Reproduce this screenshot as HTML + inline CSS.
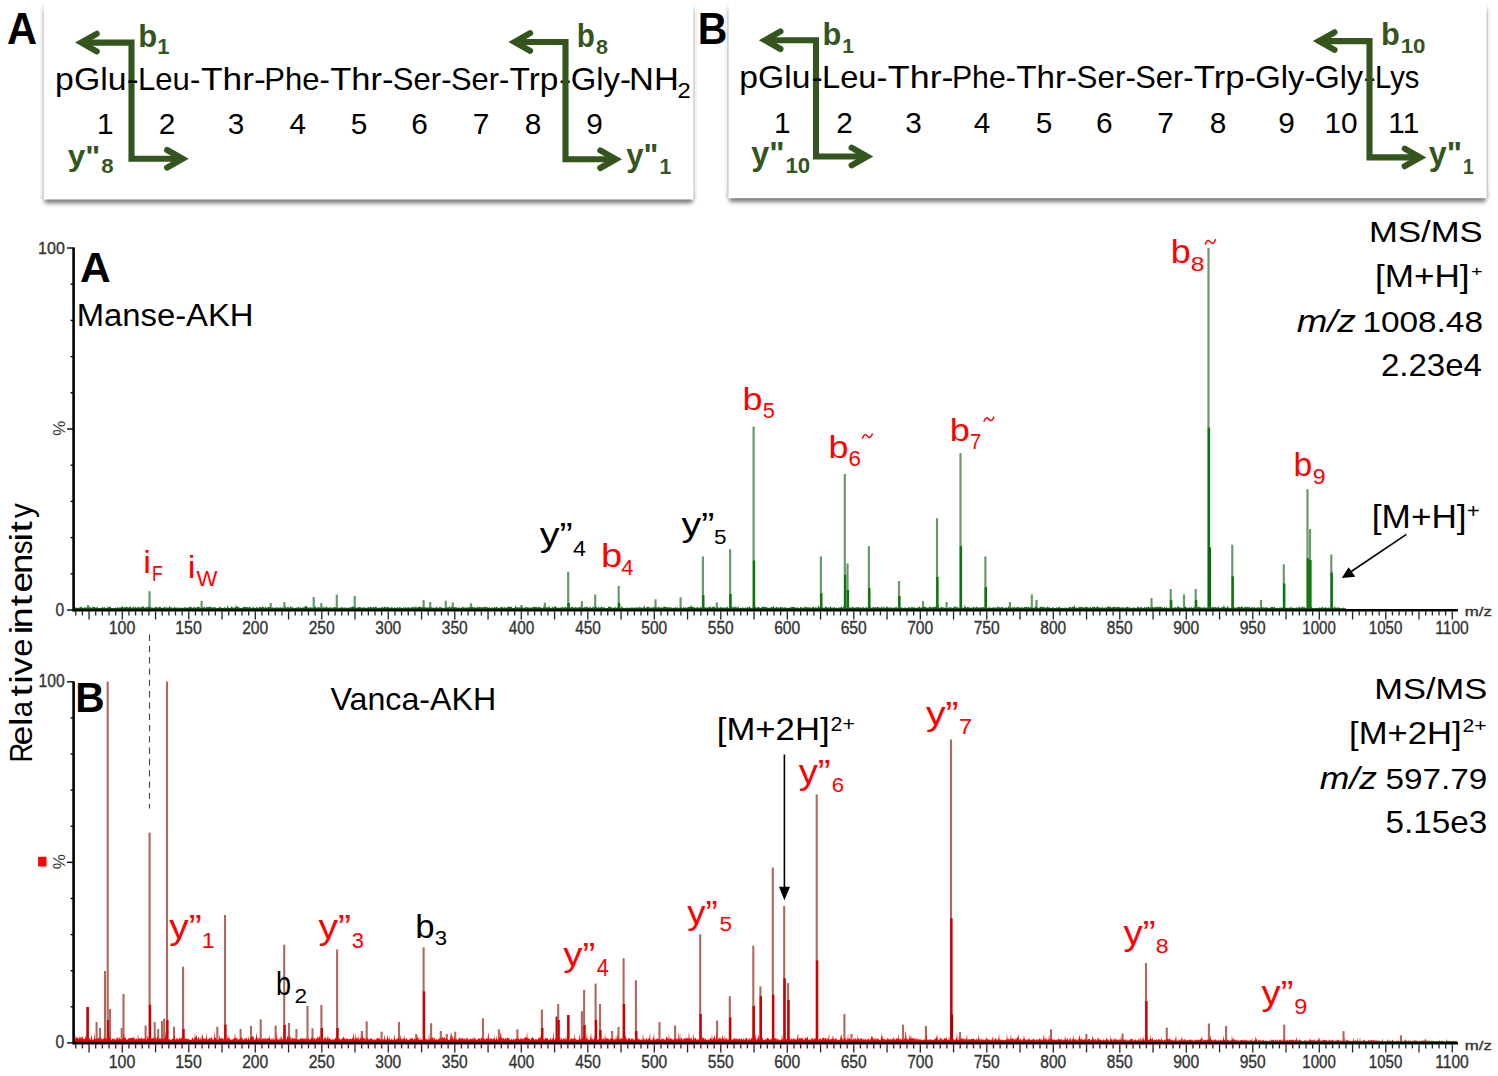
<!DOCTYPE html><html><head><meta charset="utf-8"><title>MS/MS spectra</title><style>html,body{margin:0;padding:0;background:#fff;width:1498px;height:1076px;overflow:hidden}svg{display:block;font-family:"Liberation Sans",sans-serif}</style></head><body><svg width="1498" height="1076" viewBox="0 0 1498 1076" font-family="'Liberation Sans', sans-serif"><defs>
<filter id="blur1" x="-5%" y="-50%" width="110%" height="200%"><feGaussianBlur stdDeviation="2.2"/></filter>
<linearGradient id="edgeg" gradientUnits="userSpaceOnUse" x1="0" y1="3" x2="0" y2="14">
<stop offset="0" stop-color="#d0d0d0" stop-opacity="0"/><stop offset="1" stop-color="#d0d0d0" stop-opacity="1"/></linearGradient>
<linearGradient id="edgeh" gradientUnits="userSpaceOnUse" x1="0" y1="3" x2="0" y2="14">
<stop offset="0" stop-color="#000" stop-opacity="0"/><stop offset="1" stop-color="#000" stop-opacity="0.05"/></linearGradient>
</defs><rect x="44.4" y="191.5" width="648.4" height="11.8" rx="2" fill="#000" opacity="0.52" filter="url(#blur1)"/><rect x="42.4" y="6" width="652.4" height="193.5" fill="#fff"/><line x1="41.55" y1="3" x2="41.55" y2="199.5" stroke="url(#edgeh)" stroke-width="3"/><line x1="43.15" y1="3" x2="43.15" y2="199.5" stroke="url(#edgeg)" stroke-width="1.6"/><line x1="695.65" y1="3" x2="695.65" y2="199.5" stroke="url(#edgeh)" stroke-width="3"/><line x1="694.05" y1="3" x2="694.05" y2="199.5" stroke="url(#edgeg)" stroke-width="1.6"/><rect x="729.1" y="190.2" width="756.9" height="11.8" rx="2" fill="#000" opacity="0.52" filter="url(#blur1)"/><rect x="727.1" y="6" width="760.9" height="192.2" fill="#fff"/><line x1="726.25" y1="3" x2="726.25" y2="198.2" stroke="url(#edgeh)" stroke-width="3"/><line x1="727.85" y1="3" x2="727.85" y2="198.2" stroke="url(#edgeg)" stroke-width="1.6"/><line x1="1488.85" y1="3" x2="1488.85" y2="198.2" stroke="url(#edgeh)" stroke-width="3"/><line x1="1487.25" y1="3" x2="1487.25" y2="198.2" stroke="url(#edgeg)" stroke-width="1.6"/><g><line x1="88.00" y1="609.00" x2="88.00" y2="605.00" stroke="#66996b" stroke-width="2.2"/><line x1="149.50" y1="609.00" x2="149.50" y2="591.20" stroke="#66996b" stroke-width="2.2"/><line x1="201.60" y1="609.00" x2="201.60" y2="600.80" stroke="#66996b" stroke-width="2.2"/><line x1="270.70" y1="609.00" x2="270.70" y2="603.00" stroke="#66996b" stroke-width="2.2"/><line x1="284.40" y1="609.00" x2="284.40" y2="602.00" stroke="#66996b" stroke-width="2.2"/><line x1="313.70" y1="609.00" x2="313.70" y2="597.00" stroke="#66996b" stroke-width="2.2"/><line x1="321.30" y1="609.00" x2="321.30" y2="603.00" stroke="#66996b" stroke-width="2.2"/><line x1="336.80" y1="609.00" x2="336.80" y2="594.70" stroke="#66996b" stroke-width="2.2"/><line x1="354.70" y1="609.00" x2="354.70" y2="595.90" stroke="#66996b" stroke-width="2.2"/><line x1="423.60" y1="609.00" x2="423.60" y2="599.90" stroke="#66996b" stroke-width="2.2"/><line x1="430.20" y1="609.00" x2="430.20" y2="602.00" stroke="#66996b" stroke-width="2.2"/><line x1="445.80" y1="609.00" x2="445.80" y2="600.70" stroke="#66996b" stroke-width="2.2"/><line x1="452.80" y1="609.00" x2="452.80" y2="602.50" stroke="#66996b" stroke-width="2.2"/><line x1="471.00" y1="609.00" x2="471.00" y2="603.30" stroke="#66996b" stroke-width="2.2"/><line x1="521.40" y1="609.00" x2="521.40" y2="605.00" stroke="#66996b" stroke-width="2.2"/><line x1="544.80" y1="609.00" x2="544.80" y2="602.50" stroke="#66996b" stroke-width="2.2"/><line x1="568.20" y1="609.00" x2="568.20" y2="571.70" stroke="#66996b" stroke-width="2.2"/><line x1="568.60" y1="609.00" x2="568.60" y2="603.00" stroke="#0b760b" stroke-width="2.4"/><line x1="581.90" y1="609.00" x2="581.90" y2="601.30" stroke="#66996b" stroke-width="2.2"/><line x1="595.20" y1="609.00" x2="595.20" y2="594.60" stroke="#66996b" stroke-width="2.2"/><line x1="618.70" y1="609.00" x2="618.70" y2="586.00" stroke="#66996b" stroke-width="2.2"/><line x1="619.10" y1="609.00" x2="619.10" y2="603.00" stroke="#0b760b" stroke-width="2.4"/><line x1="655.50" y1="609.00" x2="655.50" y2="599.30" stroke="#66996b" stroke-width="2.2"/><line x1="680.60" y1="609.00" x2="680.60" y2="597.30" stroke="#66996b" stroke-width="2.2"/><line x1="702.90" y1="609.00" x2="702.90" y2="556.40" stroke="#66996b" stroke-width="2.2"/><line x1="703.30" y1="609.00" x2="703.30" y2="595.20" stroke="#0b760b" stroke-width="2.4"/><line x1="716.80" y1="609.00" x2="716.80" y2="602.40" stroke="#66996b" stroke-width="2.2"/><line x1="730.10" y1="609.00" x2="730.10" y2="549.20" stroke="#66996b" stroke-width="2.2"/><line x1="730.50" y1="609.00" x2="730.50" y2="594.00" stroke="#0b760b" stroke-width="2.4"/><line x1="753.60" y1="609.00" x2="753.60" y2="426.60" stroke="#66996b" stroke-width="2.2"/><line x1="754.00" y1="609.00" x2="754.00" y2="560.50" stroke="#0b760b" stroke-width="2.4"/><line x1="820.90" y1="609.00" x2="820.90" y2="556.40" stroke="#66996b" stroke-width="2.2"/><line x1="821.30" y1="609.00" x2="821.30" y2="593.20" stroke="#0b760b" stroke-width="2.4"/><line x1="844.80" y1="609.00" x2="844.80" y2="474.00" stroke="#66996b" stroke-width="2.2"/><line x1="845.20" y1="609.00" x2="845.20" y2="574.80" stroke="#0b760b" stroke-width="2.4"/><line x1="847.50" y1="609.00" x2="847.50" y2="563.50" stroke="#66996b" stroke-width="2.2"/><line x1="847.90" y1="609.00" x2="847.90" y2="590.00" stroke="#0b760b" stroke-width="2.4"/><line x1="868.90" y1="609.00" x2="868.90" y2="546.20" stroke="#66996b" stroke-width="2.2"/><line x1="869.30" y1="609.00" x2="869.30" y2="588.00" stroke="#0b760b" stroke-width="2.4"/><line x1="899.00" y1="609.00" x2="899.00" y2="581.00" stroke="#66996b" stroke-width="2.2"/><line x1="899.40" y1="609.00" x2="899.40" y2="596.00" stroke="#0b760b" stroke-width="2.4"/><line x1="923.00" y1="609.00" x2="923.00" y2="601.00" stroke="#66996b" stroke-width="2.2"/><line x1="937.00" y1="609.00" x2="937.00" y2="518.20" stroke="#66996b" stroke-width="2.2"/><line x1="937.40" y1="609.00" x2="937.40" y2="576.80" stroke="#0b760b" stroke-width="2.4"/><line x1="946.60" y1="609.00" x2="946.60" y2="602.00" stroke="#66996b" stroke-width="2.2"/><line x1="960.50" y1="609.00" x2="960.50" y2="453.10" stroke="#66996b" stroke-width="2.2"/><line x1="960.90" y1="609.00" x2="960.90" y2="546.20" stroke="#0b760b" stroke-width="2.4"/><line x1="985.40" y1="609.00" x2="985.40" y2="556.40" stroke="#66996b" stroke-width="2.2"/><line x1="985.80" y1="609.00" x2="985.80" y2="587.00" stroke="#0b760b" stroke-width="2.4"/><line x1="1010.00" y1="609.00" x2="1010.00" y2="602.00" stroke="#66996b" stroke-width="2.2"/><line x1="1031.80" y1="609.00" x2="1031.80" y2="594.40" stroke="#66996b" stroke-width="2.2"/><line x1="1036.50" y1="609.00" x2="1036.50" y2="600.00" stroke="#66996b" stroke-width="2.2"/><line x1="1151.50" y1="609.00" x2="1151.50" y2="598.00" stroke="#66996b" stroke-width="2.2"/><line x1="1170.70" y1="609.00" x2="1170.70" y2="589.00" stroke="#66996b" stroke-width="2.2"/><line x1="1171.10" y1="609.00" x2="1171.10" y2="600.00" stroke="#0b760b" stroke-width="2.4"/><line x1="1184.00" y1="609.00" x2="1184.00" y2="594.40" stroke="#66996b" stroke-width="2.2"/><line x1="1195.70" y1="609.00" x2="1195.70" y2="589.00" stroke="#66996b" stroke-width="2.2"/><line x1="1196.10" y1="609.00" x2="1196.10" y2="600.00" stroke="#0b760b" stroke-width="2.4"/><line x1="1208.50" y1="609.00" x2="1208.50" y2="248.00" stroke="#66996b" stroke-width="2.2"/><line x1="1208.90" y1="609.00" x2="1208.90" y2="427.60" stroke="#0b760b" stroke-width="2.4"/><line x1="1232.30" y1="609.00" x2="1232.30" y2="544.70" stroke="#66996b" stroke-width="2.2"/><line x1="1232.70" y1="609.00" x2="1232.70" y2="576.30" stroke="#0b760b" stroke-width="2.4"/><line x1="1261.00" y1="609.00" x2="1261.00" y2="600.00" stroke="#66996b" stroke-width="2.2"/><line x1="1283.80" y1="609.00" x2="1283.80" y2="564.30" stroke="#66996b" stroke-width="2.2"/><line x1="1284.20" y1="609.00" x2="1284.20" y2="583.50" stroke="#0b760b" stroke-width="2.4"/><line x1="1307.50" y1="609.00" x2="1307.50" y2="489.20" stroke="#66996b" stroke-width="2.2"/><line x1="1307.90" y1="609.00" x2="1307.90" y2="558.10" stroke="#0b760b" stroke-width="2.4"/><line x1="1310.00" y1="609.00" x2="1310.00" y2="529.10" stroke="#66996b" stroke-width="2.2"/><line x1="1310.40" y1="609.00" x2="1310.40" y2="560.00" stroke="#0b760b" stroke-width="2.4"/><line x1="1331.30" y1="609.00" x2="1331.30" y2="554.50" stroke="#66996b" stroke-width="2.2"/><line x1="1331.70" y1="609.00" x2="1331.70" y2="572.60" stroke="#0b760b" stroke-width="2.4"/><line x1="1209.50" y1="609.00" x2="1209.50" y2="547.30" stroke="#0a6a0a" stroke-width="3.0"/><line x1="87.30" y1="1042.00" x2="87.30" y2="1007.00" stroke="#b0685e" stroke-width="2.1"/><line x1="87.70" y1="1042.00" x2="87.70" y2="1007.00" stroke="#cc0000" stroke-width="2.4"/><line x1="96.60" y1="1042.00" x2="96.60" y2="1022.00" stroke="#b0685e" stroke-width="2.1"/><line x1="100.00" y1="1042.00" x2="100.00" y2="1028.00" stroke="#b0685e" stroke-width="2.1"/><line x1="105.00" y1="1042.00" x2="105.00" y2="971.00" stroke="#b0685e" stroke-width="2.1"/><line x1="107.70" y1="1042.00" x2="107.70" y2="681.50" stroke="#b0685e" stroke-width="2.1"/><line x1="108.10" y1="1042.00" x2="108.10" y2="1020.00" stroke="#cc0000" stroke-width="2.4"/><line x1="110.00" y1="1042.00" x2="110.00" y2="1009.00" stroke="#b0685e" stroke-width="2.1"/><line x1="121.70" y1="1042.00" x2="121.70" y2="1028.00" stroke="#b0685e" stroke-width="2.1"/><line x1="123.50" y1="1042.00" x2="123.50" y2="994.00" stroke="#b0685e" stroke-width="2.1"/><line x1="145.60" y1="1042.00" x2="145.60" y2="1025.60" stroke="#b0685e" stroke-width="2.1"/><line x1="149.60" y1="1042.00" x2="149.60" y2="832.60" stroke="#b0685e" stroke-width="2.1"/><line x1="150.00" y1="1042.00" x2="150.00" y2="1004.70" stroke="#cc0000" stroke-width="2.4"/><line x1="154.70" y1="1042.00" x2="154.70" y2="1022.00" stroke="#b0685e" stroke-width="2.1"/><line x1="158.20" y1="1042.00" x2="158.20" y2="1029.00" stroke="#b0685e" stroke-width="2.1"/><line x1="162.00" y1="1042.00" x2="162.00" y2="1021.00" stroke="#b0685e" stroke-width="2.1"/><line x1="164.20" y1="1042.00" x2="164.20" y2="1018.60" stroke="#b0685e" stroke-width="2.1"/><line x1="167.00" y1="1042.00" x2="167.00" y2="681.50" stroke="#b0685e" stroke-width="2.1"/><line x1="167.40" y1="1042.00" x2="167.40" y2="1020.00" stroke="#cc0000" stroke-width="2.4"/><line x1="174.00" y1="1042.00" x2="174.00" y2="1026.80" stroke="#b0685e" stroke-width="2.1"/><line x1="183.10" y1="1042.00" x2="183.10" y2="966.60" stroke="#b0685e" stroke-width="2.1"/><line x1="183.50" y1="1042.00" x2="183.50" y2="1029.00" stroke="#cc0000" stroke-width="2.4"/><line x1="217.30" y1="1042.00" x2="217.30" y2="1026.80" stroke="#b0685e" stroke-width="2.1"/><line x1="225.00" y1="1042.00" x2="225.00" y2="915.00" stroke="#b0685e" stroke-width="2.1"/><line x1="225.40" y1="1042.00" x2="225.40" y2="1024.60" stroke="#cc0000" stroke-width="2.4"/><line x1="240.60" y1="1042.00" x2="240.60" y2="1029.00" stroke="#b0685e" stroke-width="2.1"/><line x1="251.00" y1="1042.00" x2="251.00" y2="1026.00" stroke="#b0685e" stroke-width="2.1"/><line x1="260.70" y1="1042.00" x2="260.70" y2="1019.40" stroke="#b0685e" stroke-width="2.1"/><line x1="275.60" y1="1042.00" x2="275.60" y2="1025.60" stroke="#b0685e" stroke-width="2.1"/><line x1="284.20" y1="1042.00" x2="284.20" y2="944.70" stroke="#b0685e" stroke-width="2.1"/><line x1="284.60" y1="1042.00" x2="284.60" y2="1025.00" stroke="#cc0000" stroke-width="2.4"/><line x1="289.00" y1="1042.00" x2="289.00" y2="1023.00" stroke="#b0685e" stroke-width="2.1"/><line x1="296.40" y1="1042.00" x2="296.40" y2="1029.00" stroke="#b0685e" stroke-width="2.1"/><line x1="307.50" y1="1042.00" x2="307.50" y2="1006.00" stroke="#b0685e" stroke-width="2.1"/><line x1="312.50" y1="1042.00" x2="312.50" y2="1028.30" stroke="#b0685e" stroke-width="2.1"/><line x1="321.40" y1="1042.00" x2="321.40" y2="1005.00" stroke="#b0685e" stroke-width="2.1"/><line x1="321.80" y1="1042.00" x2="321.80" y2="1028.00" stroke="#cc0000" stroke-width="2.4"/><line x1="337.10" y1="1042.00" x2="337.10" y2="949.50" stroke="#b0685e" stroke-width="2.1"/><line x1="337.50" y1="1042.00" x2="337.50" y2="1028.00" stroke="#cc0000" stroke-width="2.4"/><line x1="361.80" y1="1042.00" x2="361.80" y2="1031.00" stroke="#b0685e" stroke-width="2.1"/><line x1="366.70" y1="1042.00" x2="366.70" y2="1021.30" stroke="#b0685e" stroke-width="2.1"/><line x1="381.60" y1="1042.00" x2="381.60" y2="1031.70" stroke="#b0685e" stroke-width="2.1"/><line x1="399.00" y1="1042.00" x2="399.00" y2="1022.00" stroke="#b0685e" stroke-width="2.1"/><line x1="416.20" y1="1042.00" x2="416.20" y2="1034.00" stroke="#b0685e" stroke-width="2.1"/><line x1="423.60" y1="1042.00" x2="423.60" y2="947.40" stroke="#b0685e" stroke-width="2.1"/><line x1="424.00" y1="1042.00" x2="424.00" y2="991.30" stroke="#cc0000" stroke-width="2.4"/><line x1="431.10" y1="1042.00" x2="431.10" y2="1023.30" stroke="#b0685e" stroke-width="2.1"/><line x1="440.80" y1="1042.00" x2="440.80" y2="1031.00" stroke="#b0685e" stroke-width="2.1"/><line x1="446.80" y1="1042.00" x2="446.80" y2="1034.00" stroke="#b0685e" stroke-width="2.1"/><line x1="455.20" y1="1042.00" x2="455.20" y2="1031.70" stroke="#b0685e" stroke-width="2.1"/><line x1="483.00" y1="1042.00" x2="483.00" y2="1018.30" stroke="#b0685e" stroke-width="2.1"/><line x1="498.90" y1="1042.00" x2="498.90" y2="1029.30" stroke="#b0685e" stroke-width="2.1"/><line x1="517.40" y1="1042.00" x2="517.40" y2="1029.30" stroke="#b0685e" stroke-width="2.1"/><line x1="541.90" y1="1042.00" x2="541.90" y2="1009.60" stroke="#b0685e" stroke-width="2.1"/><line x1="542.30" y1="1042.00" x2="542.30" y2="1028.00" stroke="#cc0000" stroke-width="2.4"/><line x1="556.60" y1="1042.00" x2="556.60" y2="1016.70" stroke="#b0685e" stroke-width="2.1"/><line x1="557.00" y1="1042.00" x2="557.00" y2="1016.70" stroke="#cc0000" stroke-width="2.4"/><line x1="558.20" y1="1042.00" x2="558.20" y2="1004.00" stroke="#b0685e" stroke-width="2.1"/><line x1="558.60" y1="1042.00" x2="558.60" y2="1020.00" stroke="#cc0000" stroke-width="2.4"/><line x1="568.00" y1="1042.00" x2="568.00" y2="1015.00" stroke="#b0685e" stroke-width="2.1"/><line x1="568.40" y1="1042.00" x2="568.40" y2="1015.00" stroke="#cc0000" stroke-width="2.4"/><line x1="581.90" y1="1042.00" x2="581.90" y2="1011.20" stroke="#b0685e" stroke-width="2.1"/><line x1="584.10" y1="1042.00" x2="584.10" y2="989.80" stroke="#b0685e" stroke-width="2.1"/><line x1="584.50" y1="1042.00" x2="584.50" y2="1025.00" stroke="#cc0000" stroke-width="2.4"/><line x1="595.60" y1="1042.00" x2="595.60" y2="983.50" stroke="#b0685e" stroke-width="2.1"/><line x1="596.00" y1="1042.00" x2="596.00" y2="1019.90" stroke="#cc0000" stroke-width="2.4"/><line x1="600.00" y1="1042.00" x2="600.00" y2="1004.00" stroke="#b0685e" stroke-width="2.1"/><line x1="600.40" y1="1042.00" x2="600.40" y2="1030.00" stroke="#cc0000" stroke-width="2.4"/><line x1="612.20" y1="1042.00" x2="612.20" y2="1031.00" stroke="#b0685e" stroke-width="2.1"/><line x1="618.50" y1="1042.00" x2="618.50" y2="1027.00" stroke="#b0685e" stroke-width="2.1"/><line x1="623.60" y1="1042.00" x2="623.60" y2="958.20" stroke="#b0685e" stroke-width="2.1"/><line x1="624.00" y1="1042.00" x2="624.00" y2="1004.00" stroke="#cc0000" stroke-width="2.4"/><line x1="635.90" y1="1042.00" x2="635.90" y2="980.30" stroke="#b0685e" stroke-width="2.1"/><line x1="636.30" y1="1042.00" x2="636.30" y2="1031.00" stroke="#cc0000" stroke-width="2.4"/><line x1="659.50" y1="1042.00" x2="659.50" y2="1022.00" stroke="#b0685e" stroke-width="2.1"/><line x1="675.10" y1="1042.00" x2="675.10" y2="1025.40" stroke="#b0685e" stroke-width="2.1"/><line x1="700.20" y1="1042.00" x2="700.20" y2="934.30" stroke="#b0685e" stroke-width="2.1"/><line x1="700.60" y1="1042.00" x2="700.60" y2="1014.00" stroke="#cc0000" stroke-width="2.4"/><line x1="717.10" y1="1042.00" x2="717.10" y2="1020.60" stroke="#b0685e" stroke-width="2.1"/><line x1="729.80" y1="1042.00" x2="729.80" y2="996.20" stroke="#b0685e" stroke-width="2.1"/><line x1="730.20" y1="1042.00" x2="730.20" y2="1017.30" stroke="#cc0000" stroke-width="2.4"/><line x1="753.30" y1="1042.00" x2="753.30" y2="945.70" stroke="#b0685e" stroke-width="2.1"/><line x1="753.70" y1="1042.00" x2="753.70" y2="1006.00" stroke="#cc0000" stroke-width="2.4"/><line x1="760.40" y1="1042.00" x2="760.40" y2="986.40" stroke="#b0685e" stroke-width="2.1"/><line x1="760.80" y1="1042.00" x2="760.80" y2="996.20" stroke="#cc0000" stroke-width="2.4"/><line x1="772.80" y1="1042.00" x2="772.80" y2="867.60" stroke="#b0685e" stroke-width="2.1"/><line x1="773.20" y1="1042.00" x2="773.20" y2="994.50" stroke="#cc0000" stroke-width="2.4"/><line x1="784.20" y1="1042.00" x2="784.20" y2="906.00" stroke="#b0685e" stroke-width="2.1"/><line x1="784.60" y1="1042.00" x2="784.60" y2="978.30" stroke="#cc0000" stroke-width="2.4"/><line x1="788.10" y1="1042.00" x2="788.10" y2="983.10" stroke="#b0685e" stroke-width="2.1"/><line x1="788.50" y1="1042.00" x2="788.50" y2="1000.00" stroke="#cc0000" stroke-width="2.4"/><line x1="816.70" y1="1042.00" x2="816.70" y2="794.40" stroke="#b0685e" stroke-width="2.1"/><line x1="817.10" y1="1042.00" x2="817.10" y2="960.40" stroke="#cc0000" stroke-width="2.4"/><line x1="844.40" y1="1042.00" x2="844.40" y2="1014.00" stroke="#b0685e" stroke-width="2.1"/><line x1="851.50" y1="1042.00" x2="851.50" y2="1034.00" stroke="#b0685e" stroke-width="2.1"/><line x1="903.00" y1="1042.00" x2="903.00" y2="1024.60" stroke="#b0685e" stroke-width="2.1"/><line x1="925.90" y1="1042.00" x2="925.90" y2="1026.00" stroke="#b0685e" stroke-width="2.1"/><line x1="951.00" y1="1042.00" x2="951.00" y2="739.40" stroke="#b0685e" stroke-width="2.1"/><line x1="951.40" y1="1042.00" x2="951.40" y2="918.10" stroke="#cc0000" stroke-width="2.4"/><line x1="960.10" y1="1042.00" x2="960.10" y2="1032.00" stroke="#b0685e" stroke-width="2.1"/><line x1="1051.00" y1="1042.00" x2="1051.00" y2="1029.30" stroke="#b0685e" stroke-width="2.1"/><line x1="1086.40" y1="1042.00" x2="1086.40" y2="1034.00" stroke="#b0685e" stroke-width="2.1"/><line x1="1122.60" y1="1042.00" x2="1122.60" y2="1033.50" stroke="#b0685e" stroke-width="2.1"/><line x1="1146.00" y1="1042.00" x2="1146.00" y2="963.10" stroke="#b0685e" stroke-width="2.1"/><line x1="1146.40" y1="1042.00" x2="1146.40" y2="1001.00" stroke="#cc0000" stroke-width="2.4"/><line x1="1166.80" y1="1042.00" x2="1166.80" y2="1027.70" stroke="#b0685e" stroke-width="2.1"/><line x1="1208.90" y1="1042.00" x2="1208.90" y2="1023.50" stroke="#b0685e" stroke-width="2.1"/><line x1="1226.10" y1="1042.00" x2="1226.10" y2="1026.00" stroke="#b0685e" stroke-width="2.1"/><line x1="1284.20" y1="1042.00" x2="1284.20" y2="1024.60" stroke="#b0685e" stroke-width="2.1"/><line x1="1343.50" y1="1042.00" x2="1343.50" y2="1031.20" stroke="#b0685e" stroke-width="2.1"/><line x1="1401.00" y1="1042.00" x2="1401.00" y2="1035.30" stroke="#b0685e" stroke-width="2.1"/><line x1="951.60" y1="1042.00" x2="951.60" y2="1014.20" stroke="#b00000" stroke-width="3.0"/><path d="M75.0,609.6 L75.0,607.8 L75.6,607.2 L76.2,607.4 L76.8,608.1 L77.4,608.1 L78.0,608.1 L78.6,607.6 L79.2,608.0 L79.8,607.2 L80.4,607.3 L81.0,606.4 L81.6,606.7 L82.2,608.0 L82.8,607.8 L83.4,608.0 L84.0,607.2 L84.6,607.4 L85.2,608.1 L85.8,607.1 L86.4,607.8 L87.0,607.6 L87.6,606.8 L88.2,607.9 L88.8,607.4 L89.4,607.0 L90.0,606.4 L90.6,607.6 L91.2,608.0 L91.8,608.1 L92.4,606.9 L93.0,606.6 L93.6,607.1 L94.2,607.3 L94.8,606.7 L95.4,607.5 L96.0,608.1 L96.6,607.2 L97.2,606.8 L97.8,607.7 L98.4,608.1 L99.0,608.0 L99.6,608.1 L100.2,608.0 L100.8,607.7 L101.4,608.1 L102.0,607.4 L102.6,606.8 L103.2,607.8 L103.8,607.7 L104.4,606.4 L105.0,608.0 L105.6,607.9 L106.2,607.3 L106.8,608.1 L107.4,607.7 L108.0,606.4 L108.6,607.4 L109.2,607.1 L109.8,606.6 L110.4,606.6 L111.0,607.7 L111.6,608.0 L112.2,608.1 L112.8,607.9 L113.4,607.7 L114.0,608.1 L114.6,608.0 L115.2,608.1 L115.8,607.2 L116.4,607.9 L117.0,607.7 L117.6,606.7 L118.2,607.5 L118.8,608.1 L119.4,607.7 L120.0,606.7 L120.6,608.1 L121.2,607.4 L121.8,606.0 L122.4,606.4 L123.0,607.1 L123.6,607.7 L124.2,606.9 L124.8,606.9 L125.4,607.9 L126.0,606.3 L126.6,606.8 L127.2,607.0 L127.8,607.4 L128.4,607.3 L129.0,607.9 L129.6,606.4 L130.2,606.5 L130.8,606.4 L131.4,607.9 L132.0,607.9 L132.6,607.2 L133.2,606.7 L133.8,607.2 L134.4,608.1 L135.0,606.5 L135.6,606.9 L136.2,608.0 L136.8,607.8 L137.4,606.4 L138.0,607.6 L138.6,607.0 L139.2,608.0 L139.8,606.6 L140.4,608.0 L141.0,606.4 L141.6,607.7 L142.2,605.4 L142.8,607.2 L143.4,606.5 L144.0,606.6 L144.6,607.9 L145.2,607.8 L145.8,607.3 L146.4,607.6 L147.0,606.5 L147.6,607.5 L148.2,606.6 L148.8,606.5 L149.4,607.4 L150.0,608.1 L150.6,605.8 L151.2,608.0 L151.8,607.0 L152.4,607.8 L153.0,607.4 L153.6,608.0 L154.2,607.9 L154.8,606.9 L155.4,607.3 L156.0,606.5 L156.6,607.2 L157.2,607.4 L157.8,607.6 L158.4,607.5 L159.0,607.0 L159.6,606.5 L160.2,607.3 L160.8,606.7 L161.4,608.0 L162.0,608.1 L162.6,608.1 L163.2,606.9 L163.8,608.0 L164.4,607.1 L165.0,606.6 L165.6,607.9 L166.2,607.6 L166.8,606.3 L167.4,608.0 L168.0,607.4 L168.6,607.9 L169.2,605.5 L169.8,606.7 L170.4,607.2 L171.0,608.1 L171.6,606.8 L172.2,608.0 L172.8,608.1 L173.4,607.8 L174.0,607.6 L174.6,606.8 L175.2,608.0 L175.8,607.3 L176.4,608.1 L177.0,607.1 L177.6,608.1 L178.2,607.2 L178.8,608.1 L179.4,608.1 L180.0,607.5 L180.6,607.4 L181.2,607.9 L181.8,607.4 L182.4,608.0 L183.0,608.1 L183.6,607.8 L184.2,606.9 L184.8,607.5 L185.4,607.1 L186.0,608.1 L186.6,607.4 L187.2,607.5 L187.8,608.0 L188.4,607.6 L189.0,606.7 L189.6,607.5 L190.2,606.3 L190.8,606.7 L191.4,607.2 L192.0,607.7 L192.6,608.0 L193.2,607.0 L193.8,608.0 L194.4,606.7 L195.0,607.1 L195.6,607.9 L196.2,607.5 L196.8,607.6 L197.4,606.4 L198.0,607.4 L198.6,606.4 L199.2,606.7 L199.8,607.5 L200.4,607.9 L201.0,608.1 L201.6,608.1 L202.2,607.3 L202.8,607.9 L203.4,607.4 L204.0,607.1 L204.6,606.6 L205.2,607.8 L205.8,608.0 L206.4,607.2 L207.0,606.7 L207.6,607.2 L208.2,606.8 L208.8,607.4 L209.4,606.7 L210.0,606.7 L210.6,606.6 L211.2,607.1 L211.8,608.1 L212.4,607.7 L213.0,606.7 L213.6,607.2 L214.2,607.1 L214.8,608.1 L215.4,606.9 L216.0,607.4 L216.6,608.1 L217.2,607.9 L217.8,607.9 L218.4,607.9 L219.0,606.4 L219.6,607.7 L220.2,607.1 L220.8,607.2 L221.4,608.1 L222.0,607.9 L222.6,607.8 L223.2,608.1 L223.8,607.8 L224.4,607.1 L225.0,607.8 L225.6,607.5 L226.2,608.0 L226.8,607.9 L227.4,605.2 L228.0,606.8 L228.6,607.6 L229.2,607.9 L229.8,607.9 L230.4,608.0 L231.0,606.4 L231.6,606.8 L232.2,606.6 L232.8,607.9 L233.4,607.5 L234.0,607.5 L234.6,607.8 L235.2,607.7 L235.8,604.7 L236.4,606.7 L237.0,606.5 L237.6,606.6 L238.2,607.7 L238.8,606.3 L239.4,607.7 L240.0,607.8 L240.6,608.0 L241.2,607.8 L241.8,607.9 L242.4,607.4 L243.0,607.7 L243.6,606.6 L244.2,607.2 L244.8,606.5 L245.4,607.0 L246.0,607.0 L246.6,606.9 L247.2,607.8 L247.8,606.5 L248.4,607.5 L249.0,607.8 L249.6,606.4 L250.2,607.1 L250.8,607.4 L251.4,608.0 L252.0,607.9 L252.6,607.5 L253.2,606.5 L253.8,607.6 L254.4,607.9 L255.0,607.7 L255.6,607.9 L256.2,607.3 L256.8,606.9 L257.4,607.6 L258.0,607.7 L258.6,608.1 L259.2,606.4 L259.8,607.5 L260.4,606.7 L261.0,607.8 L261.6,607.6 L262.2,606.4 L262.8,606.5 L263.4,607.0 L264.0,607.5 L264.6,608.1 L265.2,606.5 L265.8,606.7 L266.4,607.9 L267.0,608.0 L267.6,607.1 L268.2,607.0 L268.8,606.9 L269.4,607.4 L270.0,606.9 L270.6,606.5 L271.2,607.8 L271.8,607.9 L272.4,607.0 L273.0,608.1 L273.6,607.3 L274.2,607.9 L274.8,608.1 L275.4,607.5 L276.0,607.2 L276.6,607.5 L277.2,607.9 L277.8,607.0 L278.4,608.1 L279.0,607.1 L279.6,607.9 L280.2,606.5 L280.8,608.1 L281.4,607.6 L282.0,607.9 L282.6,607.0 L283.2,607.9 L283.8,607.8 L284.4,607.9 L285.0,606.9 L285.6,606.4 L286.2,608.0 L286.8,607.6 L287.4,606.4 L288.0,607.7 L288.6,606.4 L289.2,608.1 L289.8,607.7 L290.4,606.6 L291.0,606.3 L291.6,607.8 L292.2,606.5 L292.8,608.1 L293.4,607.7 L294.0,607.8 L294.6,608.1 L295.2,607.7 L295.8,608.0 L296.4,607.9 L297.0,606.8 L297.6,607.6 L298.2,607.5 L298.8,606.5 L299.4,607.7 L300.0,608.1 L300.6,606.8 L301.2,608.1 L301.8,608.1 L302.4,607.9 L303.0,606.6 L303.6,607.8 L304.2,607.2 L304.8,607.0 L305.4,605.8 L306.0,606.5 L306.6,605.8 L307.2,607.5 L307.8,606.4 L308.4,607.9 L309.0,607.5 L309.6,608.0 L310.2,607.0 L310.8,606.9 L311.4,607.8 L312.0,607.7 L312.6,608.1 L313.2,606.9 L313.8,608.1 L314.4,607.4 L315.0,606.4 L315.6,606.3 L316.2,608.1 L316.8,607.5 L317.4,607.6 L318.0,607.6 L318.6,607.1 L319.2,606.7 L319.8,608.0 L320.4,607.8 L321.0,607.7 L321.6,607.9 L322.2,607.9 L322.8,606.6 L323.4,607.8 L324.0,606.3 L324.6,607.9 L325.2,607.1 L325.8,608.0 L326.4,606.8 L327.0,606.5 L327.6,607.8 L328.2,608.0 L328.8,607.3 L329.4,607.7 L330.0,607.6 L330.6,606.9 L331.2,608.0 L331.8,607.2 L332.4,607.7 L333.0,607.9 L333.6,607.3 L334.2,607.1 L334.8,607.1 L335.4,607.8 L336.0,606.8 L336.6,608.1 L337.2,607.7 L337.8,607.2 L338.4,608.0 L339.0,607.6 L339.6,607.8 L340.2,607.8 L340.8,607.7 L341.4,606.7 L342.0,607.7 L342.6,607.0 L343.2,608.1 L343.8,607.6 L344.4,607.6 L345.0,607.5 L345.6,608.1 L346.2,607.2 L346.8,608.1 L347.4,607.7 L348.0,608.0 L348.6,607.4 L349.2,608.0 L349.8,606.8 L350.4,607.9 L351.0,606.5 L351.6,607.5 L352.2,606.5 L352.8,606.6 L353.4,606.8 L354.0,606.8 L354.6,607.6 L355.2,606.7 L355.8,607.9 L356.4,607.4 L357.0,608.0 L357.6,607.0 L358.2,608.1 L358.8,606.9 L359.4,606.7 L360.0,607.3 L360.6,607.2 L361.2,607.6 L361.8,607.6 L362.4,607.6 L363.0,608.1 L363.6,607.5 L364.2,606.9 L364.8,607.5 L365.4,607.5 L366.0,608.0 L366.6,608.1 L367.2,607.4 L367.8,607.2 L368.4,607.0 L369.0,607.4 L369.6,607.5 L370.2,606.4 L370.8,606.7 L371.4,607.0 L372.0,607.9 L372.6,607.5 L373.2,606.5 L373.8,606.8 L374.4,608.1 L375.0,606.9 L375.6,606.6 L376.2,606.8 L376.8,607.5 L377.4,607.9 L378.0,607.5 L378.6,608.1 L379.2,608.0 L379.8,607.1 L380.4,608.0 L381.0,608.0 L381.6,607.2 L382.2,606.6 L382.8,607.3 L383.4,608.0 L384.0,607.2 L384.6,606.8 L385.2,606.3 L385.8,607.7 L386.4,607.6 L387.0,606.9 L387.6,606.8 L388.2,607.2 L388.8,607.3 L389.4,607.7 L390.0,608.0 L390.6,607.6 L391.2,606.6 L391.8,607.9 L392.4,607.1 L393.0,608.0 L393.6,607.9 L394.2,607.3 L394.8,607.2 L395.4,608.0 L396.0,607.9 L396.6,608.0 L397.2,606.6 L397.8,607.6 L398.4,608.1 L399.0,607.3 L399.6,607.2 L400.2,606.5 L400.8,607.9 L401.4,608.1 L402.0,607.6 L402.6,608.1 L403.2,608.1 L403.8,606.5 L404.4,607.9 L405.0,607.5 L405.6,606.8 L406.2,607.8 L406.8,608.1 L407.4,606.9 L408.0,608.1 L408.6,606.9 L409.2,607.0 L409.8,607.9 L410.4,607.9 L411.0,607.8 L411.6,607.1 L412.2,607.0 L412.8,607.4 L413.4,606.8 L414.0,607.9 L414.6,606.4 L415.2,605.9 L415.8,607.9 L416.4,606.4 L417.0,607.8 L417.6,607.8 L418.2,606.5 L418.8,607.1 L419.4,606.4 L420.0,606.7 L420.6,606.7 L421.2,607.0 L421.8,607.8 L422.4,607.2 L423.0,606.5 L423.6,608.1 L424.2,606.5 L424.8,607.9 L425.4,607.1 L426.0,607.1 L426.6,608.1 L427.2,607.7 L427.8,606.8 L428.4,608.1 L429.0,606.5 L429.6,608.0 L430.2,608.0 L430.8,606.7 L431.4,607.2 L432.0,607.2 L432.6,608.0 L433.2,606.9 L433.8,607.8 L434.4,608.1 L435.0,607.8 L435.6,607.7 L436.2,606.4 L436.8,606.7 L437.4,608.1 L438.0,607.6 L438.6,607.7 L439.2,607.4 L439.8,606.7 L440.4,606.8 L441.0,608.1 L441.6,606.9 L442.2,608.1 L442.8,607.5 L443.4,608.0 L444.0,607.7 L444.6,607.9 L445.2,607.8 L445.8,607.0 L446.4,608.0 L447.0,608.1 L447.6,607.1 L448.2,607.2 L448.8,607.6 L449.4,606.6 L450.0,606.0 L450.6,607.9 L451.2,607.5 L451.8,606.6 L452.4,607.5 L453.0,606.9 L453.6,607.2 L454.2,607.8 L454.8,606.7 L455.4,606.9 L456.0,607.6 L456.6,607.3 L457.2,607.5 L457.8,607.9 L458.4,607.8 L459.0,606.7 L459.6,608.0 L460.2,607.8 L460.8,608.0 L461.4,608.0 L462.0,607.0 L462.6,606.4 L463.2,607.7 L463.8,606.8 L464.4,607.6 L465.0,607.2 L465.6,607.9 L466.2,608.1 L466.8,606.8 L467.4,607.5 L468.0,607.5 L468.6,607.3 L469.2,607.0 L469.8,607.6 L470.4,606.9 L471.0,607.9 L471.6,606.6 L472.2,607.0 L472.8,607.1 L473.4,607.5 L474.0,607.2 L474.6,607.6 L475.2,607.0 L475.8,607.9 L476.4,607.5 L477.0,607.6 L477.6,606.5 L478.2,607.1 L478.8,607.7 L479.4,606.4 L480.0,607.4 L480.6,606.9 L481.2,607.4 L481.8,607.3 L482.4,607.0 L483.0,607.2 L483.6,607.4 L484.2,606.4 L484.8,607.1 L485.4,606.9 L486.0,606.3 L486.6,608.1 L487.2,606.5 L487.8,607.6 L488.4,607.7 L489.0,607.9 L489.6,606.5 L490.2,607.9 L490.8,607.7 L491.4,608.0 L492.0,606.8 L492.6,607.5 L493.2,607.9 L493.8,607.7 L494.4,606.8 L495.0,607.5 L495.6,607.4 L496.2,606.7 L496.8,606.7 L497.4,607.7 L498.0,607.6 L498.6,608.1 L499.2,607.8 L499.8,607.8 L500.4,607.6 L501.0,607.1 L501.6,606.5 L502.2,608.1 L502.8,606.5 L503.4,608.0 L504.0,607.2 L504.6,606.4 L505.2,607.9 L505.8,608.0 L506.4,606.9 L507.0,608.0 L507.6,606.8 L508.2,606.6 L508.8,606.9 L509.4,606.6 L510.0,606.7 L510.6,607.1 L511.2,606.9 L511.8,606.6 L512.4,607.9 L513.0,608.0 L513.6,608.1 L514.2,608.0 L514.8,607.5 L515.4,604.4 L516.0,607.5 L516.6,607.1 L517.2,607.7 L517.8,606.4 L518.4,607.2 L519.0,608.1 L519.6,607.1 L520.2,607.8 L520.8,607.4 L521.4,606.6 L522.0,607.0 L522.6,607.7 L523.2,607.7 L523.8,607.4 L524.4,607.9 L525.0,607.6 L525.6,606.7 L526.2,606.7 L526.8,607.5 L527.4,607.5 L528.0,607.1 L528.6,607.8 L529.2,607.8 L529.8,607.2 L530.4,608.1 L531.0,606.6 L531.6,608.1 L532.2,608.1 L532.8,606.5 L533.4,607.1 L534.0,606.5 L534.6,607.2 L535.2,607.1 L535.8,607.1 L536.4,607.1 L537.0,606.9 L537.6,608.0 L538.2,606.9 L538.8,607.1 L539.4,606.8 L540.0,607.3 L540.6,607.8 L541.2,607.8 L541.8,607.2 L542.4,608.1 L543.0,608.1 L543.6,606.8 L544.2,606.5 L544.8,608.1 L545.4,607.3 L546.0,606.4 L546.6,607.6 L547.2,607.2 L547.8,608.0 L548.4,607.1 L549.0,606.4 L549.6,606.6 L550.2,608.1 L550.8,607.9 L551.4,608.0 L552.0,606.9 L552.6,606.7 L553.2,608.1 L553.8,607.0 L554.4,606.5 L555.0,606.4 L555.6,606.3 L556.2,606.8 L556.8,607.8 L557.4,608.0 L558.0,607.5 L558.6,607.7 L559.2,607.6 L559.8,608.0 L560.4,607.7 L561.0,607.2 L561.6,607.7 L562.2,606.4 L562.8,607.3 L563.4,608.1 L564.0,607.0 L564.6,607.8 L565.2,606.4 L565.8,607.3 L566.4,607.6 L567.0,607.7 L567.6,607.3 L568.2,606.8 L568.8,608.1 L569.4,607.6 L570.0,606.8 L570.6,608.1 L571.2,606.8 L571.8,607.3 L572.4,606.7 L573.0,607.1 L573.6,607.7 L574.2,607.4 L574.8,607.9 L575.4,606.5 L576.0,607.2 L576.6,607.5 L577.2,607.9 L577.8,606.8 L578.4,608.1 L579.0,606.9 L579.6,607.3 L580.2,606.6 L580.8,607.5 L581.4,608.0 L582.0,608.0 L582.6,607.7 L583.2,607.6 L583.8,608.0 L584.4,606.3 L585.0,608.0 L585.6,606.8 L586.2,607.3 L586.8,607.3 L587.4,606.3 L588.0,607.5 L588.6,607.9 L589.2,607.6 L589.8,606.9 L590.4,606.4 L591.0,608.1 L591.6,608.0 L592.2,608.1 L592.8,606.6 L593.4,606.4 L594.0,608.1 L594.6,607.6 L595.2,606.4 L595.8,607.3 L596.4,606.4 L597.0,607.7 L597.6,608.0 L598.2,606.3 L598.8,608.1 L599.4,607.7 L600.0,606.6 L600.6,608.1 L601.2,607.0 L601.8,606.3 L602.4,608.0 L603.0,606.5 L603.6,607.8 L604.2,606.9 L604.8,607.8 L605.4,608.0 L606.0,608.0 L606.6,608.0 L607.2,608.1 L607.8,607.9 L608.4,606.5 L609.0,606.5 L609.6,606.6 L610.2,607.6 L610.8,606.5 L611.4,607.2 L612.0,607.7 L612.6,607.5 L613.2,608.0 L613.8,608.1 L614.4,607.4 L615.0,606.6 L615.6,607.6 L616.2,607.8 L616.8,607.8 L617.4,607.5 L618.0,606.6 L618.6,606.4 L619.2,606.6 L619.8,607.9 L620.4,607.8 L621.0,607.9 L621.6,606.3 L622.2,606.5 L622.8,607.8 L623.4,608.1 L624.0,607.8 L624.6,608.1 L625.2,607.7 L625.8,608.1 L626.4,607.4 L627.0,607.6 L627.6,607.9 L628.2,608.0 L628.8,606.9 L629.4,607.9 L630.0,608.1 L630.6,607.5 L631.2,607.9 L631.8,607.0 L632.4,607.3 L633.0,608.1 L633.6,607.6 L634.2,608.1 L634.8,607.8 L635.4,606.7 L636.0,608.1 L636.6,607.5 L637.2,607.9 L637.8,606.7 L638.4,608.0 L639.0,605.9 L639.6,607.6 L640.2,608.0 L640.8,606.8 L641.4,607.8 L642.0,607.7 L642.6,608.1 L643.2,606.4 L643.8,607.4 L644.4,604.8 L645.0,607.9 L645.6,608.0 L646.2,606.8 L646.8,608.0 L647.4,606.3 L648.0,607.3 L648.6,607.0 L649.2,606.6 L649.8,608.1 L650.4,607.5 L651.0,607.8 L651.6,607.6 L652.2,607.3 L652.8,608.0 L653.4,606.9 L654.0,606.7 L654.6,607.7 L655.2,606.7 L655.8,607.7 L656.4,606.9 L657.0,607.9 L657.6,607.6 L658.2,606.8 L658.8,606.8 L659.4,608.1 L660.0,606.4 L660.6,607.9 L661.2,607.2 L661.8,607.4 L662.4,607.6 L663.0,608.1 L663.6,606.4 L664.2,606.5 L664.8,606.8 L665.4,606.6 L666.0,607.2 L666.6,607.1 L667.2,607.4 L667.8,607.2 L668.4,607.4 L669.0,606.4 L669.6,607.8 L670.2,608.0 L670.8,606.4 L671.4,607.8 L672.0,607.4 L672.6,608.0 L673.2,607.8 L673.8,607.8 L674.4,608.1 L675.0,606.7 L675.6,607.3 L676.2,607.9 L676.8,607.5 L677.4,607.2 L678.0,607.8 L678.6,607.9 L679.2,607.7 L679.8,608.1 L680.4,606.7 L681.0,607.4 L681.6,607.8 L682.2,607.8 L682.8,608.0 L683.4,606.6 L684.0,608.1 L684.6,607.6 L685.2,608.0 L685.8,606.4 L686.4,608.0 L687.0,607.7 L687.6,607.2 L688.2,606.8 L688.8,607.0 L689.4,606.9 L690.0,606.8 L690.6,606.5 L691.2,604.6 L691.8,607.3 L692.4,606.4 L693.0,607.6 L693.6,606.6 L694.2,607.7 L694.8,607.5 L695.4,607.8 L696.0,607.4 L696.6,607.8 L697.2,606.7 L697.8,607.6 L698.4,607.8 L699.0,607.3 L699.6,608.1 L700.2,607.8 L700.8,606.7 L701.4,607.9 L702.0,606.4 L702.6,607.3 L703.2,606.5 L703.8,607.4 L704.4,607.4 L705.0,607.1 L705.6,607.7 L706.2,607.7 L706.8,607.1 L707.4,608.0 L708.0,607.6 L708.6,607.3 L709.2,606.4 L709.8,607.6 L710.4,606.3 L711.0,607.4 L711.6,608.0 L712.2,606.4 L712.8,607.4 L713.4,606.6 L714.0,606.8 L714.6,606.6 L715.2,608.0 L715.8,607.4 L716.4,608.0 L717.0,607.2 L717.6,607.7 L718.2,607.2 L718.8,607.6 L719.4,607.8 L720.0,608.1 L720.6,606.7 L721.2,607.1 L721.8,607.5 L722.4,607.9 L723.0,607.4 L723.6,607.3 L724.2,608.0 L724.8,606.9 L725.4,608.0 L726.0,607.4 L726.6,607.2 L727.2,606.0 L727.8,607.8 L728.4,607.7 L729.0,607.9 L729.6,606.6 L730.2,607.7 L730.8,607.7 L731.4,606.6 L732.0,606.4 L732.6,607.2 L733.2,608.1 L733.8,606.7 L734.4,606.6 L735.0,607.8 L735.6,606.4 L736.2,606.4 L736.8,607.7 L737.4,607.9 L738.0,606.6 L738.6,606.8 L739.2,608.0 L739.8,608.0 L740.4,607.8 L741.0,608.0 L741.6,607.7 L742.2,608.1 L742.8,606.7 L743.4,607.9 L744.0,607.8 L744.6,608.1 L745.2,607.7 L745.8,607.0 L746.4,607.8 L747.0,608.0 L747.6,606.7 L748.2,608.0 L748.8,607.0 L749.4,606.4 L750.0,606.4 L750.6,607.9 L751.2,608.0 L751.8,607.9 L752.4,607.3 L753.0,607.9 L753.6,607.9 L754.2,608.0 L754.8,607.4 L755.4,606.9 L756.0,607.1 L756.6,607.8 L757.2,608.1 L757.8,606.7 L758.4,607.1 L759.0,607.3 L759.6,607.5 L760.2,608.1 L760.8,607.9 L761.4,607.0 L762.0,607.6 L762.6,606.9 L763.2,606.7 L763.8,606.0 L764.4,607.1 L765.0,607.6 L765.6,607.0 L766.2,606.7 L766.8,607.2 L767.4,608.0 L768.0,607.0 L768.6,608.1 L769.2,608.0 L769.8,607.8 L770.4,608.1 L771.0,607.2 L771.6,606.7 L772.2,607.0 L772.8,607.6 L773.4,605.5 L774.0,606.9 L774.6,608.1 L775.2,607.2 L775.8,607.9 L776.4,606.8 L777.0,606.5 L777.6,608.1 L778.2,607.7 L778.8,606.7 L779.4,608.1 L780.0,607.6 L780.6,607.1 L781.2,606.7 L781.8,607.6 L782.4,607.0 L783.0,607.4 L783.6,608.0 L784.2,608.1 L784.8,606.8 L785.4,607.4 L786.0,607.2 L786.6,607.9 L787.2,607.7 L787.8,607.9 L788.4,608.0 L789.0,607.1 L789.6,607.9 L790.2,607.6 L790.8,607.7 L791.4,606.6 L792.0,607.3 L792.6,606.8 L793.2,606.9 L793.8,607.1 L794.4,607.5 L795.0,606.7 L795.6,607.8 L796.2,607.9 L796.8,607.8 L797.4,607.0 L798.0,608.0 L798.6,607.5 L799.2,608.0 L799.8,608.1 L800.4,606.9 L801.0,607.0 L801.6,607.3 L802.2,607.5 L802.8,608.0 L803.4,608.1 L804.0,607.2 L804.6,606.5 L805.2,607.9 L805.8,605.9 L806.4,606.7 L807.0,608.0 L807.6,606.7 L808.2,608.0 L808.8,606.7 L809.4,607.8 L810.0,606.8 L810.6,607.7 L811.2,607.7 L811.8,607.9 L812.4,607.3 L813.0,606.8 L813.6,606.5 L814.2,607.5 L814.8,608.0 L815.4,607.3 L816.0,607.1 L816.6,607.6 L817.2,608.1 L817.8,607.6 L818.4,604.7 L819.0,606.7 L819.6,607.6 L820.2,607.1 L820.8,607.6 L821.4,607.6 L822.0,606.7 L822.6,608.0 L823.2,607.6 L823.8,607.7 L824.4,608.1 L825.0,607.5 L825.6,606.5 L826.2,606.4 L826.8,607.2 L827.4,608.1 L828.0,607.2 L828.6,607.3 L829.2,607.5 L829.8,607.8 L830.4,606.1 L831.0,607.1 L831.6,608.1 L832.2,607.7 L832.8,607.6 L833.4,607.3 L834.0,608.0 L834.6,606.6 L835.2,608.0 L835.8,607.9 L836.4,607.4 L837.0,607.5 L837.6,607.9 L838.2,608.0 L838.8,607.3 L839.4,607.6 L840.0,607.6 L840.6,607.4 L841.2,606.9 L841.8,606.3 L842.4,608.0 L843.0,607.7 L843.6,606.4 L844.2,606.9 L844.8,606.9 L845.4,607.9 L846.0,608.1 L846.6,607.9 L847.2,607.0 L847.8,606.6 L848.4,606.6 L849.0,606.5 L849.6,608.0 L850.2,607.7 L850.8,607.1 L851.4,608.0 L852.0,607.0 L852.6,607.0 L853.2,607.3 L853.8,607.4 L854.4,608.0 L855.0,607.1 L855.6,607.9 L856.2,606.7 L856.8,607.7 L857.4,606.8 L858.0,607.4 L858.6,607.1 L859.2,608.0 L859.8,607.4 L860.4,606.8 L861.0,608.1 L861.6,608.0 L862.2,606.6 L862.8,608.1 L863.4,606.8 L864.0,607.7 L864.6,608.0 L865.2,607.7 L865.8,607.2 L866.4,607.8 L867.0,606.6 L867.6,608.1 L868.2,607.7 L868.8,607.3 L869.4,606.2 L870.0,606.5 L870.6,606.3 L871.2,608.0 L871.8,607.8 L872.4,607.5 L873.0,607.3 L873.6,606.4 L874.2,608.1 L874.8,606.9 L875.4,606.9 L876.0,607.2 L876.6,607.8 L877.2,606.6 L877.8,607.1 L878.4,606.9 L879.0,607.4 L879.6,607.7 L880.2,607.6 L880.8,607.7 L881.4,606.3 L882.0,607.7 L882.6,607.9 L883.2,605.7 L883.8,607.6 L884.4,607.3 L885.0,608.0 L885.6,607.8 L886.2,607.0 L886.8,606.5 L887.4,606.5 L888.0,608.1 L888.6,607.3 L889.2,607.7 L889.8,607.6 L890.4,608.1 L891.0,606.6 L891.6,607.4 L892.2,607.9 L892.8,607.9 L893.4,607.9 L894.0,606.7 L894.6,607.9 L895.2,606.4 L895.8,608.1 L896.4,606.6 L897.0,608.0 L897.6,607.4 L898.2,607.2 L898.8,607.9 L899.4,606.9 L900.0,607.6 L900.6,607.7 L901.2,607.6 L901.8,607.2 L902.4,607.5 L903.0,607.9 L903.6,608.1 L904.2,607.3 L904.8,608.1 L905.4,607.0 L906.0,608.0 L906.6,608.0 L907.2,608.1 L907.8,607.6 L908.4,607.3 L909.0,607.1 L909.6,607.8 L910.2,607.9 L910.8,606.9 L911.4,607.8 L912.0,606.4 L912.6,607.8 L913.2,606.5 L913.8,608.1 L914.4,607.1 L915.0,607.7 L915.6,607.9 L916.2,607.7 L916.8,608.1 L917.4,607.4 L918.0,606.5 L918.6,608.0 L919.2,607.0 L919.8,605.9 L920.4,607.9 L921.0,607.5 L921.6,607.7 L922.2,607.5 L922.8,606.6 L923.4,607.0 L924.0,607.2 L924.6,606.7 L925.2,607.3 L925.8,606.5 L926.4,607.2 L927.0,607.9 L927.6,607.6 L928.2,607.9 L928.8,607.2 L929.4,606.3 L930.0,607.3 L930.6,606.7 L931.2,607.9 L931.8,606.8 L932.4,607.8 L933.0,606.6 L933.6,607.1 L934.2,607.6 L934.8,606.6 L935.4,606.6 L936.0,606.9 L936.6,608.0 L937.2,606.3 L937.8,608.1 L938.4,603.9 L939.0,608.0 L939.6,608.0 L940.2,607.1 L940.8,607.7 L941.4,607.0 L942.0,606.4 L942.6,607.9 L943.2,607.1 L943.8,607.5 L944.4,607.6 L945.0,608.1 L945.6,607.8 L946.2,608.0 L946.8,608.0 L947.4,608.0 L948.0,608.0 L948.6,607.5 L949.2,607.7 L949.8,606.5 L950.4,607.9 L951.0,606.6 L951.6,607.8 L952.2,607.9 L952.8,608.1 L953.4,607.6 L954.0,605.8 L954.6,607.1 L955.2,607.4 L955.8,606.3 L956.4,607.0 L957.0,607.8 L957.6,606.4 L958.2,607.7 L958.8,608.0 L959.4,608.1 L960.0,606.5 L960.6,607.2 L961.2,607.9 L961.8,608.0 L962.4,606.9 L963.0,608.1 L963.6,607.8 L964.2,607.4 L964.8,604.4 L965.4,606.7 L966.0,607.3 L966.6,607.9 L967.2,606.9 L967.8,607.0 L968.4,607.4 L969.0,607.1 L969.6,607.2 L970.2,607.9 L970.8,607.9 L971.4,607.5 L972.0,607.4 L972.6,607.9 L973.2,606.5 L973.8,607.4 L974.4,606.8 L975.0,608.0 L975.6,607.5 L976.2,606.7 L976.8,606.6 L977.4,607.7 L978.0,606.8 L978.6,608.0 L979.2,608.0 L979.8,606.8 L980.4,607.6 L981.0,607.7 L981.6,607.1 L982.2,607.5 L982.8,606.9 L983.4,607.1 L984.0,607.4 L984.6,607.7 L985.2,607.1 L985.8,607.3 L986.4,608.0 L987.0,607.8 L987.6,607.9 L988.2,608.1 L988.8,606.7 L989.4,607.6 L990.0,607.2 L990.6,608.1 L991.2,607.7 L991.8,607.8 L992.4,607.2 L993.0,607.7 L993.6,607.3 L994.2,607.9 L994.8,607.0 L995.4,607.1 L996.0,608.1 L996.6,607.7 L997.2,607.5 L997.8,605.3 L998.4,607.5 L999.0,606.7 L999.6,607.5 L1000.2,607.6 L1000.8,607.4 L1001.4,607.1 L1002.0,607.6 L1002.6,607.1 L1003.2,606.9 L1003.8,608.0 L1004.4,608.1 L1005.0,608.0 L1005.6,606.9 L1006.2,608.1 L1006.8,607.0 L1007.4,608.1 L1008.0,607.6 L1008.6,606.3 L1009.2,606.6 L1009.8,607.8 L1010.4,608.1 L1011.0,607.8 L1011.6,607.8 L1012.2,606.7 L1012.8,607.4 L1013.4,608.1 L1014.0,606.6 L1014.6,606.7 L1015.2,607.9 L1015.8,607.4 L1016.4,607.5 L1017.0,607.3 L1017.6,606.8 L1018.2,606.5 L1018.8,608.1 L1019.4,607.4 L1020.0,607.3 L1020.6,607.8 L1021.2,607.8 L1021.8,606.8 L1022.4,607.5 L1023.0,607.6 L1023.6,608.1 L1024.2,607.2 L1024.8,606.7 L1025.4,607.3 L1026.0,606.5 L1026.6,606.8 L1027.2,607.1 L1027.8,607.8 L1028.4,606.7 L1029.0,606.5 L1029.6,608.0 L1030.2,606.8 L1030.8,607.6 L1031.4,607.9 L1032.0,607.1 L1032.6,608.1 L1033.2,608.1 L1033.8,607.8 L1034.4,607.3 L1035.0,607.3 L1035.6,606.5 L1036.2,606.7 L1036.8,606.8 L1037.4,607.7 L1038.0,607.7 L1038.6,607.9 L1039.2,608.0 L1039.8,607.0 L1040.4,607.1 L1041.0,606.7 L1041.6,606.5 L1042.2,606.5 L1042.8,607.8 L1043.4,606.9 L1044.0,606.5 L1044.6,607.5 L1045.2,607.3 L1045.8,608.1 L1046.4,607.8 L1047.0,606.7 L1047.6,606.5 L1048.2,607.3 L1048.8,607.7 L1049.4,607.1 L1050.0,607.8 L1050.6,607.9 L1051.2,608.0 L1051.8,607.8 L1052.4,607.3 L1053.0,607.4 L1053.6,607.3 L1054.2,608.1 L1054.8,608.0 L1055.4,608.0 L1056.0,607.7 L1056.6,607.1 L1057.2,608.0 L1057.8,607.8 L1058.4,606.6 L1059.0,608.0 L1059.6,606.6 L1060.2,607.5 L1060.8,608.0 L1061.4,608.0 L1062.0,607.5 L1062.6,607.9 L1063.2,607.9 L1063.8,607.9 L1064.4,607.5 L1065.0,608.1 L1065.6,607.5 L1066.2,607.3 L1066.8,607.9 L1067.4,608.0 L1068.0,608.1 L1068.6,607.4 L1069.2,606.6 L1069.8,607.3 L1070.4,607.3 L1071.0,607.0 L1071.6,607.9 L1072.2,606.3 L1072.8,607.2 L1073.4,606.8 L1074.0,606.8 L1074.6,604.0 L1075.2,607.6 L1075.8,608.1 L1076.4,607.0 L1077.0,608.0 L1077.6,608.0 L1078.2,607.9 L1078.8,606.4 L1079.4,606.8 L1080.0,607.5 L1080.6,606.5 L1081.2,607.2 L1081.8,607.2 L1082.4,606.8 L1083.0,607.0 L1083.6,608.0 L1084.2,607.1 L1084.8,608.0 L1085.4,606.5 L1086.0,606.9 L1086.6,606.8 L1087.2,607.6 L1087.8,606.8 L1088.4,607.8 L1089.0,607.4 L1089.6,608.0 L1090.2,606.8 L1090.8,606.7 L1091.4,607.9 L1092.0,607.9 L1092.6,606.5 L1093.2,607.0 L1093.8,606.9 L1094.4,607.1 L1095.0,606.7 L1095.6,608.1 L1096.2,606.7 L1096.8,607.3 L1097.4,605.5 L1098.0,608.1 L1098.6,606.8 L1099.2,607.3 L1099.8,607.8 L1100.4,607.7 L1101.0,607.2 L1101.6,608.1 L1102.2,607.0 L1102.8,607.1 L1103.4,608.0 L1104.0,608.1 L1104.6,608.0 L1105.2,606.4 L1105.8,607.9 L1106.4,607.2 L1107.0,607.7 L1107.6,606.4 L1108.2,606.3 L1108.8,606.7 L1109.4,606.9 L1110.0,606.4 L1110.6,606.8 L1111.2,607.7 L1111.8,607.4 L1112.4,607.4 L1113.0,606.5 L1113.6,607.1 L1114.2,607.2 L1114.8,606.4 L1115.4,607.1 L1116.0,607.7 L1116.6,607.1 L1117.2,607.5 L1117.8,606.4 L1118.4,606.7 L1119.0,607.4 L1119.6,606.9 L1120.2,607.0 L1120.8,608.1 L1121.4,608.0 L1122.0,606.6 L1122.6,607.3 L1123.2,608.1 L1123.8,606.9 L1124.4,607.8 L1125.0,607.8 L1125.6,607.6 L1126.2,607.2 L1126.8,607.1 L1127.4,606.4 L1128.0,607.1 L1128.6,608.0 L1129.2,606.7 L1129.8,607.7 L1130.4,607.4 L1131.0,608.0 L1131.6,608.0 L1132.2,608.1 L1132.8,607.7 L1133.4,606.4 L1134.0,607.8 L1134.6,607.9 L1135.2,607.6 L1135.8,607.9 L1136.4,607.7 L1137.0,607.9 L1137.6,606.5 L1138.2,606.7 L1138.8,606.9 L1139.4,608.0 L1140.0,607.5 L1140.6,607.1 L1141.2,607.8 L1141.8,606.5 L1142.4,607.8 L1143.0,607.9 L1143.6,608.1 L1144.2,607.3 L1144.8,606.5 L1145.4,607.9 L1146.0,607.4 L1146.6,607.1 L1147.2,606.8 L1147.8,607.8 L1148.4,606.4 L1149.0,607.1 L1149.6,607.7 L1150.2,606.9 L1150.8,607.7 L1151.4,607.7 L1152.0,606.6 L1152.6,607.4 L1153.2,606.6 L1153.8,607.7 L1154.4,607.6 L1155.0,606.7 L1155.6,607.3 L1156.2,607.3 L1156.8,606.7 L1157.4,606.7 L1158.0,607.1 L1158.6,607.5 L1159.2,606.6 L1159.8,606.8 L1160.4,606.6 L1161.0,607.0 L1161.6,607.2 L1162.2,608.1 L1162.8,606.8 L1163.4,607.9 L1164.0,608.0 L1164.6,606.4 L1165.2,607.7 L1165.8,608.1 L1166.4,606.1 L1167.0,608.0 L1167.6,608.1 L1168.2,607.4 L1168.8,608.1 L1169.4,608.0 L1170.0,607.2 L1170.6,607.8 L1171.2,607.9 L1171.8,607.9 L1172.4,606.8 L1173.0,608.1 L1173.6,608.1 L1174.2,607.6 L1174.8,607.2 L1175.4,607.3 L1176.0,607.4 L1176.6,607.9 L1177.2,606.3 L1177.8,606.4 L1178.4,606.3 L1179.0,607.5 L1179.6,607.5 L1180.2,607.0 L1180.8,607.7 L1181.4,607.6 L1182.0,607.9 L1182.6,607.4 L1183.2,607.9 L1183.8,607.9 L1184.4,607.3 L1185.0,606.4 L1185.6,606.4 L1186.2,607.0 L1186.8,608.1 L1187.4,608.1 L1188.0,607.0 L1188.6,607.9 L1189.2,608.0 L1189.8,606.3 L1190.4,608.1 L1191.0,607.7 L1191.6,606.8 L1192.2,608.0 L1192.8,608.0 L1193.4,607.5 L1194.0,606.5 L1194.6,607.5 L1195.2,608.0 L1195.8,607.3 L1196.4,607.9 L1197.0,608.1 L1197.6,607.0 L1198.2,606.4 L1198.8,607.0 L1199.4,606.8 L1200.0,607.4 L1200.6,607.3 L1201.2,608.1 L1201.8,606.8 L1202.4,608.1 L1203.0,607.4 L1203.6,607.8 L1204.2,606.6 L1204.8,607.2 L1205.4,607.9 L1206.0,607.7 L1206.6,607.3 L1207.2,607.9 L1207.8,607.3 L1208.4,607.0 L1209.0,608.1 L1209.6,608.1 L1210.2,607.6 L1210.8,607.0 L1211.4,607.2 L1212.0,607.5 L1212.6,606.5 L1213.2,608.1 L1213.8,606.3 L1214.4,607.7 L1215.0,606.8 L1215.6,607.0 L1216.2,608.0 L1216.8,606.8 L1217.4,608.1 L1218.0,606.5 L1218.6,607.1 L1219.2,607.2 L1219.8,607.9 L1220.4,608.1 L1221.0,608.0 L1221.6,607.0 L1222.2,606.8 L1222.8,607.4 L1223.4,606.8 L1224.0,604.2 L1224.6,607.4 L1225.2,607.5 L1225.8,607.3 L1226.4,608.1 L1227.0,607.4 L1227.6,605.6 L1228.2,608.1 L1228.8,606.8 L1229.4,608.0 L1230.0,607.9 L1230.6,608.0 L1231.2,607.4 L1231.8,608.0 L1232.4,606.7 L1233.0,608.0 L1233.6,607.8 L1234.2,608.0 L1234.8,606.4 L1235.4,608.1 L1236.0,608.0 L1236.6,607.3 L1237.2,607.5 L1237.8,607.2 L1238.4,606.5 L1239.0,606.8 L1239.6,606.7 L1240.2,608.1 L1240.8,606.7 L1241.4,606.6 L1242.0,606.5 L1242.6,607.0 L1243.2,607.8 L1243.8,607.8 L1244.4,607.6 L1245.0,607.1 L1245.6,606.9 L1246.2,606.3 L1246.8,607.8 L1247.4,607.0 L1248.0,606.6 L1248.6,607.8 L1249.2,606.9 L1249.8,606.8 L1250.4,608.0 L1251.0,607.8 L1251.6,607.7 L1252.2,606.4 L1252.8,607.4 L1253.4,607.4 L1254.0,607.6 L1254.6,607.1 L1255.2,608.1 L1255.8,607.8 L1256.4,608.1 L1257.0,607.0 L1257.6,608.0 L1258.2,607.1 L1258.8,606.9 L1259.4,607.9 L1260.0,608.1 L1260.6,607.9 L1261.2,606.4 L1261.8,607.3 L1262.4,607.3 L1263.0,607.8 L1263.6,607.1 L1264.2,608.0 L1264.8,607.5 L1265.4,607.1 L1266.0,606.9 L1266.6,608.0 L1267.2,607.6 L1267.8,607.6 L1268.4,608.0 L1269.0,607.7 L1269.6,608.1 L1270.2,607.9 L1270.8,606.8 L1271.4,607.3 L1272.0,606.6 L1272.6,607.1 L1273.2,607.1 L1273.8,608.0 L1274.4,606.3 L1275.0,607.2 L1275.6,607.9 L1276.2,608.1 L1276.8,608.0 L1277.4,607.7 L1278.0,608.0 L1278.6,607.9 L1279.2,607.4 L1279.8,607.9 L1280.4,607.8 L1281.0,606.9 L1281.6,607.9 L1282.2,607.7 L1282.8,607.2 L1283.4,606.6 L1284.0,607.1 L1284.6,606.7 L1285.2,608.0 L1285.8,607.0 L1286.4,608.0 L1287.0,608.0 L1287.6,607.6 L1288.2,608.1 L1288.8,607.5 L1289.4,607.4 L1290.0,607.9 L1290.6,607.3 L1291.2,606.4 L1291.8,608.0 L1292.4,607.4 L1293.0,608.0 L1293.6,607.9 L1294.2,607.9 L1294.8,607.5 L1295.4,608.1 L1296.0,607.8 L1296.6,607.1 L1297.2,608.0 L1297.8,607.5 L1298.4,608.1 L1299.0,606.2 L1299.6,607.0 L1300.2,607.9 L1300.8,607.3 L1301.4,608.0 L1302.0,606.5 L1302.6,606.7 L1303.2,606.6 L1303.8,608.0 L1304.4,606.6 L1305.0,608.0 L1305.6,607.7 L1306.2,608.0 L1306.8,607.4 L1307.4,607.8 L1308.0,608.2 L1308.6,608.0 L1309.2,607.6 L1309.8,607.6 L1310.4,607.4 L1311.0,606.9 L1311.6,606.5 L1312.2,608.1 L1312.8,608.0 L1313.4,607.9 L1314.0,608.3 L1314.6,608.2 L1315.2,608.3 L1315.8,608.1 L1316.4,607.6 L1317.0,608.3 L1317.6,608.3 L1318.2,608.3 L1318.8,607.7 L1319.4,606.9 L1320.0,608.2 L1320.6,607.6 L1321.2,608.0 L1321.8,607.5 L1322.4,606.8 L1323.0,606.8 L1323.6,608.4 L1324.2,607.6 L1324.8,608.2 L1325.4,607.0 L1326.0,607.8 L1326.6,607.2 L1327.2,607.9 L1327.8,608.3 L1328.4,607.7 L1329.0,607.0 L1329.6,608.4 L1330.2,607.0 L1330.8,608.4 L1331.4,608.4 L1332.0,608.2 L1332.6,607.6 L1333.2,607.5 L1333.8,608.0 L1334.4,606.1 L1335.0,607.6 L1335.6,607.7 L1336.2,607.0 L1336.8,608.5 L1337.4,607.0 L1338.0,608.2 L1338.6,607.2 L1339.2,607.6 L1339.8,607.7 L1340.4,608.6 L1341.0,608.6 L1341.6,608.7 L1342.2,608.3 L1342.8,608.7 L1343.4,607.1 L1344.0,608.4 L1344.6,608.3 L1345.0,609.6 Z" fill="#137313" stroke="none"/><path d="M75.0,1042.8 L75.0,1033.5 L75.5,1039.8 L76.0,1037.0 L76.5,1037.6 L77.0,1038.4 L77.5,1037.0 L78.0,1037.9 L78.5,1039.6 L79.0,1038.5 L79.5,1037.4 L80.0,1035.4 L80.5,1038.0 L81.0,1038.6 L81.5,1036.3 L82.0,1039.6 L82.5,1036.0 L83.0,1037.1 L83.5,1039.8 L84.0,1038.8 L84.5,1039.1 L85.0,1038.9 L85.5,1034.8 L86.0,1038.1 L86.5,1037.8 L87.0,1039.4 L87.5,1039.7 L88.0,1037.4 L88.5,1038.2 L89.0,1038.1 L89.5,1037.7 L90.0,1039.9 L90.5,1039.7 L91.0,1037.7 L91.5,1034.4 L92.0,1038.6 L92.5,1039.7 L93.0,1039.9 L93.5,1039.6 L94.0,1039.1 L94.5,1032.3 L95.0,1039.7 L95.5,1038.4 L96.0,1038.5 L96.5,1039.7 L97.0,1038.3 L97.5,1039.8 L98.0,1037.8 L98.5,1038.1 L99.0,1037.7 L99.5,1039.4 L100.0,1040.0 L100.5,1035.8 L101.0,1039.8 L101.5,1037.4 L102.0,1039.7 L102.5,1038.9 L103.0,1039.3 L103.5,1038.8 L104.0,1036.8 L104.5,1038.9 L105.0,1038.3 L105.5,1039.4 L106.0,1038.1 L106.5,1039.3 L107.0,1037.2 L107.5,1038.5 L108.0,1039.0 L108.5,1031.7 L109.0,1037.2 L109.5,1039.0 L110.0,1033.5 L110.5,1037.9 L111.0,1039.9 L111.5,1039.9 L112.0,1040.0 L112.5,1037.9 L113.0,1038.6 L113.5,1038.8 L114.0,1039.8 L114.5,1037.9 L115.0,1039.4 L115.5,1039.6 L116.0,1039.9 L116.5,1038.0 L117.0,1037.3 L117.5,1037.0 L118.0,1039.5 L118.5,1038.1 L119.0,1039.9 L119.5,1037.0 L120.0,1037.7 L120.5,1039.6 L121.0,1039.0 L121.5,1039.8 L122.0,1039.4 L122.5,1038.0 L123.0,1039.8 L123.5,1037.6 L124.0,1032.6 L124.5,1038.5 L125.0,1037.1 L125.5,1037.5 L126.0,1039.6 L126.5,1039.3 L127.0,1039.3 L127.5,1039.7 L128.0,1039.2 L128.5,1037.4 L129.0,1039.6 L129.5,1037.7 L130.0,1038.0 L130.5,1037.7 L131.0,1038.3 L131.5,1037.6 L132.0,1038.8 L132.5,1037.7 L133.0,1037.6 L133.5,1037.4 L134.0,1037.1 L134.5,1038.2 L135.0,1040.0 L135.5,1038.7 L136.0,1039.4 L136.5,1037.8 L137.0,1039.7 L137.5,1039.6 L138.0,1033.1 L138.5,1039.1 L139.0,1038.0 L139.5,1039.0 L140.0,1037.7 L140.5,1039.5 L141.0,1037.3 L141.5,1037.3 L142.0,1039.5 L142.5,1038.6 L143.0,1038.6 L143.5,1038.8 L144.0,1039.2 L144.5,1038.3 L145.0,1039.3 L145.5,1037.0 L146.0,1039.9 L146.5,1040.0 L147.0,1039.1 L147.5,1035.0 L148.0,1037.7 L148.5,1039.3 L149.0,1038.0 L149.5,1039.7 L150.0,1036.9 L150.5,1039.3 L151.0,1037.2 L151.5,1039.5 L152.0,1038.0 L152.5,1038.7 L153.0,1038.3 L153.5,1037.1 L154.0,1038.7 L154.5,1039.8 L155.0,1038.7 L155.5,1037.5 L156.0,1037.2 L156.5,1040.0 L157.0,1037.3 L157.5,1037.1 L158.0,1037.2 L158.5,1039.8 L159.0,1037.7 L159.5,1038.5 L160.0,1039.6 L160.5,1038.9 L161.0,1037.2 L161.5,1038.1 L162.0,1039.7 L162.5,1038.8 L163.0,1038.5 L163.5,1039.7 L164.0,1038.1 L164.5,1038.1 L165.0,1039.6 L165.5,1029.8 L166.0,1038.5 L166.5,1037.8 L167.0,1039.9 L167.5,1038.4 L168.0,1039.4 L168.5,1039.6 L169.0,1039.8 L169.5,1038.5 L170.0,1039.8 L170.5,1039.9 L171.0,1039.5 L171.5,1039.8 L172.0,1039.1 L172.5,1039.0 L173.0,1039.0 L173.5,1038.6 L174.0,1034.3 L174.5,1037.0 L175.0,1039.4 L175.5,1039.4 L176.0,1039.3 L176.5,1037.5 L177.0,1040.0 L177.5,1038.1 L178.0,1038.4 L178.5,1039.2 L179.0,1039.5 L179.5,1038.3 L180.0,1037.1 L180.5,1039.3 L181.0,1037.8 L181.5,1038.3 L182.0,1037.1 L182.5,1039.2 L183.0,1039.9 L183.5,1035.2 L184.0,1039.0 L184.5,1039.3 L185.0,1039.4 L185.5,1037.2 L186.0,1039.0 L186.5,1039.3 L187.0,1037.8 L187.5,1039.3 L188.0,1039.3 L188.5,1038.8 L189.0,1039.4 L189.5,1039.8 L190.0,1040.0 L190.5,1040.0 L191.0,1039.9 L191.5,1040.0 L192.0,1038.1 L192.5,1037.3 L193.0,1038.7 L193.5,1039.9 L194.0,1039.1 L194.5,1038.0 L195.0,1032.4 L195.5,1038.0 L196.0,1036.6 L196.5,1034.3 L197.0,1038.5 L197.5,1039.8 L198.0,1038.5 L198.5,1037.0 L199.0,1037.0 L199.5,1039.3 L200.0,1039.7 L200.5,1036.9 L201.0,1039.8 L201.5,1039.8 L202.0,1033.9 L202.5,1034.8 L203.0,1037.8 L203.5,1039.1 L204.0,1038.6 L204.5,1039.2 L205.0,1037.5 L205.5,1038.7 L206.0,1039.8 L206.5,1031.9 L207.0,1037.8 L207.5,1040.0 L208.0,1039.2 L208.5,1038.7 L209.0,1039.2 L209.5,1037.1 L210.0,1038.5 L210.5,1039.3 L211.0,1037.3 L211.5,1037.8 L212.0,1036.9 L212.5,1039.5 L213.0,1039.6 L213.5,1039.8 L214.0,1039.0 L214.5,1030.0 L215.0,1038.0 L215.5,1038.0 L216.0,1037.3 L216.5,1039.2 L217.0,1040.0 L217.5,1039.9 L218.0,1039.9 L218.5,1039.1 L219.0,1039.6 L219.5,1034.5 L220.0,1038.1 L220.5,1038.4 L221.0,1039.3 L221.5,1037.2 L222.0,1039.2 L222.5,1037.8 L223.0,1039.1 L223.5,1039.2 L224.0,1039.0 L224.5,1038.0 L225.0,1030.6 L225.5,1038.8 L226.0,1039.9 L226.5,1039.3 L227.0,1034.0 L227.5,1040.0 L228.0,1033.8 L228.5,1039.0 L229.0,1038.1 L229.5,1037.2 L230.0,1039.9 L230.5,1039.9 L231.0,1038.9 L231.5,1039.8 L232.0,1039.0 L232.5,1039.6 L233.0,1039.7 L233.5,1038.5 L234.0,1037.9 L234.5,1038.8 L235.0,1032.0 L235.5,1037.8 L236.0,1038.0 L236.5,1039.1 L237.0,1037.1 L237.5,1039.8 L238.0,1038.8 L238.5,1039.8 L239.0,1039.0 L239.5,1039.6 L240.0,1038.8 L240.5,1038.6 L241.0,1037.4 L241.5,1037.1 L242.0,1039.9 L242.5,1037.1 L243.0,1038.8 L243.5,1040.0 L244.0,1039.9 L244.5,1038.5 L245.0,1037.2 L245.5,1039.4 L246.0,1038.5 L246.5,1037.5 L247.0,1039.4 L247.5,1039.5 L248.0,1039.7 L248.5,1035.7 L249.0,1039.8 L249.5,1039.9 L250.0,1038.3 L250.5,1037.3 L251.0,1038.3 L251.5,1036.7 L252.0,1037.1 L252.5,1035.5 L253.0,1037.4 L253.5,1036.1 L254.0,1039.8 L254.5,1039.9 L255.0,1039.6 L255.5,1038.9 L256.0,1037.1 L256.5,1031.8 L257.0,1037.0 L257.5,1038.0 L258.0,1039.9 L258.5,1038.4 L259.0,1037.0 L259.5,1038.5 L260.0,1039.8 L260.5,1038.8 L261.0,1037.4 L261.5,1039.9 L262.0,1039.9 L262.5,1037.8 L263.0,1038.9 L263.5,1038.7 L264.0,1038.3 L264.5,1039.2 L265.0,1038.0 L265.5,1037.7 L266.0,1040.0 L266.5,1039.3 L267.0,1038.0 L267.5,1038.3 L268.0,1039.1 L268.5,1037.3 L269.0,1039.2 L269.5,1034.4 L270.0,1039.2 L270.5,1038.9 L271.0,1039.7 L271.5,1039.5 L272.0,1037.4 L272.5,1039.2 L273.0,1040.0 L273.5,1037.6 L274.0,1039.9 L274.5,1040.0 L275.0,1039.4 L275.5,1038.1 L276.0,1038.9 L276.5,1038.3 L277.0,1031.4 L277.5,1040.0 L278.0,1039.3 L278.5,1040.0 L279.0,1037.0 L279.5,1039.6 L280.0,1039.7 L280.5,1038.3 L281.0,1035.7 L281.5,1037.0 L282.0,1040.0 L282.5,1039.0 L283.0,1038.4 L283.5,1037.8 L284.0,1037.3 L284.5,1039.0 L285.0,1039.0 L285.5,1038.3 L286.0,1038.7 L286.5,1040.0 L287.0,1037.8 L287.5,1035.0 L288.0,1038.1 L288.5,1038.3 L289.0,1038.2 L289.5,1037.1 L290.0,1034.4 L290.5,1037.6 L291.0,1039.9 L291.5,1038.2 L292.0,1039.3 L292.5,1037.3 L293.0,1037.5 L293.5,1039.5 L294.0,1037.9 L294.5,1038.7 L295.0,1038.5 L295.5,1038.7 L296.0,1038.9 L296.5,1039.4 L297.0,1038.9 L297.5,1039.7 L298.0,1039.0 L298.5,1039.2 L299.0,1039.8 L299.5,1039.6 L300.0,1038.2 L300.5,1038.9 L301.0,1037.3 L301.5,1039.3 L302.0,1039.3 L302.5,1037.8 L303.0,1038.1 L303.5,1039.1 L304.0,1039.5 L304.5,1038.0 L305.0,1039.8 L305.5,1037.9 L306.0,1038.3 L306.5,1038.3 L307.0,1040.0 L307.5,1040.0 L308.0,1038.9 L308.5,1037.1 L309.0,1039.7 L309.5,1039.9 L310.0,1038.1 L310.5,1039.4 L311.0,1039.0 L311.5,1037.4 L312.0,1037.6 L312.5,1039.2 L313.0,1037.1 L313.5,1039.9 L314.0,1037.3 L314.5,1039.5 L315.0,1037.5 L315.5,1039.8 L316.0,1039.4 L316.5,1037.4 L317.0,1039.3 L317.5,1036.7 L318.0,1036.5 L318.5,1038.0 L319.0,1038.3 L319.5,1034.6 L320.0,1038.6 L320.5,1039.8 L321.0,1037.4 L321.5,1038.7 L322.0,1037.0 L322.5,1038.5 L323.0,1038.9 L323.5,1039.8 L324.0,1039.2 L324.5,1037.4 L325.0,1037.0 L325.5,1037.6 L326.0,1038.7 L326.5,1040.0 L327.0,1037.8 L327.5,1038.0 L328.0,1034.1 L328.5,1039.7 L329.0,1038.0 L329.5,1038.8 L330.0,1037.9 L330.5,1039.7 L331.0,1039.2 L331.5,1040.0 L332.0,1039.0 L332.5,1040.0 L333.0,1039.2 L333.5,1039.6 L334.0,1038.9 L334.5,1039.8 L335.0,1039.0 L335.5,1037.6 L336.0,1037.5 L336.5,1039.5 L337.0,1038.8 L337.5,1040.0 L338.0,1039.4 L338.5,1038.4 L339.0,1039.5 L339.5,1037.7 L340.0,1039.2 L340.5,1039.4 L341.0,1039.9 L341.5,1038.4 L342.0,1039.3 L342.5,1037.9 L343.0,1037.7 L343.5,1036.5 L344.0,1037.2 L344.5,1038.4 L345.0,1039.1 L345.5,1039.8 L346.0,1038.3 L346.5,1038.5 L347.0,1038.6 L347.5,1039.0 L348.0,1038.8 L348.5,1039.0 L349.0,1039.9 L349.5,1038.4 L350.0,1038.6 L350.5,1038.7 L351.0,1039.2 L351.5,1038.8 L352.0,1039.4 L352.5,1037.1 L353.0,1038.5 L353.5,1031.4 L354.0,1037.1 L354.5,1039.6 L355.0,1039.8 L355.5,1032.1 L356.0,1039.2 L356.5,1038.3 L357.0,1037.6 L357.5,1037.5 L358.0,1040.1 L358.5,1035.2 L359.0,1039.9 L359.5,1039.6 L360.0,1037.4 L360.5,1037.6 L361.0,1039.2 L361.5,1039.6 L362.0,1037.8 L362.5,1032.7 L363.0,1038.8 L363.5,1037.6 L364.0,1038.3 L364.5,1037.9 L365.0,1039.8 L365.5,1039.6 L366.0,1037.8 L366.5,1038.3 L367.0,1039.7 L367.5,1037.2 L368.0,1039.0 L368.5,1040.1 L369.0,1038.1 L369.5,1039.4 L370.0,1039.4 L370.5,1038.4 L371.0,1038.9 L371.5,1037.4 L372.0,1039.0 L372.5,1039.8 L373.0,1039.4 L373.5,1040.0 L374.0,1038.5 L374.5,1039.4 L375.0,1039.8 L375.5,1040.1 L376.0,1039.7 L376.5,1038.8 L377.0,1038.6 L377.5,1038.0 L378.0,1037.6 L378.5,1038.4 L379.0,1039.2 L379.5,1037.2 L380.0,1040.0 L380.5,1039.0 L381.0,1039.8 L381.5,1039.3 L382.0,1039.8 L382.5,1039.8 L383.0,1038.9 L383.5,1039.0 L384.0,1040.1 L384.5,1034.0 L385.0,1038.8 L385.5,1039.8 L386.0,1039.6 L386.5,1039.7 L387.0,1038.5 L387.5,1034.2 L388.0,1038.3 L388.5,1038.8 L389.0,1040.0 L389.5,1035.7 L390.0,1040.0 L390.5,1040.0 L391.0,1039.7 L391.5,1039.1 L392.0,1037.9 L392.5,1040.0 L393.0,1040.1 L393.5,1040.0 L394.0,1038.0 L394.5,1034.0 L395.0,1039.3 L395.5,1039.3 L396.0,1040.0 L396.5,1039.0 L397.0,1039.2 L397.5,1037.8 L398.0,1039.8 L398.5,1037.5 L399.0,1038.4 L399.5,1039.1 L400.0,1039.7 L400.5,1034.8 L401.0,1037.6 L401.5,1040.1 L402.0,1038.6 L402.5,1039.1 L403.0,1039.6 L403.5,1038.2 L404.0,1038.5 L404.5,1035.1 L405.0,1039.5 L405.5,1039.5 L406.0,1038.4 L406.5,1037.9 L407.0,1038.9 L407.5,1040.0 L408.0,1040.0 L408.5,1040.1 L409.0,1039.4 L409.5,1039.3 L410.0,1039.3 L410.5,1038.9 L411.0,1037.2 L411.5,1039.2 L412.0,1037.2 L412.5,1038.5 L413.0,1039.3 L413.5,1039.6 L414.0,1040.1 L414.5,1037.6 L415.0,1039.2 L415.5,1039.6 L416.0,1038.9 L416.5,1037.3 L417.0,1039.7 L417.5,1035.9 L418.0,1037.4 L418.5,1038.7 L419.0,1040.0 L419.5,1040.0 L420.0,1035.4 L420.5,1039.9 L421.0,1040.1 L421.5,1039.1 L422.0,1039.8 L422.5,1039.9 L423.0,1039.3 L423.5,1039.7 L424.0,1040.1 L424.5,1040.0 L425.0,1039.3 L425.5,1037.7 L426.0,1040.0 L426.5,1038.7 L427.0,1039.6 L427.5,1039.8 L428.0,1039.6 L428.5,1039.6 L429.0,1032.5 L429.5,1039.0 L430.0,1040.0 L430.5,1039.0 L431.0,1039.4 L431.5,1037.5 L432.0,1037.1 L432.5,1037.1 L433.0,1039.7 L433.5,1038.6 L434.0,1037.1 L434.5,1037.9 L435.0,1040.0 L435.5,1039.9 L436.0,1038.6 L436.5,1039.1 L437.0,1040.0 L437.5,1040.0 L438.0,1038.5 L438.5,1040.1 L439.0,1037.2 L439.5,1039.3 L440.0,1038.3 L440.5,1038.5 L441.0,1038.8 L441.5,1039.8 L442.0,1037.2 L442.5,1037.1 L443.0,1037.8 L443.5,1038.2 L444.0,1037.3 L444.5,1037.6 L445.0,1038.0 L445.5,1039.6 L446.0,1037.9 L446.5,1037.7 L447.0,1039.9 L447.5,1038.8 L448.0,1039.5 L448.5,1039.9 L449.0,1039.8 L449.5,1039.5 L450.0,1039.6 L450.5,1036.1 L451.0,1032.9 L451.5,1032.2 L452.0,1039.8 L452.5,1034.7 L453.0,1038.8 L453.5,1039.7 L454.0,1037.2 L454.5,1037.1 L455.0,1040.0 L455.5,1040.1 L456.0,1037.9 L456.5,1038.9 L457.0,1039.9 L457.5,1039.7 L458.0,1039.8 L458.5,1038.8 L459.0,1038.6 L459.5,1037.4 L460.0,1038.8 L460.5,1037.4 L461.0,1040.0 L461.5,1038.3 L462.0,1038.5 L462.5,1037.4 L463.0,1039.2 L463.5,1038.1 L464.0,1040.0 L464.5,1037.9 L465.0,1038.4 L465.5,1040.0 L466.0,1039.1 L466.5,1037.3 L467.0,1039.2 L467.5,1038.6 L468.0,1037.2 L468.5,1040.0 L469.0,1040.1 L469.5,1039.3 L470.0,1039.3 L470.5,1038.0 L471.0,1039.7 L471.5,1039.1 L472.0,1038.5 L472.5,1039.5 L473.0,1037.1 L473.5,1038.8 L474.0,1040.1 L474.5,1037.8 L475.0,1037.2 L475.5,1038.7 L476.0,1040.1 L476.5,1039.7 L477.0,1040.0 L477.5,1039.4 L478.0,1039.3 L478.5,1038.2 L479.0,1038.7 L479.5,1038.7 L480.0,1037.2 L480.5,1040.1 L481.0,1038.5 L481.5,1037.4 L482.0,1037.6 L482.5,1038.8 L483.0,1039.6 L483.5,1038.6 L484.0,1038.9 L484.5,1038.8 L485.0,1038.8 L485.5,1040.1 L486.0,1038.9 L486.5,1037.2 L487.0,1039.1 L487.5,1038.9 L488.0,1034.9 L488.5,1031.7 L489.0,1040.1 L489.5,1038.0 L490.0,1039.4 L490.5,1038.3 L491.0,1038.7 L491.5,1038.8 L492.0,1038.0 L492.5,1039.7 L493.0,1039.4 L493.5,1037.9 L494.0,1038.9 L494.5,1035.4 L495.0,1039.1 L495.5,1039.9 L496.0,1039.4 L496.5,1035.0 L497.0,1039.9 L497.5,1039.6 L498.0,1038.8 L498.5,1038.0 L499.0,1039.9 L499.5,1037.9 L500.0,1037.4 L500.5,1033.3 L501.0,1032.1 L501.5,1038.1 L502.0,1037.8 L502.5,1039.5 L503.0,1037.5 L503.5,1038.4 L504.0,1037.8 L504.5,1039.7 L505.0,1038.9 L505.5,1037.7 L506.0,1039.7 L506.5,1038.5 L507.0,1038.1 L507.5,1037.5 L508.0,1038.1 L508.5,1037.9 L509.0,1040.0 L509.5,1037.6 L510.0,1040.0 L510.5,1040.0 L511.0,1040.0 L511.5,1038.5 L512.0,1039.3 L512.5,1040.1 L513.0,1039.8 L513.5,1038.3 L514.0,1038.9 L514.5,1040.0 L515.0,1039.6 L515.5,1038.2 L516.0,1039.6 L516.5,1037.7 L517.0,1039.1 L517.5,1037.5 L518.0,1039.2 L518.5,1037.7 L519.0,1039.7 L519.5,1039.0 L520.0,1039.9 L520.5,1037.2 L521.0,1039.4 L521.5,1037.6 L522.0,1040.0 L522.5,1038.2 L523.0,1038.5 L523.5,1039.0 L524.0,1039.2 L524.5,1037.5 L525.0,1037.5 L525.5,1037.3 L526.0,1037.5 L526.5,1037.7 L527.0,1030.9 L527.5,1037.9 L528.0,1037.9 L528.5,1038.2 L529.0,1039.3 L529.5,1038.0 L530.0,1040.0 L530.5,1039.8 L531.0,1039.3 L531.5,1037.6 L532.0,1038.6 L532.5,1036.1 L533.0,1038.8 L533.5,1037.2 L534.0,1039.5 L534.5,1039.9 L535.0,1038.8 L535.5,1039.3 L536.0,1039.6 L536.5,1039.2 L537.0,1038.9 L537.5,1040.1 L538.0,1039.5 L538.5,1037.6 L539.0,1038.1 L539.5,1038.9 L540.0,1035.1 L540.5,1038.4 L541.0,1037.5 L541.5,1035.5 L542.0,1038.5 L542.5,1040.1 L543.0,1040.1 L543.5,1038.6 L544.0,1039.2 L544.5,1039.9 L545.0,1037.9 L545.5,1038.3 L546.0,1038.0 L546.5,1038.5 L547.0,1038.9 L547.5,1037.3 L548.0,1039.0 L548.5,1040.0 L549.0,1039.8 L549.5,1040.1 L550.0,1037.7 L550.5,1038.3 L551.0,1039.8 L551.5,1039.6 L552.0,1039.5 L552.5,1038.8 L553.0,1037.2 L553.5,1030.7 L554.0,1040.1 L554.5,1039.4 L555.0,1039.6 L555.5,1038.1 L556.0,1038.2 L556.5,1040.1 L557.0,1039.8 L557.5,1040.1 L558.0,1038.5 L558.5,1038.6 L559.0,1038.3 L559.5,1039.8 L560.0,1038.7 L560.5,1039.9 L561.0,1036.9 L561.5,1038.3 L562.0,1039.9 L562.5,1040.0 L563.0,1038.1 L563.5,1039.0 L564.0,1037.7 L564.5,1039.7 L565.0,1038.4 L565.5,1039.7 L566.0,1034.9 L566.5,1039.6 L567.0,1039.3 L567.5,1040.1 L568.0,1033.0 L568.5,1039.7 L569.0,1040.0 L569.5,1040.0 L570.0,1039.7 L570.5,1039.2 L571.0,1039.0 L571.5,1038.3 L572.0,1037.5 L572.5,1038.9 L573.0,1039.6 L573.5,1037.7 L574.0,1040.0 L574.5,1032.5 L575.0,1039.8 L575.5,1037.9 L576.0,1039.1 L576.5,1039.9 L577.0,1039.3 L577.5,1039.9 L578.0,1040.1 L578.5,1040.0 L579.0,1039.0 L579.5,1033.4 L580.0,1037.8 L580.5,1039.8 L581.0,1039.2 L581.5,1039.5 L582.0,1037.4 L582.5,1037.3 L583.0,1039.9 L583.5,1037.4 L584.0,1037.8 L584.5,1038.2 L585.0,1040.0 L585.5,1040.0 L586.0,1038.3 L586.5,1038.5 L587.0,1031.3 L587.5,1039.4 L588.0,1039.2 L588.5,1039.6 L589.0,1040.1 L589.5,1040.1 L590.0,1038.5 L590.5,1037.3 L591.0,1032.2 L591.5,1038.3 L592.0,1040.1 L592.5,1039.3 L593.0,1038.0 L593.5,1040.1 L594.0,1038.7 L594.5,1037.2 L595.0,1039.8 L595.5,1037.6 L596.0,1038.8 L596.5,1039.3 L597.0,1040.1 L597.5,1040.1 L598.0,1040.0 L598.5,1037.9 L599.0,1040.1 L599.5,1039.1 L600.0,1040.0 L600.5,1038.0 L601.0,1037.7 L601.5,1039.7 L602.0,1039.2 L602.5,1038.9 L603.0,1039.1 L603.5,1037.2 L604.0,1040.1 L604.5,1039.6 L605.0,1032.6 L605.5,1039.1 L606.0,1038.4 L606.5,1038.2 L607.0,1038.3 L607.5,1038.9 L608.0,1038.1 L608.5,1039.5 L609.0,1038.0 L609.5,1040.0 L610.0,1040.0 L610.5,1038.2 L611.0,1038.1 L611.5,1038.9 L612.0,1038.6 L612.5,1038.8 L613.0,1038.2 L613.5,1040.0 L614.0,1039.3 L614.5,1038.9 L615.0,1039.4 L615.5,1039.5 L616.0,1034.8 L616.5,1039.4 L617.0,1038.8 L617.5,1033.4 L618.0,1037.5 L618.5,1039.2 L619.0,1040.1 L619.5,1037.9 L620.0,1039.8 L620.5,1038.0 L621.0,1039.4 L621.5,1038.0 L622.0,1037.8 L622.5,1038.8 L623.0,1038.4 L623.5,1034.6 L624.0,1040.1 L624.5,1038.5 L625.0,1037.7 L625.5,1034.4 L626.0,1039.3 L626.5,1037.5 L627.0,1040.0 L627.5,1039.5 L628.0,1039.6 L628.5,1038.0 L629.0,1038.3 L629.5,1037.4 L630.0,1039.6 L630.5,1040.0 L631.0,1038.7 L631.5,1038.6 L632.0,1038.9 L632.5,1039.6 L633.0,1037.6 L633.5,1039.8 L634.0,1039.7 L634.5,1040.0 L635.0,1039.3 L635.5,1039.9 L636.0,1040.0 L636.5,1039.6 L637.0,1038.2 L637.5,1039.2 L638.0,1038.1 L638.5,1039.3 L639.0,1039.8 L639.5,1039.0 L640.0,1039.4 L640.5,1040.0 L641.0,1039.5 L641.5,1039.2 L642.0,1039.9 L642.5,1039.6 L643.0,1033.8 L643.5,1037.4 L644.0,1039.9 L644.5,1038.9 L645.0,1039.8 L645.5,1039.7 L646.0,1038.1 L646.5,1038.4 L647.0,1038.6 L647.5,1040.1 L648.0,1039.8 L648.5,1038.0 L649.0,1039.3 L649.5,1037.3 L650.0,1032.4 L650.5,1039.8 L651.0,1040.0 L651.5,1039.5 L652.0,1039.7 L652.5,1039.9 L653.0,1037.3 L653.5,1038.5 L654.0,1032.5 L654.5,1040.1 L655.0,1039.5 L655.5,1039.3 L656.0,1039.8 L656.5,1038.7 L657.0,1039.1 L657.5,1037.8 L658.0,1039.9 L658.5,1039.1 L659.0,1038.9 L659.5,1037.7 L660.0,1040.1 L660.5,1040.1 L661.0,1040.0 L661.5,1038.1 L662.0,1039.7 L662.5,1038.5 L663.0,1038.5 L663.5,1039.4 L664.0,1038.6 L664.5,1040.0 L665.0,1039.4 L665.5,1039.4 L666.0,1038.9 L666.5,1035.7 L667.0,1037.5 L667.5,1037.6 L668.0,1039.0 L668.5,1038.9 L669.0,1033.4 L669.5,1039.6 L670.0,1039.0 L670.5,1038.4 L671.0,1038.1 L671.5,1039.6 L672.0,1038.2 L672.5,1039.5 L673.0,1040.0 L673.5,1039.2 L674.0,1039.6 L674.5,1039.1 L675.0,1037.7 L675.5,1038.5 L676.0,1037.8 L676.5,1038.9 L677.0,1039.7 L677.5,1038.1 L678.0,1040.1 L678.5,1031.5 L679.0,1039.0 L679.5,1039.0 L680.0,1032.3 L680.5,1040.1 L681.0,1038.5 L681.5,1038.0 L682.0,1037.5 L682.5,1039.8 L683.0,1040.0 L683.5,1038.2 L684.0,1039.0 L684.5,1038.3 L685.0,1039.2 L685.5,1037.4 L686.0,1038.5 L686.5,1038.3 L687.0,1038.1 L687.5,1037.7 L688.0,1039.3 L688.5,1038.1 L689.0,1030.9 L689.5,1038.4 L690.0,1037.9 L690.5,1039.6 L691.0,1038.0 L691.5,1037.3 L692.0,1040.1 L692.5,1040.1 L693.0,1039.6 L693.5,1032.7 L694.0,1037.9 L694.5,1039.3 L695.0,1038.8 L695.5,1037.4 L696.0,1038.4 L696.5,1040.1 L697.0,1039.6 L697.5,1039.4 L698.0,1037.9 L698.5,1039.8 L699.0,1040.1 L699.5,1040.1 L700.0,1039.7 L700.5,1038.9 L701.0,1039.7 L701.5,1038.5 L702.0,1039.2 L702.5,1036.3 L703.0,1038.8 L703.5,1037.8 L704.0,1037.9 L704.5,1039.2 L705.0,1039.7 L705.5,1037.3 L706.0,1040.2 L706.5,1039.6 L707.0,1040.0 L707.5,1039.6 L708.0,1039.6 L708.5,1039.9 L709.0,1038.8 L709.5,1040.1 L710.0,1038.3 L710.5,1037.5 L711.0,1039.5 L711.5,1039.0 L712.0,1032.9 L712.5,1039.8 L713.0,1039.5 L713.5,1037.5 L714.0,1037.8 L714.5,1035.0 L715.0,1037.5 L715.5,1039.5 L716.0,1039.8 L716.5,1032.0 L717.0,1040.1 L717.5,1039.6 L718.0,1040.1 L718.5,1038.1 L719.0,1038.1 L719.5,1037.6 L720.0,1039.7 L720.5,1037.3 L721.0,1038.6 L721.5,1039.4 L722.0,1037.9 L722.5,1034.0 L723.0,1038.9 L723.5,1037.6 L724.0,1039.9 L724.5,1038.8 L725.0,1035.0 L725.5,1040.0 L726.0,1038.1 L726.5,1037.8 L727.0,1040.2 L727.5,1038.8 L728.0,1040.2 L728.5,1039.8 L729.0,1037.4 L729.5,1040.1 L730.0,1040.1 L730.5,1039.3 L731.0,1039.6 L731.5,1039.2 L732.0,1039.4 L732.5,1039.6 L733.0,1039.9 L733.5,1038.7 L734.0,1037.6 L734.5,1038.3 L735.0,1039.5 L735.5,1038.8 L736.0,1039.2 L736.5,1038.5 L737.0,1039.4 L737.5,1039.3 L738.0,1037.7 L738.5,1039.0 L739.0,1039.9 L739.5,1038.3 L740.0,1038.5 L740.5,1039.5 L741.0,1039.3 L741.5,1037.8 L742.0,1039.6 L742.5,1040.1 L743.0,1039.2 L743.5,1038.7 L744.0,1038.1 L744.5,1040.1 L745.0,1040.1 L745.5,1038.7 L746.0,1037.9 L746.5,1037.5 L747.0,1038.8 L747.5,1039.8 L748.0,1040.2 L748.5,1039.6 L749.0,1037.0 L749.5,1038.8 L750.0,1040.1 L750.5,1039.5 L751.0,1039.4 L751.5,1037.3 L752.0,1037.6 L752.5,1038.5 L753.0,1040.1 L753.5,1038.6 L754.0,1039.7 L754.5,1037.6 L755.0,1040.2 L755.5,1032.6 L756.0,1037.7 L756.5,1040.2 L757.0,1040.1 L757.5,1038.1 L758.0,1038.1 L758.5,1034.1 L759.0,1038.0 L759.5,1039.8 L760.0,1040.0 L760.5,1040.2 L761.0,1039.4 L761.5,1038.1 L762.0,1037.4 L762.5,1037.6 L763.0,1040.1 L763.5,1039.9 L764.0,1039.6 L764.5,1040.1 L765.0,1040.0 L765.5,1039.2 L766.0,1039.1 L766.5,1039.6 L767.0,1038.3 L767.5,1037.8 L768.0,1037.9 L768.5,1038.9 L769.0,1038.3 L769.5,1039.7 L770.0,1040.1 L770.5,1038.4 L771.0,1039.9 L771.5,1038.0 L772.0,1039.9 L772.5,1039.5 L773.0,1040.0 L773.5,1038.7 L774.0,1040.0 L774.5,1037.0 L775.0,1039.0 L775.5,1037.7 L776.0,1038.7 L776.5,1038.2 L777.0,1040.2 L777.5,1038.2 L778.0,1040.1 L778.5,1038.6 L779.0,1040.2 L779.5,1040.2 L780.0,1039.5 L780.5,1040.2 L781.0,1039.8 L781.5,1039.4 L782.0,1033.7 L782.5,1038.4 L783.0,1040.2 L783.5,1037.7 L784.0,1039.9 L784.5,1037.8 L785.0,1039.2 L785.5,1040.1 L786.0,1038.8 L786.5,1038.8 L787.0,1039.4 L787.5,1038.0 L788.0,1032.2 L788.5,1040.0 L789.0,1039.9 L789.5,1038.1 L790.0,1039.5 L790.5,1039.8 L791.0,1038.6 L791.5,1039.5 L792.0,1038.1 L792.5,1040.0 L793.0,1038.7 L793.5,1039.1 L794.0,1038.3 L794.5,1039.1 L795.0,1039.8 L795.5,1040.1 L796.0,1037.8 L796.5,1040.1 L797.0,1038.9 L797.5,1036.1 L798.0,1033.3 L798.5,1039.8 L799.0,1039.1 L799.5,1037.6 L800.0,1039.4 L800.5,1038.0 L801.0,1038.3 L801.5,1038.4 L802.0,1037.5 L802.5,1038.3 L803.0,1039.0 L803.5,1039.9 L804.0,1039.9 L804.5,1039.2 L805.0,1038.5 L805.5,1037.4 L806.0,1038.1 L806.5,1038.6 L807.0,1037.6 L807.5,1036.2 L808.0,1039.1 L808.5,1040.1 L809.0,1040.1 L809.5,1039.3 L810.0,1039.2 L810.5,1039.5 L811.0,1040.2 L811.5,1037.5 L812.0,1039.6 L812.5,1038.4 L813.0,1037.2 L813.5,1039.9 L814.0,1039.5 L814.5,1037.5 L815.0,1038.9 L815.5,1038.7 L816.0,1038.0 L816.5,1040.2 L817.0,1039.1 L817.5,1040.1 L818.0,1039.5 L818.5,1039.8 L819.0,1039.5 L819.5,1037.8 L820.0,1039.8 L820.5,1037.4 L821.0,1039.9 L821.5,1040.1 L822.0,1038.2 L822.5,1038.2 L823.0,1037.8 L823.5,1038.1 L824.0,1037.8 L824.5,1039.8 L825.0,1038.0 L825.5,1037.9 L826.0,1037.9 L826.5,1039.2 L827.0,1040.1 L827.5,1037.7 L828.0,1039.2 L828.5,1037.9 L829.0,1032.7 L829.5,1040.0 L830.0,1040.0 L830.5,1038.9 L831.0,1039.3 L831.5,1038.5 L832.0,1039.7 L832.5,1037.6 L833.0,1034.7 L833.5,1039.3 L834.0,1038.4 L834.5,1040.0 L835.0,1037.5 L835.5,1039.3 L836.0,1039.3 L836.5,1038.2 L837.0,1039.8 L837.5,1040.2 L838.0,1040.1 L838.5,1039.4 L839.0,1039.9 L839.5,1039.3 L840.0,1040.1 L840.5,1037.5 L841.0,1034.8 L841.5,1035.0 L842.0,1039.3 L842.5,1038.0 L843.0,1040.1 L843.5,1040.2 L844.0,1038.8 L844.5,1037.5 L845.0,1040.1 L845.5,1038.3 L846.0,1037.4 L846.5,1040.1 L847.0,1040.1 L847.5,1038.8 L848.0,1033.3 L848.5,1039.8 L849.0,1037.9 L849.5,1038.2 L850.0,1039.0 L850.5,1040.2 L851.0,1038.8 L851.5,1039.1 L852.0,1039.9 L852.5,1040.1 L853.0,1039.8 L853.5,1039.0 L854.0,1037.5 L854.5,1039.9 L855.0,1038.0 L855.5,1039.4 L856.0,1037.4 L856.5,1040.0 L857.0,1039.7 L857.5,1034.9 L858.0,1039.7 L858.5,1038.1 L859.0,1038.8 L859.5,1039.8 L860.0,1039.1 L860.5,1038.3 L861.0,1039.6 L861.5,1038.0 L862.0,1037.6 L862.5,1040.1 L863.0,1040.2 L863.5,1038.6 L864.0,1039.4 L864.5,1040.0 L865.0,1038.2 L865.5,1038.9 L866.0,1039.9 L866.5,1040.2 L867.0,1039.0 L867.5,1039.0 L868.0,1039.3 L868.5,1039.8 L869.0,1037.6 L869.5,1040.2 L870.0,1039.9 L870.5,1039.2 L871.0,1037.7 L871.5,1035.2 L872.0,1038.9 L872.5,1036.0 L873.0,1038.0 L873.5,1040.2 L874.0,1037.8 L874.5,1040.0 L875.0,1037.7 L875.5,1038.7 L876.0,1040.1 L876.5,1038.1 L877.0,1040.0 L877.5,1038.1 L878.0,1039.0 L878.5,1038.8 L879.0,1040.1 L879.5,1040.0 L880.0,1040.0 L880.5,1040.2 L881.0,1038.7 L881.5,1032.2 L882.0,1039.1 L882.5,1034.3 L883.0,1040.0 L883.5,1039.1 L884.0,1039.2 L884.5,1038.7 L885.0,1039.3 L885.5,1039.4 L886.0,1039.9 L886.5,1039.3 L887.0,1040.1 L887.5,1037.5 L888.0,1038.3 L888.5,1040.1 L889.0,1037.9 L889.5,1040.2 L890.0,1038.8 L890.5,1038.7 L891.0,1040.0 L891.5,1040.1 L892.0,1038.0 L892.5,1039.2 L893.0,1039.2 L893.5,1036.6 L894.0,1040.2 L894.5,1037.8 L895.0,1040.0 L895.5,1039.8 L896.0,1038.7 L896.5,1038.4 L897.0,1038.1 L897.5,1038.4 L898.0,1039.8 L898.5,1033.5 L899.0,1038.6 L899.5,1039.1 L900.0,1040.1 L900.5,1038.6 L901.0,1039.2 L901.5,1039.9 L902.0,1039.6 L902.5,1037.8 L903.0,1039.8 L903.5,1040.1 L904.0,1040.2 L904.5,1037.6 L905.0,1039.6 L905.5,1031.8 L906.0,1031.4 L906.5,1038.8 L907.0,1039.4 L907.5,1039.2 L908.0,1037.9 L908.5,1040.2 L909.0,1038.8 L909.5,1033.9 L910.0,1039.6 L910.5,1037.6 L911.0,1034.9 L911.5,1038.5 L912.0,1038.4 L912.5,1038.2 L913.0,1037.7 L913.5,1039.1 L914.0,1038.2 L914.5,1038.7 L915.0,1039.7 L915.5,1038.0 L916.0,1039.8 L916.5,1037.9 L917.0,1040.2 L917.5,1039.6 L918.0,1038.1 L918.5,1038.9 L919.0,1039.4 L919.5,1039.8 L920.0,1039.3 L920.5,1040.1 L921.0,1038.3 L921.5,1040.2 L922.0,1040.1 L922.5,1040.2 L923.0,1040.1 L923.5,1039.5 L924.0,1039.5 L924.5,1039.6 L925.0,1039.9 L925.5,1040.0 L926.0,1039.2 L926.5,1034.0 L927.0,1039.7 L927.5,1039.8 L928.0,1039.8 L928.5,1039.9 L929.0,1039.5 L929.5,1039.8 L930.0,1039.1 L930.5,1038.8 L931.0,1040.2 L931.5,1040.1 L932.0,1040.1 L932.5,1039.7 L933.0,1040.0 L933.5,1040.1 L934.0,1038.8 L934.5,1039.9 L935.0,1038.8 L935.5,1039.0 L936.0,1037.0 L936.5,1037.8 L937.0,1033.7 L937.5,1038.1 L938.0,1039.7 L938.5,1039.9 L939.0,1040.2 L939.5,1039.3 L940.0,1037.8 L940.5,1037.8 L941.0,1040.3 L941.5,1037.7 L942.0,1039.0 L942.5,1039.5 L943.0,1040.1 L943.5,1039.9 L944.0,1038.1 L944.5,1038.1 L945.0,1039.1 L945.5,1038.3 L946.0,1038.9 L946.5,1036.6 L947.0,1039.3 L947.5,1040.1 L948.0,1039.9 L948.5,1040.0 L949.0,1035.6 L949.5,1039.4 L950.0,1039.5 L950.5,1039.7 L951.0,1039.6 L951.5,1040.3 L952.0,1039.2 L952.5,1039.9 L953.0,1037.9 L953.5,1039.7 L954.0,1039.2 L954.5,1040.3 L955.0,1040.2 L955.5,1039.2 L956.0,1038.9 L956.5,1037.7 L957.0,1033.0 L957.5,1039.4 L958.0,1040.3 L958.5,1039.5 L959.0,1035.8 L959.5,1040.1 L960.0,1040.1 L960.5,1039.1 L961.0,1037.9 L961.5,1038.9 L962.0,1038.1 L962.5,1038.6 L963.0,1040.0 L963.5,1037.9 L964.0,1039.8 L964.5,1038.9 L965.0,1038.5 L965.5,1039.7 L966.0,1039.0 L966.5,1038.1 L967.0,1034.1 L967.5,1040.3 L968.0,1040.1 L968.5,1038.7 L969.0,1039.7 L969.5,1039.3 L970.0,1039.4 L970.5,1039.5 L971.0,1038.9 L971.5,1038.9 L972.0,1038.6 L972.5,1039.2 L973.0,1039.3 L973.5,1038.3 L974.0,1038.7 L974.5,1039.5 L975.0,1040.2 L975.5,1039.4 L976.0,1039.6 L976.5,1038.3 L977.0,1039.7 L977.5,1039.5 L978.0,1039.8 L978.5,1033.3 L979.0,1040.0 L979.5,1038.0 L980.0,1040.3 L980.5,1040.2 L981.0,1037.7 L981.5,1039.4 L982.0,1040.0 L982.5,1039.6 L983.0,1039.2 L983.5,1039.4 L984.0,1040.3 L984.5,1040.0 L985.0,1039.2 L985.5,1039.2 L986.0,1040.2 L986.5,1035.9 L987.0,1040.0 L987.5,1038.3 L988.0,1038.8 L988.5,1040.0 L989.0,1039.8 L989.5,1039.4 L990.0,1040.2 L990.5,1040.2 L991.0,1038.4 L991.5,1039.8 L992.0,1040.4 L992.5,1035.4 L993.0,1040.2 L993.5,1040.4 L994.0,1036.9 L994.5,1039.9 L995.0,1039.5 L995.5,1038.5 L996.0,1038.2 L996.5,1039.4 L997.0,1040.2 L997.5,1040.2 L998.0,1039.2 L998.5,1038.7 L999.0,1033.2 L999.5,1039.5 L1000.0,1040.1 L1000.5,1039.8 L1001.0,1039.3 L1001.5,1040.0 L1002.0,1040.4 L1002.5,1039.4 L1003.0,1040.0 L1003.5,1039.6 L1004.0,1040.4 L1004.5,1040.1 L1005.0,1040.1 L1005.5,1040.2 L1006.0,1039.9 L1006.5,1038.9 L1007.0,1033.6 L1007.5,1039.2 L1008.0,1039.5 L1008.5,1039.1 L1009.0,1038.3 L1009.5,1040.4 L1010.0,1038.4 L1010.5,1039.0 L1011.0,1033.2 L1011.5,1040.1 L1012.0,1039.1 L1012.5,1038.3 L1013.0,1038.0 L1013.5,1039.4 L1014.0,1039.1 L1014.5,1039.6 L1015.0,1040.2 L1015.5,1038.6 L1016.0,1039.0 L1016.5,1039.6 L1017.0,1036.4 L1017.5,1038.1 L1018.0,1038.1 L1018.5,1033.8 L1019.0,1038.7 L1019.5,1040.2 L1020.0,1039.9 L1020.5,1038.2 L1021.0,1039.1 L1021.5,1040.5 L1022.0,1040.4 L1022.5,1040.2 L1023.0,1039.1 L1023.5,1039.0 L1024.0,1034.5 L1024.5,1038.8 L1025.0,1039.1 L1025.5,1040.4 L1026.0,1038.9 L1026.5,1040.4 L1027.0,1039.4 L1027.5,1039.8 L1028.0,1038.5 L1028.5,1038.9 L1029.0,1040.1 L1029.5,1038.1 L1030.0,1039.9 L1030.5,1040.2 L1031.0,1040.1 L1031.5,1040.1 L1032.0,1038.5 L1032.5,1040.3 L1033.0,1039.0 L1033.5,1038.6 L1034.0,1039.4 L1034.5,1038.9 L1035.0,1040.5 L1035.5,1040.2 L1036.0,1039.9 L1036.5,1039.6 L1037.0,1038.5 L1037.5,1040.2 L1038.0,1040.4 L1038.5,1038.4 L1039.0,1040.0 L1039.5,1038.6 L1040.0,1038.2 L1040.5,1040.5 L1041.0,1038.2 L1041.5,1039.7 L1042.0,1040.4 L1042.5,1039.3 L1043.0,1040.4 L1043.5,1033.8 L1044.0,1038.7 L1044.5,1040.1 L1045.0,1034.8 L1045.5,1040.3 L1046.0,1038.4 L1046.5,1039.3 L1047.0,1039.2 L1047.5,1040.3 L1048.0,1040.3 L1048.5,1039.4 L1049.0,1034.2 L1049.5,1038.9 L1050.0,1039.5 L1050.5,1039.0 L1051.0,1040.2 L1051.5,1037.3 L1052.0,1038.6 L1052.5,1040.3 L1053.0,1039.5 L1053.5,1039.8 L1054.0,1039.2 L1054.5,1039.7 L1055.0,1039.2 L1055.5,1040.2 L1056.0,1040.1 L1056.5,1040.2 L1057.0,1039.1 L1057.5,1039.2 L1058.0,1040.4 L1058.5,1038.4 L1059.0,1038.6 L1059.5,1040.1 L1060.0,1038.9 L1060.5,1040.1 L1061.0,1039.1 L1061.5,1038.5 L1062.0,1040.4 L1062.5,1040.6 L1063.0,1040.1 L1063.5,1039.8 L1064.0,1039.4 L1064.5,1040.3 L1065.0,1035.3 L1065.5,1039.1 L1066.0,1040.2 L1066.5,1039.2 L1067.0,1038.4 L1067.5,1038.0 L1068.0,1039.9 L1068.5,1040.5 L1069.0,1040.5 L1069.5,1039.1 L1070.0,1039.1 L1070.5,1037.2 L1071.0,1040.5 L1071.5,1040.4 L1072.0,1039.0 L1072.5,1038.4 L1073.0,1040.5 L1073.5,1034.4 L1074.0,1039.7 L1074.5,1039.6 L1075.0,1039.2 L1075.5,1039.1 L1076.0,1040.3 L1076.5,1038.8 L1077.0,1040.5 L1077.5,1040.6 L1078.0,1040.3 L1078.5,1039.2 L1079.0,1036.8 L1079.5,1034.6 L1080.0,1038.7 L1080.5,1039.8 L1081.0,1038.6 L1081.5,1039.8 L1082.0,1036.8 L1082.5,1040.0 L1083.0,1040.1 L1083.5,1040.2 L1084.0,1038.7 L1084.5,1038.9 L1085.0,1039.8 L1085.5,1039.1 L1086.0,1040.5 L1086.5,1039.6 L1087.0,1040.2 L1087.5,1039.7 L1088.0,1038.7 L1088.5,1039.2 L1089.0,1039.2 L1089.5,1038.4 L1090.0,1039.6 L1090.5,1040.6 L1091.0,1039.3 L1091.5,1040.3 L1092.0,1039.1 L1092.5,1034.4 L1093.0,1040.6 L1093.5,1037.4 L1094.0,1039.4 L1094.5,1040.6 L1095.0,1039.1 L1095.5,1038.8 L1096.0,1040.2 L1096.5,1040.5 L1097.0,1040.0 L1097.5,1038.6 L1098.0,1038.6 L1098.5,1037.2 L1099.0,1040.6 L1099.5,1039.0 L1100.0,1040.3 L1100.5,1039.2 L1101.0,1039.4 L1101.5,1040.6 L1102.0,1040.2 L1102.5,1040.6 L1103.0,1040.6 L1103.5,1038.6 L1104.0,1040.6 L1104.5,1040.2 L1105.0,1039.4 L1105.5,1040.4 L1106.0,1039.8 L1106.5,1037.4 L1107.0,1038.5 L1107.5,1039.9 L1108.0,1039.1 L1108.5,1040.2 L1109.0,1040.5 L1109.5,1040.7 L1110.0,1040.5 L1110.5,1034.5 L1111.0,1040.6 L1111.5,1038.7 L1112.0,1039.0 L1112.5,1040.0 L1113.0,1040.7 L1113.5,1039.6 L1114.0,1037.7 L1114.5,1039.7 L1115.0,1040.5 L1115.5,1038.6 L1116.0,1039.1 L1116.5,1039.5 L1117.0,1040.1 L1117.5,1039.1 L1118.0,1040.5 L1118.5,1040.2 L1119.0,1039.8 L1119.5,1038.9 L1120.0,1040.1 L1120.5,1039.8 L1121.0,1035.7 L1121.5,1040.3 L1122.0,1039.8 L1122.5,1038.6 L1123.0,1038.7 L1123.5,1039.9 L1124.0,1040.5 L1124.5,1040.0 L1125.0,1038.8 L1125.5,1039.5 L1126.0,1040.6 L1126.5,1040.7 L1127.0,1038.7 L1127.5,1040.6 L1128.0,1040.7 L1128.5,1040.5 L1129.0,1039.6 L1129.5,1040.7 L1130.0,1039.8 L1130.5,1038.3 L1131.0,1039.9 L1131.5,1038.6 L1132.0,1039.1 L1132.5,1039.2 L1133.0,1040.0 L1133.5,1040.6 L1134.0,1040.7 L1134.5,1040.1 L1135.0,1038.8 L1135.5,1040.0 L1136.0,1039.4 L1136.5,1040.6 L1137.0,1040.7 L1137.5,1040.0 L1138.0,1040.6 L1138.5,1039.3 L1139.0,1037.6 L1139.5,1040.4 L1140.0,1040.7 L1140.5,1039.0 L1141.0,1036.7 L1141.5,1040.5 L1142.0,1040.5 L1142.5,1039.8 L1143.0,1035.6 L1143.5,1039.4 L1144.0,1038.8 L1144.5,1040.6 L1145.0,1040.6 L1145.5,1039.8 L1146.0,1039.3 L1146.5,1040.4 L1147.0,1036.3 L1147.5,1040.6 L1148.0,1040.2 L1148.5,1039.6 L1149.0,1039.9 L1149.5,1038.8 L1150.0,1040.4 L1150.5,1034.2 L1151.0,1038.9 L1151.5,1038.9 L1152.0,1039.5 L1152.5,1036.8 L1153.0,1040.2 L1153.5,1039.9 L1154.0,1040.5 L1154.5,1039.8 L1155.0,1039.3 L1155.5,1040.2 L1156.0,1040.3 L1156.5,1039.1 L1157.0,1039.6 L1157.5,1040.8 L1158.0,1039.4 L1158.5,1038.8 L1159.0,1040.4 L1159.5,1039.2 L1160.0,1039.0 L1160.5,1040.5 L1161.0,1040.0 L1161.5,1037.3 L1162.0,1039.6 L1162.5,1040.3 L1163.0,1040.8 L1163.5,1040.8 L1164.0,1040.0 L1164.5,1039.8 L1165.0,1038.9 L1165.5,1040.8 L1166.0,1040.1 L1166.5,1039.3 L1167.0,1039.0 L1167.5,1039.1 L1168.0,1039.3 L1168.5,1039.0 L1169.0,1038.9 L1169.5,1040.3 L1170.0,1036.7 L1170.5,1040.0 L1171.0,1040.4 L1171.5,1039.6 L1172.0,1039.7 L1172.5,1040.4 L1173.0,1040.1 L1173.5,1040.5 L1174.0,1040.3 L1174.5,1040.7 L1175.0,1040.1 L1175.5,1038.4 L1176.0,1035.1 L1176.5,1039.9 L1177.0,1040.8 L1177.5,1040.4 L1178.0,1040.7 L1178.5,1040.5 L1179.0,1039.7 L1179.5,1039.6 L1180.0,1040.8 L1180.5,1040.2 L1181.0,1039.1 L1181.5,1039.3 L1182.0,1035.8 L1182.5,1040.3 L1183.0,1040.2 L1183.5,1040.6 L1184.0,1038.6 L1184.5,1039.1 L1185.0,1040.5 L1185.5,1040.4 L1186.0,1039.0 L1186.5,1040.6 L1187.0,1040.3 L1187.5,1039.8 L1188.0,1040.3 L1188.5,1040.5 L1189.0,1040.3 L1189.5,1039.7 L1190.0,1039.0 L1190.5,1039.9 L1191.0,1039.9 L1191.5,1039.3 L1192.0,1040.7 L1192.5,1039.7 L1193.0,1040.8 L1193.5,1040.9 L1194.0,1039.5 L1194.5,1040.9 L1195.0,1039.0 L1195.5,1040.4 L1196.0,1039.5 L1196.5,1040.4 L1197.0,1039.0 L1197.5,1040.3 L1198.0,1039.7 L1198.5,1040.3 L1199.0,1040.4 L1199.5,1039.5 L1200.0,1039.6 L1200.5,1039.4 L1201.0,1039.1 L1201.5,1037.9 L1202.0,1035.8 L1202.5,1040.6 L1203.0,1040.9 L1203.5,1039.6 L1204.0,1039.8 L1204.5,1040.8 L1205.0,1039.6 L1205.5,1040.1 L1206.0,1040.2 L1206.5,1040.3 L1207.0,1039.7 L1207.5,1039.6 L1208.0,1039.9 L1208.5,1039.3 L1209.0,1039.6 L1209.5,1040.5 L1210.0,1037.5 L1210.5,1035.1 L1211.0,1040.1 L1211.5,1039.8 L1212.0,1039.7 L1212.5,1040.8 L1213.0,1039.4 L1213.5,1040.7 L1214.0,1040.2 L1214.5,1040.3 L1215.0,1039.1 L1215.5,1039.1 L1216.0,1040.8 L1216.5,1040.5 L1217.0,1040.1 L1217.5,1040.6 L1218.0,1040.5 L1218.5,1040.3 L1219.0,1039.1 L1219.5,1040.9 L1220.0,1040.2 L1220.5,1039.5 L1221.0,1040.5 L1221.5,1040.5 L1222.0,1039.5 L1222.5,1040.4 L1223.0,1040.6 L1223.5,1035.0 L1224.0,1039.6 L1224.5,1040.0 L1225.0,1039.7 L1225.5,1040.5 L1226.0,1040.7 L1226.5,1039.5 L1227.0,1040.4 L1227.5,1039.2 L1228.0,1040.1 L1228.5,1040.2 L1229.0,1040.7 L1229.5,1040.5 L1230.0,1039.8 L1230.5,1040.9 L1231.0,1040.2 L1231.5,1039.9 L1232.0,1035.0 L1232.5,1040.1 L1233.0,1039.4 L1233.5,1037.3 L1234.0,1040.5 L1234.5,1039.6 L1235.0,1039.6 L1235.5,1040.3 L1236.0,1040.7 L1236.5,1039.3 L1237.0,1040.7 L1237.5,1040.0 L1238.0,1040.0 L1238.5,1040.9 L1239.0,1039.9 L1239.5,1040.9 L1240.0,1040.9 L1240.5,1039.9 L1241.0,1040.1 L1241.5,1040.6 L1242.0,1039.4 L1242.5,1040.1 L1243.0,1040.3 L1243.5,1040.4 L1244.0,1039.6 L1244.5,1040.5 L1245.0,1039.3 L1245.5,1040.5 L1246.0,1040.8 L1246.5,1039.7 L1247.0,1040.4 L1247.5,1040.2 L1248.0,1040.9 L1248.5,1040.8 L1249.0,1040.0 L1249.5,1040.8 L1250.0,1040.7 L1250.5,1039.6 L1251.0,1040.6 L1251.5,1040.8 L1252.0,1037.7 L1252.5,1040.8 L1253.0,1040.7 L1253.5,1041.0 L1254.0,1040.4 L1254.5,1039.9 L1255.0,1040.8 L1255.5,1036.1 L1256.0,1039.9 L1256.5,1038.2 L1257.0,1039.8 L1257.5,1041.0 L1258.0,1040.4 L1258.5,1040.6 L1259.0,1039.6 L1259.5,1040.3 L1260.0,1040.5 L1260.5,1040.0 L1261.0,1040.8 L1261.5,1040.3 L1262.0,1041.0 L1262.5,1040.5 L1263.0,1039.7 L1263.5,1039.9 L1264.0,1040.2 L1264.5,1041.0 L1265.0,1040.9 L1265.5,1040.3 L1266.0,1040.9 L1266.5,1040.5 L1267.0,1041.0 L1267.5,1040.6 L1268.0,1040.9 L1268.5,1040.9 L1269.0,1040.9 L1269.5,1039.6 L1270.0,1041.0 L1270.5,1041.0 L1271.0,1039.9 L1271.5,1039.6 L1272.0,1040.0 L1272.5,1039.6 L1273.0,1040.6 L1273.5,1039.7 L1274.0,1040.0 L1274.5,1041.0 L1275.0,1040.8 L1275.5,1039.4 L1276.0,1040.6 L1276.5,1040.7 L1277.0,1039.5 L1277.5,1039.4 L1278.0,1041.0 L1278.5,1041.0 L1279.0,1040.3 L1279.5,1039.8 L1280.0,1039.4 L1280.5,1039.5 L1281.0,1040.7 L1281.5,1040.0 L1282.0,1041.1 L1282.5,1040.0 L1283.0,1038.8 L1283.5,1041.0 L1284.0,1040.6 L1284.5,1040.0 L1285.0,1040.9 L1285.5,1040.3 L1286.0,1039.7 L1286.5,1041.1 L1287.0,1040.1 L1287.5,1039.9 L1288.0,1040.3 L1288.5,1041.0 L1289.0,1039.5 L1289.5,1040.2 L1290.0,1039.6 L1290.5,1040.5 L1291.0,1039.6 L1291.5,1039.7 L1292.0,1040.4 L1292.5,1039.7 L1293.0,1039.5 L1293.5,1040.2 L1294.0,1040.3 L1294.5,1040.7 L1295.0,1039.8 L1295.5,1040.6 L1296.0,1039.5 L1296.5,1036.7 L1297.0,1041.1 L1297.5,1040.2 L1298.0,1040.0 L1298.5,1041.0 L1299.0,1039.5 L1299.5,1039.5 L1300.0,1040.6 L1300.5,1039.6 L1301.0,1041.1 L1301.5,1040.2 L1302.0,1041.0 L1302.5,1041.0 L1303.0,1041.1 L1303.5,1041.0 L1304.0,1041.1 L1304.5,1040.3 L1305.0,1040.3 L1305.5,1040.4 L1306.0,1040.6 L1306.5,1040.4 L1307.0,1040.8 L1307.5,1041.1 L1308.0,1040.5 L1308.5,1041.1 L1309.0,1039.9 L1309.5,1040.9 L1310.0,1037.9 L1310.5,1040.1 L1311.0,1039.6 L1311.5,1040.5 L1312.0,1040.6 L1312.5,1039.6 L1313.0,1041.1 L1313.5,1040.3 L1314.0,1039.6 L1314.5,1039.6 L1315.0,1040.5 L1315.5,1041.1 L1316.0,1040.8 L1316.5,1040.1 L1317.0,1041.0 L1317.5,1039.8 L1318.0,1040.8 L1318.5,1036.9 L1319.0,1040.7 L1319.5,1037.6 L1320.0,1040.9 L1320.5,1040.2 L1321.0,1041.1 L1321.5,1040.3 L1322.0,1040.2 L1322.5,1041.0 L1323.0,1040.1 L1323.5,1039.9 L1324.0,1039.7 L1324.5,1039.7 L1325.0,1040.1 L1325.5,1040.7 L1326.0,1040.1 L1326.5,1039.9 L1327.0,1040.6 L1327.5,1041.1 L1328.0,1041.2 L1328.5,1040.4 L1329.0,1040.1 L1329.5,1039.1 L1330.0,1041.2 L1330.5,1040.0 L1331.0,1040.5 L1331.5,1040.4 L1332.0,1040.1 L1332.5,1039.8 L1333.0,1039.7 L1333.5,1041.0 L1334.0,1040.6 L1334.5,1041.2 L1335.0,1040.4 L1335.5,1040.8 L1336.0,1040.8 L1336.5,1040.8 L1337.0,1039.9 L1337.5,1039.8 L1338.0,1040.1 L1338.5,1039.5 L1339.0,1040.5 L1339.5,1041.0 L1340.0,1040.3 L1340.5,1040.8 L1341.0,1040.3 L1341.5,1040.9 L1342.0,1041.1 L1342.5,1040.3 L1343.0,1041.2 L1343.5,1040.6 L1344.0,1040.9 L1344.5,1040.9 L1345.0,1036.7 L1345.5,1041.2 L1346.0,1040.6 L1346.5,1040.5 L1347.0,1040.2 L1347.5,1040.0 L1348.0,1040.3 L1348.5,1041.0 L1349.0,1040.6 L1349.5,1041.2 L1350.0,1040.4 L1350.5,1040.8 L1351.0,1041.2 L1351.5,1041.0 L1352.0,1041.0 L1352.5,1041.1 L1353.0,1040.4 L1353.5,1037.9 L1354.0,1041.1 L1354.5,1040.8 L1355.0,1041.3 L1355.5,1040.3 L1356.0,1040.1 L1356.5,1040.7 L1357.0,1041.3 L1357.5,1037.6 L1358.0,1041.2 L1358.5,1041.1 L1359.0,1040.8 L1359.5,1041.2 L1360.0,1037.1 L1360.5,1041.2 L1361.0,1041.1 L1361.5,1040.8 L1362.0,1041.3 L1362.5,1040.6 L1363.0,1041.0 L1363.5,1040.1 L1364.0,1039.5 L1364.5,1040.2 L1365.0,1041.0 L1365.5,1041.3 L1366.0,1040.5 L1366.5,1040.9 L1367.0,1041.1 L1367.5,1041.0 L1368.0,1041.0 L1368.5,1040.1 L1369.0,1039.9 L1369.5,1040.9 L1370.0,1040.2 L1370.5,1040.5 L1371.0,1040.8 L1371.5,1040.1 L1372.0,1040.0 L1372.5,1041.0 L1373.0,1040.1 L1373.5,1040.3 L1374.0,1040.6 L1374.5,1040.3 L1375.0,1040.6 L1375.5,1040.4 L1376.0,1041.1 L1376.5,1040.4 L1377.0,1040.3 L1377.5,1041.0 L1378.0,1040.1 L1378.5,1040.9 L1379.0,1041.3 L1379.5,1040.3 L1380.0,1040.9 L1380.5,1041.4 L1381.0,1041.2 L1381.5,1041.1 L1382.0,1040.2 L1382.5,1038.4 L1383.0,1040.9 L1383.5,1041.4 L1384.0,1041.4 L1384.5,1041.4 L1385.0,1040.9 L1385.5,1041.2 L1386.0,1040.7 L1386.5,1041.3 L1387.0,1041.3 L1387.5,1038.5 L1388.0,1041.2 L1388.5,1040.4 L1389.0,1041.4 L1389.5,1040.3 L1390.0,1040.7 L1390.5,1040.4 L1391.0,1041.1 L1391.5,1040.9 L1392.0,1040.6 L1392.5,1039.3 L1393.0,1040.5 L1393.5,1040.9 L1394.0,1040.9 L1394.5,1041.4 L1395.0,1041.3 L1395.5,1040.9 L1396.0,1041.4 L1396.5,1040.5 L1397.0,1041.3 L1397.5,1041.1 L1398.0,1040.6 L1398.5,1040.2 L1399.0,1041.0 L1399.5,1041.3 L1400.0,1041.2 L1400.5,1041.3 L1401.0,1040.8 L1401.5,1041.0 L1402.0,1040.6 L1402.5,1040.7 L1403.0,1041.4 L1403.5,1041.4 L1404.0,1040.9 L1404.5,1040.4 L1405.0,1040.4 L1405.5,1038.9 L1406.0,1040.7 L1406.5,1041.0 L1407.0,1040.3 L1407.5,1041.4 L1408.0,1040.6 L1408.5,1040.2 L1409.0,1041.4 L1409.5,1041.0 L1410.0,1040.5 L1410.5,1040.2 L1411.0,1041.3 L1411.5,1041.3 L1412.0,1041.3 L1412.5,1041.0 L1413.0,1040.5 L1413.5,1040.3 L1414.0,1041.5 L1414.5,1040.6 L1415.0,1040.2 L1415.5,1040.7 L1416.0,1039.9 L1416.5,1040.6 L1417.0,1041.4 L1417.5,1040.4 L1418.0,1041.4 L1418.5,1041.3 L1419.0,1041.1 L1419.5,1040.4 L1420.0,1041.1 L1420.5,1041.3 L1421.0,1040.8 L1421.5,1040.8 L1422.0,1040.5 L1422.5,1040.7 L1423.0,1040.7 L1423.5,1041.4 L1424.0,1038.8 L1424.5,1041.0 L1425.0,1040.3 L1425.5,1037.9 L1426.0,1041.0 L1426.5,1040.5 L1427.0,1041.2 L1427.5,1040.6 L1428.0,1040.7 L1428.5,1040.7 L1429.0,1040.7 L1429.5,1041.0 L1430.0,1040.4 L1430.5,1041.0 L1431.0,1041.5 L1431.5,1040.4 L1432.0,1040.7 L1432.5,1040.8 L1433.0,1040.9 L1433.5,1041.5 L1434.0,1041.0 L1434.5,1041.3 L1435.0,1040.7 L1435.5,1041.5 L1436.0,1040.9 L1436.5,1040.7 L1437.0,1041.3 L1437.5,1041.5 L1438.0,1040.9 L1438.5,1040.9 L1439.0,1040.3 L1439.5,1040.4 L1440.0,1041.4 L1440.5,1040.9 L1441.0,1040.8 L1441.5,1040.9 L1442.0,1040.4 L1442.5,1041.2 L1443.0,1040.3 L1443.5,1041.5 L1444.0,1041.1 L1444.5,1041.4 L1445.0,1041.6 L1445.5,1041.2 L1446.0,1041.4 L1446.5,1038.8 L1447.0,1041.3 L1447.5,1040.5 L1448.0,1041.1 L1448.5,1041.3 L1449.0,1040.7 L1449.5,1040.5 L1450.0,1041.6 L1450.5,1040.9 L1451.0,1041.3 L1451.5,1041.5 L1452.0,1041.3 L1452.5,1040.8 L1453.0,1040.7 L1453.5,1041.2 L1454.0,1041.5 L1454.5,1040.9 L1455.0,1041.1 L1455.5,1041.4 L1456.0,1040.8 L1456.5,1041.5 L1457.0,1041.5 L1457.0,1042.8 Z" fill="#ee0000" stroke="none"/><rect x="74" y="608.4" width="1272" height="1.2" fill="#0a4a0a"/><rect x="74" y="1041.7" width="1383" height="1.2" fill="#7a0000"/></g><g><line x1="73.60" y1="247.60" x2="73.60" y2="611.50" stroke="#000000" stroke-width="2.6" /><line x1="73.60" y1="610.30" x2="1458.00" y2="610.30" stroke="#000000" stroke-width="2.6" /><line x1="67.10" y1="248.00" x2="73.60" y2="248.00" stroke="#000000" stroke-width="1.4" /><line x1="70.60" y1="284.20" x2="73.60" y2="284.20" stroke="#000000" stroke-width="1.4" /><line x1="70.60" y1="320.40" x2="73.60" y2="320.40" stroke="#000000" stroke-width="1.4" /><line x1="70.60" y1="356.60" x2="73.60" y2="356.60" stroke="#000000" stroke-width="1.4" /><line x1="70.60" y1="392.80" x2="73.60" y2="392.80" stroke="#000000" stroke-width="1.4" /><line x1="67.10" y1="429.00" x2="73.60" y2="429.00" stroke="#000000" stroke-width="1.4" /><line x1="70.60" y1="465.20" x2="73.60" y2="465.20" stroke="#000000" stroke-width="1.4" /><line x1="70.60" y1="501.40" x2="73.60" y2="501.40" stroke="#000000" stroke-width="1.4" /><line x1="70.60" y1="537.60" x2="73.60" y2="537.60" stroke="#000000" stroke-width="1.4" /><line x1="70.60" y1="573.80" x2="73.60" y2="573.80" stroke="#000000" stroke-width="1.4" /><line x1="67.10" y1="610.00" x2="73.60" y2="610.00" stroke="#000000" stroke-width="1.4" /><line x1="75.75" y1="611.30" x2="75.75" y2="615.50" stroke="#222" stroke-width="1.3" /><line x1="82.40" y1="611.30" x2="82.40" y2="615.50" stroke="#222" stroke-width="1.3" /><line x1="89.05" y1="611.30" x2="89.05" y2="619.50" stroke="#222" stroke-width="1.3" /><line x1="95.70" y1="611.30" x2="95.70" y2="615.50" stroke="#222" stroke-width="1.3" /><line x1="102.35" y1="611.30" x2="102.35" y2="615.50" stroke="#222" stroke-width="1.3" /><line x1="109.00" y1="611.30" x2="109.00" y2="615.50" stroke="#222" stroke-width="1.3" /><line x1="115.65" y1="611.30" x2="115.65" y2="615.50" stroke="#222" stroke-width="1.3" /><line x1="122.30" y1="611.30" x2="122.30" y2="619.50" stroke="#222" stroke-width="1.3" /><line x1="128.95" y1="611.30" x2="128.95" y2="615.50" stroke="#222" stroke-width="1.3" /><line x1="135.60" y1="611.30" x2="135.60" y2="615.50" stroke="#222" stroke-width="1.3" /><line x1="142.25" y1="611.30" x2="142.25" y2="615.50" stroke="#222" stroke-width="1.3" /><line x1="148.90" y1="611.30" x2="148.90" y2="615.50" stroke="#222" stroke-width="1.3" /><line x1="155.55" y1="611.30" x2="155.55" y2="619.50" stroke="#222" stroke-width="1.3" /><line x1="162.20" y1="611.30" x2="162.20" y2="615.50" stroke="#222" stroke-width="1.3" /><line x1="168.85" y1="611.30" x2="168.85" y2="615.50" stroke="#222" stroke-width="1.3" /><line x1="175.50" y1="611.30" x2="175.50" y2="615.50" stroke="#222" stroke-width="1.3" /><line x1="182.15" y1="611.30" x2="182.15" y2="615.50" stroke="#222" stroke-width="1.3" /><line x1="188.80" y1="611.30" x2="188.80" y2="619.50" stroke="#222" stroke-width="1.3" /><line x1="195.45" y1="611.30" x2="195.45" y2="615.50" stroke="#222" stroke-width="1.3" /><line x1="202.10" y1="611.30" x2="202.10" y2="615.50" stroke="#222" stroke-width="1.3" /><line x1="208.75" y1="611.30" x2="208.75" y2="615.50" stroke="#222" stroke-width="1.3" /><line x1="215.40" y1="611.30" x2="215.40" y2="615.50" stroke="#222" stroke-width="1.3" /><line x1="222.05" y1="611.30" x2="222.05" y2="619.50" stroke="#222" stroke-width="1.3" /><line x1="228.70" y1="611.30" x2="228.70" y2="615.50" stroke="#222" stroke-width="1.3" /><line x1="235.35" y1="611.30" x2="235.35" y2="615.50" stroke="#222" stroke-width="1.3" /><line x1="242.00" y1="611.30" x2="242.00" y2="615.50" stroke="#222" stroke-width="1.3" /><line x1="248.65" y1="611.30" x2="248.65" y2="615.50" stroke="#222" stroke-width="1.3" /><line x1="255.30" y1="611.30" x2="255.30" y2="619.50" stroke="#222" stroke-width="1.3" /><line x1="261.95" y1="611.30" x2="261.95" y2="615.50" stroke="#222" stroke-width="1.3" /><line x1="268.60" y1="611.30" x2="268.60" y2="615.50" stroke="#222" stroke-width="1.3" /><line x1="275.25" y1="611.30" x2="275.25" y2="615.50" stroke="#222" stroke-width="1.3" /><line x1="281.90" y1="611.30" x2="281.90" y2="615.50" stroke="#222" stroke-width="1.3" /><line x1="288.55" y1="611.30" x2="288.55" y2="619.50" stroke="#222" stroke-width="1.3" /><line x1="295.20" y1="611.30" x2="295.20" y2="615.50" stroke="#222" stroke-width="1.3" /><line x1="301.85" y1="611.30" x2="301.85" y2="615.50" stroke="#222" stroke-width="1.3" /><line x1="308.50" y1="611.30" x2="308.50" y2="615.50" stroke="#222" stroke-width="1.3" /><line x1="315.15" y1="611.30" x2="315.15" y2="615.50" stroke="#222" stroke-width="1.3" /><line x1="321.80" y1="611.30" x2="321.80" y2="619.50" stroke="#222" stroke-width="1.3" /><line x1="328.45" y1="611.30" x2="328.45" y2="615.50" stroke="#222" stroke-width="1.3" /><line x1="335.10" y1="611.30" x2="335.10" y2="615.50" stroke="#222" stroke-width="1.3" /><line x1="341.75" y1="611.30" x2="341.75" y2="615.50" stroke="#222" stroke-width="1.3" /><line x1="348.40" y1="611.30" x2="348.40" y2="615.50" stroke="#222" stroke-width="1.3" /><line x1="355.05" y1="611.30" x2="355.05" y2="619.50" stroke="#222" stroke-width="1.3" /><line x1="361.70" y1="611.30" x2="361.70" y2="615.50" stroke="#222" stroke-width="1.3" /><line x1="368.35" y1="611.30" x2="368.35" y2="615.50" stroke="#222" stroke-width="1.3" /><line x1="375.00" y1="611.30" x2="375.00" y2="615.50" stroke="#222" stroke-width="1.3" /><line x1="381.65" y1="611.30" x2="381.65" y2="615.50" stroke="#222" stroke-width="1.3" /><line x1="388.30" y1="611.30" x2="388.30" y2="619.50" stroke="#222" stroke-width="1.3" /><line x1="394.95" y1="611.30" x2="394.95" y2="615.50" stroke="#222" stroke-width="1.3" /><line x1="401.60" y1="611.30" x2="401.60" y2="615.50" stroke="#222" stroke-width="1.3" /><line x1="408.25" y1="611.30" x2="408.25" y2="615.50" stroke="#222" stroke-width="1.3" /><line x1="414.90" y1="611.30" x2="414.90" y2="615.50" stroke="#222" stroke-width="1.3" /><line x1="421.55" y1="611.30" x2="421.55" y2="619.50" stroke="#222" stroke-width="1.3" /><line x1="428.20" y1="611.30" x2="428.20" y2="615.50" stroke="#222" stroke-width="1.3" /><line x1="434.85" y1="611.30" x2="434.85" y2="615.50" stroke="#222" stroke-width="1.3" /><line x1="441.50" y1="611.30" x2="441.50" y2="615.50" stroke="#222" stroke-width="1.3" /><line x1="448.15" y1="611.30" x2="448.15" y2="615.50" stroke="#222" stroke-width="1.3" /><line x1="454.80" y1="611.30" x2="454.80" y2="619.50" stroke="#222" stroke-width="1.3" /><line x1="461.45" y1="611.30" x2="461.45" y2="615.50" stroke="#222" stroke-width="1.3" /><line x1="468.10" y1="611.30" x2="468.10" y2="615.50" stroke="#222" stroke-width="1.3" /><line x1="474.75" y1="611.30" x2="474.75" y2="615.50" stroke="#222" stroke-width="1.3" /><line x1="481.40" y1="611.30" x2="481.40" y2="615.50" stroke="#222" stroke-width="1.3" /><line x1="488.05" y1="611.30" x2="488.05" y2="619.50" stroke="#222" stroke-width="1.3" /><line x1="494.70" y1="611.30" x2="494.70" y2="615.50" stroke="#222" stroke-width="1.3" /><line x1="501.35" y1="611.30" x2="501.35" y2="615.50" stroke="#222" stroke-width="1.3" /><line x1="508.00" y1="611.30" x2="508.00" y2="615.50" stroke="#222" stroke-width="1.3" /><line x1="514.65" y1="611.30" x2="514.65" y2="615.50" stroke="#222" stroke-width="1.3" /><line x1="521.30" y1="611.30" x2="521.30" y2="619.50" stroke="#222" stroke-width="1.3" /><line x1="527.95" y1="611.30" x2="527.95" y2="615.50" stroke="#222" stroke-width="1.3" /><line x1="534.60" y1="611.30" x2="534.60" y2="615.50" stroke="#222" stroke-width="1.3" /><line x1="541.25" y1="611.30" x2="541.25" y2="615.50" stroke="#222" stroke-width="1.3" /><line x1="547.90" y1="611.30" x2="547.90" y2="615.50" stroke="#222" stroke-width="1.3" /><line x1="554.55" y1="611.30" x2="554.55" y2="619.50" stroke="#222" stroke-width="1.3" /><line x1="561.20" y1="611.30" x2="561.20" y2="615.50" stroke="#222" stroke-width="1.3" /><line x1="567.85" y1="611.30" x2="567.85" y2="615.50" stroke="#222" stroke-width="1.3" /><line x1="574.50" y1="611.30" x2="574.50" y2="615.50" stroke="#222" stroke-width="1.3" /><line x1="581.15" y1="611.30" x2="581.15" y2="615.50" stroke="#222" stroke-width="1.3" /><line x1="587.80" y1="611.30" x2="587.80" y2="619.50" stroke="#222" stroke-width="1.3" /><line x1="594.45" y1="611.30" x2="594.45" y2="615.50" stroke="#222" stroke-width="1.3" /><line x1="601.10" y1="611.30" x2="601.10" y2="615.50" stroke="#222" stroke-width="1.3" /><line x1="607.75" y1="611.30" x2="607.75" y2="615.50" stroke="#222" stroke-width="1.3" /><line x1="614.40" y1="611.30" x2="614.40" y2="615.50" stroke="#222" stroke-width="1.3" /><line x1="621.05" y1="611.30" x2="621.05" y2="619.50" stroke="#222" stroke-width="1.3" /><line x1="627.70" y1="611.30" x2="627.70" y2="615.50" stroke="#222" stroke-width="1.3" /><line x1="634.35" y1="611.30" x2="634.35" y2="615.50" stroke="#222" stroke-width="1.3" /><line x1="641.00" y1="611.30" x2="641.00" y2="615.50" stroke="#222" stroke-width="1.3" /><line x1="647.65" y1="611.30" x2="647.65" y2="615.50" stroke="#222" stroke-width="1.3" /><line x1="654.30" y1="611.30" x2="654.30" y2="619.50" stroke="#222" stroke-width="1.3" /><line x1="660.95" y1="611.30" x2="660.95" y2="615.50" stroke="#222" stroke-width="1.3" /><line x1="667.60" y1="611.30" x2="667.60" y2="615.50" stroke="#222" stroke-width="1.3" /><line x1="674.25" y1="611.30" x2="674.25" y2="615.50" stroke="#222" stroke-width="1.3" /><line x1="680.90" y1="611.30" x2="680.90" y2="615.50" stroke="#222" stroke-width="1.3" /><line x1="687.55" y1="611.30" x2="687.55" y2="619.50" stroke="#222" stroke-width="1.3" /><line x1="694.20" y1="611.30" x2="694.20" y2="615.50" stroke="#222" stroke-width="1.3" /><line x1="700.85" y1="611.30" x2="700.85" y2="615.50" stroke="#222" stroke-width="1.3" /><line x1="707.50" y1="611.30" x2="707.50" y2="615.50" stroke="#222" stroke-width="1.3" /><line x1="714.15" y1="611.30" x2="714.15" y2="615.50" stroke="#222" stroke-width="1.3" /><line x1="720.80" y1="611.30" x2="720.80" y2="619.50" stroke="#222" stroke-width="1.3" /><line x1="727.45" y1="611.30" x2="727.45" y2="615.50" stroke="#222" stroke-width="1.3" /><line x1="734.10" y1="611.30" x2="734.10" y2="615.50" stroke="#222" stroke-width="1.3" /><line x1="740.75" y1="611.30" x2="740.75" y2="615.50" stroke="#222" stroke-width="1.3" /><line x1="747.40" y1="611.30" x2="747.40" y2="615.50" stroke="#222" stroke-width="1.3" /><line x1="754.05" y1="611.30" x2="754.05" y2="619.50" stroke="#222" stroke-width="1.3" /><line x1="760.70" y1="611.30" x2="760.70" y2="615.50" stroke="#222" stroke-width="1.3" /><line x1="767.35" y1="611.30" x2="767.35" y2="615.50" stroke="#222" stroke-width="1.3" /><line x1="774.00" y1="611.30" x2="774.00" y2="615.50" stroke="#222" stroke-width="1.3" /><line x1="780.65" y1="611.30" x2="780.65" y2="615.50" stroke="#222" stroke-width="1.3" /><line x1="787.30" y1="611.30" x2="787.30" y2="619.50" stroke="#222" stroke-width="1.3" /><line x1="793.95" y1="611.30" x2="793.95" y2="615.50" stroke="#222" stroke-width="1.3" /><line x1="800.60" y1="611.30" x2="800.60" y2="615.50" stroke="#222" stroke-width="1.3" /><line x1="807.25" y1="611.30" x2="807.25" y2="615.50" stroke="#222" stroke-width="1.3" /><line x1="813.90" y1="611.30" x2="813.90" y2="615.50" stroke="#222" stroke-width="1.3" /><line x1="820.55" y1="611.30" x2="820.55" y2="619.50" stroke="#222" stroke-width="1.3" /><line x1="827.20" y1="611.30" x2="827.20" y2="615.50" stroke="#222" stroke-width="1.3" /><line x1="833.85" y1="611.30" x2="833.85" y2="615.50" stroke="#222" stroke-width="1.3" /><line x1="840.50" y1="611.30" x2="840.50" y2="615.50" stroke="#222" stroke-width="1.3" /><line x1="847.15" y1="611.30" x2="847.15" y2="615.50" stroke="#222" stroke-width="1.3" /><line x1="853.80" y1="611.30" x2="853.80" y2="619.50" stroke="#222" stroke-width="1.3" /><line x1="860.45" y1="611.30" x2="860.45" y2="615.50" stroke="#222" stroke-width="1.3" /><line x1="867.10" y1="611.30" x2="867.10" y2="615.50" stroke="#222" stroke-width="1.3" /><line x1="873.75" y1="611.30" x2="873.75" y2="615.50" stroke="#222" stroke-width="1.3" /><line x1="880.40" y1="611.30" x2="880.40" y2="615.50" stroke="#222" stroke-width="1.3" /><line x1="887.05" y1="611.30" x2="887.05" y2="619.50" stroke="#222" stroke-width="1.3" /><line x1="893.70" y1="611.30" x2="893.70" y2="615.50" stroke="#222" stroke-width="1.3" /><line x1="900.35" y1="611.30" x2="900.35" y2="615.50" stroke="#222" stroke-width="1.3" /><line x1="907.00" y1="611.30" x2="907.00" y2="615.50" stroke="#222" stroke-width="1.3" /><line x1="913.65" y1="611.30" x2="913.65" y2="615.50" stroke="#222" stroke-width="1.3" /><line x1="920.30" y1="611.30" x2="920.30" y2="619.50" stroke="#222" stroke-width="1.3" /><line x1="926.95" y1="611.30" x2="926.95" y2="615.50" stroke="#222" stroke-width="1.3" /><line x1="933.60" y1="611.30" x2="933.60" y2="615.50" stroke="#222" stroke-width="1.3" /><line x1="940.25" y1="611.30" x2="940.25" y2="615.50" stroke="#222" stroke-width="1.3" /><line x1="946.90" y1="611.30" x2="946.90" y2="615.50" stroke="#222" stroke-width="1.3" /><line x1="953.55" y1="611.30" x2="953.55" y2="619.50" stroke="#222" stroke-width="1.3" /><line x1="960.20" y1="611.30" x2="960.20" y2="615.50" stroke="#222" stroke-width="1.3" /><line x1="966.85" y1="611.30" x2="966.85" y2="615.50" stroke="#222" stroke-width="1.3" /><line x1="973.50" y1="611.30" x2="973.50" y2="615.50" stroke="#222" stroke-width="1.3" /><line x1="980.15" y1="611.30" x2="980.15" y2="615.50" stroke="#222" stroke-width="1.3" /><line x1="986.80" y1="611.30" x2="986.80" y2="619.50" stroke="#222" stroke-width="1.3" /><line x1="993.45" y1="611.30" x2="993.45" y2="615.50" stroke="#222" stroke-width="1.3" /><line x1="1000.10" y1="611.30" x2="1000.10" y2="615.50" stroke="#222" stroke-width="1.3" /><line x1="1006.75" y1="611.30" x2="1006.75" y2="615.50" stroke="#222" stroke-width="1.3" /><line x1="1013.40" y1="611.30" x2="1013.40" y2="615.50" stroke="#222" stroke-width="1.3" /><line x1="1020.05" y1="611.30" x2="1020.05" y2="619.50" stroke="#222" stroke-width="1.3" /><line x1="1026.70" y1="611.30" x2="1026.70" y2="615.50" stroke="#222" stroke-width="1.3" /><line x1="1033.35" y1="611.30" x2="1033.35" y2="615.50" stroke="#222" stroke-width="1.3" /><line x1="1040.00" y1="611.30" x2="1040.00" y2="615.50" stroke="#222" stroke-width="1.3" /><line x1="1046.65" y1="611.30" x2="1046.65" y2="615.50" stroke="#222" stroke-width="1.3" /><line x1="1053.30" y1="611.30" x2="1053.30" y2="619.50" stroke="#222" stroke-width="1.3" /><line x1="1059.95" y1="611.30" x2="1059.95" y2="615.50" stroke="#222" stroke-width="1.3" /><line x1="1066.60" y1="611.30" x2="1066.60" y2="615.50" stroke="#222" stroke-width="1.3" /><line x1="1073.25" y1="611.30" x2="1073.25" y2="615.50" stroke="#222" stroke-width="1.3" /><line x1="1079.90" y1="611.30" x2="1079.90" y2="615.50" stroke="#222" stroke-width="1.3" /><line x1="1086.55" y1="611.30" x2="1086.55" y2="619.50" stroke="#222" stroke-width="1.3" /><line x1="1093.20" y1="611.30" x2="1093.20" y2="615.50" stroke="#222" stroke-width="1.3" /><line x1="1099.85" y1="611.30" x2="1099.85" y2="615.50" stroke="#222" stroke-width="1.3" /><line x1="1106.50" y1="611.30" x2="1106.50" y2="615.50" stroke="#222" stroke-width="1.3" /><line x1="1113.15" y1="611.30" x2="1113.15" y2="615.50" stroke="#222" stroke-width="1.3" /><line x1="1119.80" y1="611.30" x2="1119.80" y2="619.50" stroke="#222" stroke-width="1.3" /><line x1="1126.45" y1="611.30" x2="1126.45" y2="615.50" stroke="#222" stroke-width="1.3" /><line x1="1133.10" y1="611.30" x2="1133.10" y2="615.50" stroke="#222" stroke-width="1.3" /><line x1="1139.75" y1="611.30" x2="1139.75" y2="615.50" stroke="#222" stroke-width="1.3" /><line x1="1146.40" y1="611.30" x2="1146.40" y2="615.50" stroke="#222" stroke-width="1.3" /><line x1="1153.05" y1="611.30" x2="1153.05" y2="619.50" stroke="#222" stroke-width="1.3" /><line x1="1159.70" y1="611.30" x2="1159.70" y2="615.50" stroke="#222" stroke-width="1.3" /><line x1="1166.35" y1="611.30" x2="1166.35" y2="615.50" stroke="#222" stroke-width="1.3" /><line x1="1173.00" y1="611.30" x2="1173.00" y2="615.50" stroke="#222" stroke-width="1.3" /><line x1="1179.65" y1="611.30" x2="1179.65" y2="615.50" stroke="#222" stroke-width="1.3" /><line x1="1186.30" y1="611.30" x2="1186.30" y2="619.50" stroke="#222" stroke-width="1.3" /><line x1="1192.95" y1="611.30" x2="1192.95" y2="615.50" stroke="#222" stroke-width="1.3" /><line x1="1199.60" y1="611.30" x2="1199.60" y2="615.50" stroke="#222" stroke-width="1.3" /><line x1="1206.25" y1="611.30" x2="1206.25" y2="615.50" stroke="#222" stroke-width="1.3" /><line x1="1212.90" y1="611.30" x2="1212.90" y2="615.50" stroke="#222" stroke-width="1.3" /><line x1="1219.55" y1="611.30" x2="1219.55" y2="619.50" stroke="#222" stroke-width="1.3" /><line x1="1226.20" y1="611.30" x2="1226.20" y2="615.50" stroke="#222" stroke-width="1.3" /><line x1="1232.85" y1="611.30" x2="1232.85" y2="615.50" stroke="#222" stroke-width="1.3" /><line x1="1239.50" y1="611.30" x2="1239.50" y2="615.50" stroke="#222" stroke-width="1.3" /><line x1="1246.15" y1="611.30" x2="1246.15" y2="615.50" stroke="#222" stroke-width="1.3" /><line x1="1252.80" y1="611.30" x2="1252.80" y2="619.50" stroke="#222" stroke-width="1.3" /><line x1="1259.45" y1="611.30" x2="1259.45" y2="615.50" stroke="#222" stroke-width="1.3" /><line x1="1266.10" y1="611.30" x2="1266.10" y2="615.50" stroke="#222" stroke-width="1.3" /><line x1="1272.75" y1="611.30" x2="1272.75" y2="615.50" stroke="#222" stroke-width="1.3" /><line x1="1279.40" y1="611.30" x2="1279.40" y2="615.50" stroke="#222" stroke-width="1.3" /><line x1="1286.05" y1="611.30" x2="1286.05" y2="619.50" stroke="#222" stroke-width="1.3" /><line x1="1292.70" y1="611.30" x2="1292.70" y2="615.50" stroke="#222" stroke-width="1.3" /><line x1="1299.35" y1="611.30" x2="1299.35" y2="615.50" stroke="#222" stroke-width="1.3" /><line x1="1306.00" y1="611.30" x2="1306.00" y2="615.50" stroke="#222" stroke-width="1.3" /><line x1="1312.65" y1="611.30" x2="1312.65" y2="615.50" stroke="#222" stroke-width="1.3" /><line x1="1319.30" y1="611.30" x2="1319.30" y2="619.50" stroke="#222" stroke-width="1.3" /><line x1="1325.95" y1="611.30" x2="1325.95" y2="615.50" stroke="#222" stroke-width="1.3" /><line x1="1332.60" y1="611.30" x2="1332.60" y2="615.50" stroke="#222" stroke-width="1.3" /><line x1="1339.25" y1="611.30" x2="1339.25" y2="615.50" stroke="#222" stroke-width="1.3" /><line x1="1345.90" y1="611.30" x2="1345.90" y2="615.50" stroke="#222" stroke-width="1.3" /><line x1="1352.55" y1="611.30" x2="1352.55" y2="619.50" stroke="#222" stroke-width="1.3" /><line x1="1359.20" y1="611.30" x2="1359.20" y2="615.50" stroke="#222" stroke-width="1.3" /><line x1="1365.85" y1="611.30" x2="1365.85" y2="615.50" stroke="#222" stroke-width="1.3" /><line x1="1372.50" y1="611.30" x2="1372.50" y2="615.50" stroke="#222" stroke-width="1.3" /><line x1="1379.15" y1="611.30" x2="1379.15" y2="615.50" stroke="#222" stroke-width="1.3" /><line x1="1385.80" y1="611.30" x2="1385.80" y2="619.50" stroke="#222" stroke-width="1.3" /><line x1="1392.45" y1="611.30" x2="1392.45" y2="615.50" stroke="#222" stroke-width="1.3" /><line x1="1399.10" y1="611.30" x2="1399.10" y2="615.50" stroke="#222" stroke-width="1.3" /><line x1="1405.75" y1="611.30" x2="1405.75" y2="615.50" stroke="#222" stroke-width="1.3" /><line x1="1412.40" y1="611.30" x2="1412.40" y2="615.50" stroke="#222" stroke-width="1.3" /><line x1="1419.05" y1="611.30" x2="1419.05" y2="619.50" stroke="#222" stroke-width="1.3" /><line x1="1425.70" y1="611.30" x2="1425.70" y2="615.50" stroke="#222" stroke-width="1.3" /><line x1="1432.35" y1="611.30" x2="1432.35" y2="615.50" stroke="#222" stroke-width="1.3" /><line x1="1439.00" y1="611.30" x2="1439.00" y2="615.50" stroke="#222" stroke-width="1.3" /><line x1="1445.65" y1="611.30" x2="1445.65" y2="615.50" stroke="#222" stroke-width="1.3" /><line x1="1452.30" y1="611.30" x2="1452.30" y2="619.50" stroke="#222" stroke-width="1.3" /><line x1="73.60" y1="681.40" x2="73.60" y2="1044.40" stroke="#000000" stroke-width="2.6" /><line x1="73.60" y1="1043.20" x2="1458.00" y2="1043.20" stroke="#000000" stroke-width="2.6" /><line x1="67.10" y1="681.80" x2="73.60" y2="681.80" stroke="#000000" stroke-width="1.4" /><line x1="70.60" y1="717.91" x2="73.60" y2="717.91" stroke="#000000" stroke-width="1.4" /><line x1="70.60" y1="754.02" x2="73.60" y2="754.02" stroke="#000000" stroke-width="1.4" /><line x1="70.60" y1="790.13" x2="73.60" y2="790.13" stroke="#000000" stroke-width="1.4" /><line x1="70.60" y1="826.24" x2="73.60" y2="826.24" stroke="#000000" stroke-width="1.4" /><line x1="67.10" y1="862.35" x2="73.60" y2="862.35" stroke="#000000" stroke-width="1.4" /><line x1="70.60" y1="898.46" x2="73.60" y2="898.46" stroke="#000000" stroke-width="1.4" /><line x1="70.60" y1="934.57" x2="73.60" y2="934.57" stroke="#000000" stroke-width="1.4" /><line x1="70.60" y1="970.68" x2="73.60" y2="970.68" stroke="#000000" stroke-width="1.4" /><line x1="70.60" y1="1006.79" x2="73.60" y2="1006.79" stroke="#000000" stroke-width="1.4" /><line x1="67.10" y1="1042.90" x2="73.60" y2="1042.90" stroke="#000000" stroke-width="1.4" /><line x1="75.75" y1="1044.20" x2="75.75" y2="1048.40" stroke="#222" stroke-width="1.3" /><line x1="82.40" y1="1044.20" x2="82.40" y2="1048.40" stroke="#222" stroke-width="1.3" /><line x1="89.05" y1="1044.20" x2="89.05" y2="1052.40" stroke="#222" stroke-width="1.3" /><line x1="95.70" y1="1044.20" x2="95.70" y2="1048.40" stroke="#222" stroke-width="1.3" /><line x1="102.35" y1="1044.20" x2="102.35" y2="1048.40" stroke="#222" stroke-width="1.3" /><line x1="109.00" y1="1044.20" x2="109.00" y2="1048.40" stroke="#222" stroke-width="1.3" /><line x1="115.65" y1="1044.20" x2="115.65" y2="1048.40" stroke="#222" stroke-width="1.3" /><line x1="122.30" y1="1044.20" x2="122.30" y2="1052.40" stroke="#222" stroke-width="1.3" /><line x1="128.95" y1="1044.20" x2="128.95" y2="1048.40" stroke="#222" stroke-width="1.3" /><line x1="135.60" y1="1044.20" x2="135.60" y2="1048.40" stroke="#222" stroke-width="1.3" /><line x1="142.25" y1="1044.20" x2="142.25" y2="1048.40" stroke="#222" stroke-width="1.3" /><line x1="148.90" y1="1044.20" x2="148.90" y2="1048.40" stroke="#222" stroke-width="1.3" /><line x1="155.55" y1="1044.20" x2="155.55" y2="1052.40" stroke="#222" stroke-width="1.3" /><line x1="162.20" y1="1044.20" x2="162.20" y2="1048.40" stroke="#222" stroke-width="1.3" /><line x1="168.85" y1="1044.20" x2="168.85" y2="1048.40" stroke="#222" stroke-width="1.3" /><line x1="175.50" y1="1044.20" x2="175.50" y2="1048.40" stroke="#222" stroke-width="1.3" /><line x1="182.15" y1="1044.20" x2="182.15" y2="1048.40" stroke="#222" stroke-width="1.3" /><line x1="188.80" y1="1044.20" x2="188.80" y2="1052.40" stroke="#222" stroke-width="1.3" /><line x1="195.45" y1="1044.20" x2="195.45" y2="1048.40" stroke="#222" stroke-width="1.3" /><line x1="202.10" y1="1044.20" x2="202.10" y2="1048.40" stroke="#222" stroke-width="1.3" /><line x1="208.75" y1="1044.20" x2="208.75" y2="1048.40" stroke="#222" stroke-width="1.3" /><line x1="215.40" y1="1044.20" x2="215.40" y2="1048.40" stroke="#222" stroke-width="1.3" /><line x1="222.05" y1="1044.20" x2="222.05" y2="1052.40" stroke="#222" stroke-width="1.3" /><line x1="228.70" y1="1044.20" x2="228.70" y2="1048.40" stroke="#222" stroke-width="1.3" /><line x1="235.35" y1="1044.20" x2="235.35" y2="1048.40" stroke="#222" stroke-width="1.3" /><line x1="242.00" y1="1044.20" x2="242.00" y2="1048.40" stroke="#222" stroke-width="1.3" /><line x1="248.65" y1="1044.20" x2="248.65" y2="1048.40" stroke="#222" stroke-width="1.3" /><line x1="255.30" y1="1044.20" x2="255.30" y2="1052.40" stroke="#222" stroke-width="1.3" /><line x1="261.95" y1="1044.20" x2="261.95" y2="1048.40" stroke="#222" stroke-width="1.3" /><line x1="268.60" y1="1044.20" x2="268.60" y2="1048.40" stroke="#222" stroke-width="1.3" /><line x1="275.25" y1="1044.20" x2="275.25" y2="1048.40" stroke="#222" stroke-width="1.3" /><line x1="281.90" y1="1044.20" x2="281.90" y2="1048.40" stroke="#222" stroke-width="1.3" /><line x1="288.55" y1="1044.20" x2="288.55" y2="1052.40" stroke="#222" stroke-width="1.3" /><line x1="295.20" y1="1044.20" x2="295.20" y2="1048.40" stroke="#222" stroke-width="1.3" /><line x1="301.85" y1="1044.20" x2="301.85" y2="1048.40" stroke="#222" stroke-width="1.3" /><line x1="308.50" y1="1044.20" x2="308.50" y2="1048.40" stroke="#222" stroke-width="1.3" /><line x1="315.15" y1="1044.20" x2="315.15" y2="1048.40" stroke="#222" stroke-width="1.3" /><line x1="321.80" y1="1044.20" x2="321.80" y2="1052.40" stroke="#222" stroke-width="1.3" /><line x1="328.45" y1="1044.20" x2="328.45" y2="1048.40" stroke="#222" stroke-width="1.3" /><line x1="335.10" y1="1044.20" x2="335.10" y2="1048.40" stroke="#222" stroke-width="1.3" /><line x1="341.75" y1="1044.20" x2="341.75" y2="1048.40" stroke="#222" stroke-width="1.3" /><line x1="348.40" y1="1044.20" x2="348.40" y2="1048.40" stroke="#222" stroke-width="1.3" /><line x1="355.05" y1="1044.20" x2="355.05" y2="1052.40" stroke="#222" stroke-width="1.3" /><line x1="361.70" y1="1044.20" x2="361.70" y2="1048.40" stroke="#222" stroke-width="1.3" /><line x1="368.35" y1="1044.20" x2="368.35" y2="1048.40" stroke="#222" stroke-width="1.3" /><line x1="375.00" y1="1044.20" x2="375.00" y2="1048.40" stroke="#222" stroke-width="1.3" /><line x1="381.65" y1="1044.20" x2="381.65" y2="1048.40" stroke="#222" stroke-width="1.3" /><line x1="388.30" y1="1044.20" x2="388.30" y2="1052.40" stroke="#222" stroke-width="1.3" /><line x1="394.95" y1="1044.20" x2="394.95" y2="1048.40" stroke="#222" stroke-width="1.3" /><line x1="401.60" y1="1044.20" x2="401.60" y2="1048.40" stroke="#222" stroke-width="1.3" /><line x1="408.25" y1="1044.20" x2="408.25" y2="1048.40" stroke="#222" stroke-width="1.3" /><line x1="414.90" y1="1044.20" x2="414.90" y2="1048.40" stroke="#222" stroke-width="1.3" /><line x1="421.55" y1="1044.20" x2="421.55" y2="1052.40" stroke="#222" stroke-width="1.3" /><line x1="428.20" y1="1044.20" x2="428.20" y2="1048.40" stroke="#222" stroke-width="1.3" /><line x1="434.85" y1="1044.20" x2="434.85" y2="1048.40" stroke="#222" stroke-width="1.3" /><line x1="441.50" y1="1044.20" x2="441.50" y2="1048.40" stroke="#222" stroke-width="1.3" /><line x1="448.15" y1="1044.20" x2="448.15" y2="1048.40" stroke="#222" stroke-width="1.3" /><line x1="454.80" y1="1044.20" x2="454.80" y2="1052.40" stroke="#222" stroke-width="1.3" /><line x1="461.45" y1="1044.20" x2="461.45" y2="1048.40" stroke="#222" stroke-width="1.3" /><line x1="468.10" y1="1044.20" x2="468.10" y2="1048.40" stroke="#222" stroke-width="1.3" /><line x1="474.75" y1="1044.20" x2="474.75" y2="1048.40" stroke="#222" stroke-width="1.3" /><line x1="481.40" y1="1044.20" x2="481.40" y2="1048.40" stroke="#222" stroke-width="1.3" /><line x1="488.05" y1="1044.20" x2="488.05" y2="1052.40" stroke="#222" stroke-width="1.3" /><line x1="494.70" y1="1044.20" x2="494.70" y2="1048.40" stroke="#222" stroke-width="1.3" /><line x1="501.35" y1="1044.20" x2="501.35" y2="1048.40" stroke="#222" stroke-width="1.3" /><line x1="508.00" y1="1044.20" x2="508.00" y2="1048.40" stroke="#222" stroke-width="1.3" /><line x1="514.65" y1="1044.20" x2="514.65" y2="1048.40" stroke="#222" stroke-width="1.3" /><line x1="521.30" y1="1044.20" x2="521.30" y2="1052.40" stroke="#222" stroke-width="1.3" /><line x1="527.95" y1="1044.20" x2="527.95" y2="1048.40" stroke="#222" stroke-width="1.3" /><line x1="534.60" y1="1044.20" x2="534.60" y2="1048.40" stroke="#222" stroke-width="1.3" /><line x1="541.25" y1="1044.20" x2="541.25" y2="1048.40" stroke="#222" stroke-width="1.3" /><line x1="547.90" y1="1044.20" x2="547.90" y2="1048.40" stroke="#222" stroke-width="1.3" /><line x1="554.55" y1="1044.20" x2="554.55" y2="1052.40" stroke="#222" stroke-width="1.3" /><line x1="561.20" y1="1044.20" x2="561.20" y2="1048.40" stroke="#222" stroke-width="1.3" /><line x1="567.85" y1="1044.20" x2="567.85" y2="1048.40" stroke="#222" stroke-width="1.3" /><line x1="574.50" y1="1044.20" x2="574.50" y2="1048.40" stroke="#222" stroke-width="1.3" /><line x1="581.15" y1="1044.20" x2="581.15" y2="1048.40" stroke="#222" stroke-width="1.3" /><line x1="587.80" y1="1044.20" x2="587.80" y2="1052.40" stroke="#222" stroke-width="1.3" /><line x1="594.45" y1="1044.20" x2="594.45" y2="1048.40" stroke="#222" stroke-width="1.3" /><line x1="601.10" y1="1044.20" x2="601.10" y2="1048.40" stroke="#222" stroke-width="1.3" /><line x1="607.75" y1="1044.20" x2="607.75" y2="1048.40" stroke="#222" stroke-width="1.3" /><line x1="614.40" y1="1044.20" x2="614.40" y2="1048.40" stroke="#222" stroke-width="1.3" /><line x1="621.05" y1="1044.20" x2="621.05" y2="1052.40" stroke="#222" stroke-width="1.3" /><line x1="627.70" y1="1044.20" x2="627.70" y2="1048.40" stroke="#222" stroke-width="1.3" /><line x1="634.35" y1="1044.20" x2="634.35" y2="1048.40" stroke="#222" stroke-width="1.3" /><line x1="641.00" y1="1044.20" x2="641.00" y2="1048.40" stroke="#222" stroke-width="1.3" /><line x1="647.65" y1="1044.20" x2="647.65" y2="1048.40" stroke="#222" stroke-width="1.3" /><line x1="654.30" y1="1044.20" x2="654.30" y2="1052.40" stroke="#222" stroke-width="1.3" /><line x1="660.95" y1="1044.20" x2="660.95" y2="1048.40" stroke="#222" stroke-width="1.3" /><line x1="667.60" y1="1044.20" x2="667.60" y2="1048.40" stroke="#222" stroke-width="1.3" /><line x1="674.25" y1="1044.20" x2="674.25" y2="1048.40" stroke="#222" stroke-width="1.3" /><line x1="680.90" y1="1044.20" x2="680.90" y2="1048.40" stroke="#222" stroke-width="1.3" /><line x1="687.55" y1="1044.20" x2="687.55" y2="1052.40" stroke="#222" stroke-width="1.3" /><line x1="694.20" y1="1044.20" x2="694.20" y2="1048.40" stroke="#222" stroke-width="1.3" /><line x1="700.85" y1="1044.20" x2="700.85" y2="1048.40" stroke="#222" stroke-width="1.3" /><line x1="707.50" y1="1044.20" x2="707.50" y2="1048.40" stroke="#222" stroke-width="1.3" /><line x1="714.15" y1="1044.20" x2="714.15" y2="1048.40" stroke="#222" stroke-width="1.3" /><line x1="720.80" y1="1044.20" x2="720.80" y2="1052.40" stroke="#222" stroke-width="1.3" /><line x1="727.45" y1="1044.20" x2="727.45" y2="1048.40" stroke="#222" stroke-width="1.3" /><line x1="734.10" y1="1044.20" x2="734.10" y2="1048.40" stroke="#222" stroke-width="1.3" /><line x1="740.75" y1="1044.20" x2="740.75" y2="1048.40" stroke="#222" stroke-width="1.3" /><line x1="747.40" y1="1044.20" x2="747.40" y2="1048.40" stroke="#222" stroke-width="1.3" /><line x1="754.05" y1="1044.20" x2="754.05" y2="1052.40" stroke="#222" stroke-width="1.3" /><line x1="760.70" y1="1044.20" x2="760.70" y2="1048.40" stroke="#222" stroke-width="1.3" /><line x1="767.35" y1="1044.20" x2="767.35" y2="1048.40" stroke="#222" stroke-width="1.3" /><line x1="774.00" y1="1044.20" x2="774.00" y2="1048.40" stroke="#222" stroke-width="1.3" /><line x1="780.65" y1="1044.20" x2="780.65" y2="1048.40" stroke="#222" stroke-width="1.3" /><line x1="787.30" y1="1044.20" x2="787.30" y2="1052.40" stroke="#222" stroke-width="1.3" /><line x1="793.95" y1="1044.20" x2="793.95" y2="1048.40" stroke="#222" stroke-width="1.3" /><line x1="800.60" y1="1044.20" x2="800.60" y2="1048.40" stroke="#222" stroke-width="1.3" /><line x1="807.25" y1="1044.20" x2="807.25" y2="1048.40" stroke="#222" stroke-width="1.3" /><line x1="813.90" y1="1044.20" x2="813.90" y2="1048.40" stroke="#222" stroke-width="1.3" /><line x1="820.55" y1="1044.20" x2="820.55" y2="1052.40" stroke="#222" stroke-width="1.3" /><line x1="827.20" y1="1044.20" x2="827.20" y2="1048.40" stroke="#222" stroke-width="1.3" /><line x1="833.85" y1="1044.20" x2="833.85" y2="1048.40" stroke="#222" stroke-width="1.3" /><line x1="840.50" y1="1044.20" x2="840.50" y2="1048.40" stroke="#222" stroke-width="1.3" /><line x1="847.15" y1="1044.20" x2="847.15" y2="1048.40" stroke="#222" stroke-width="1.3" /><line x1="853.80" y1="1044.20" x2="853.80" y2="1052.40" stroke="#222" stroke-width="1.3" /><line x1="860.45" y1="1044.20" x2="860.45" y2="1048.40" stroke="#222" stroke-width="1.3" /><line x1="867.10" y1="1044.20" x2="867.10" y2="1048.40" stroke="#222" stroke-width="1.3" /><line x1="873.75" y1="1044.20" x2="873.75" y2="1048.40" stroke="#222" stroke-width="1.3" /><line x1="880.40" y1="1044.20" x2="880.40" y2="1048.40" stroke="#222" stroke-width="1.3" /><line x1="887.05" y1="1044.20" x2="887.05" y2="1052.40" stroke="#222" stroke-width="1.3" /><line x1="893.70" y1="1044.20" x2="893.70" y2="1048.40" stroke="#222" stroke-width="1.3" /><line x1="900.35" y1="1044.20" x2="900.35" y2="1048.40" stroke="#222" stroke-width="1.3" /><line x1="907.00" y1="1044.20" x2="907.00" y2="1048.40" stroke="#222" stroke-width="1.3" /><line x1="913.65" y1="1044.20" x2="913.65" y2="1048.40" stroke="#222" stroke-width="1.3" /><line x1="920.30" y1="1044.20" x2="920.30" y2="1052.40" stroke="#222" stroke-width="1.3" /><line x1="926.95" y1="1044.20" x2="926.95" y2="1048.40" stroke="#222" stroke-width="1.3" /><line x1="933.60" y1="1044.20" x2="933.60" y2="1048.40" stroke="#222" stroke-width="1.3" /><line x1="940.25" y1="1044.20" x2="940.25" y2="1048.40" stroke="#222" stroke-width="1.3" /><line x1="946.90" y1="1044.20" x2="946.90" y2="1048.40" stroke="#222" stroke-width="1.3" /><line x1="953.55" y1="1044.20" x2="953.55" y2="1052.40" stroke="#222" stroke-width="1.3" /><line x1="960.20" y1="1044.20" x2="960.20" y2="1048.40" stroke="#222" stroke-width="1.3" /><line x1="966.85" y1="1044.20" x2="966.85" y2="1048.40" stroke="#222" stroke-width="1.3" /><line x1="973.50" y1="1044.20" x2="973.50" y2="1048.40" stroke="#222" stroke-width="1.3" /><line x1="980.15" y1="1044.20" x2="980.15" y2="1048.40" stroke="#222" stroke-width="1.3" /><line x1="986.80" y1="1044.20" x2="986.80" y2="1052.40" stroke="#222" stroke-width="1.3" /><line x1="993.45" y1="1044.20" x2="993.45" y2="1048.40" stroke="#222" stroke-width="1.3" /><line x1="1000.10" y1="1044.20" x2="1000.10" y2="1048.40" stroke="#222" stroke-width="1.3" /><line x1="1006.75" y1="1044.20" x2="1006.75" y2="1048.40" stroke="#222" stroke-width="1.3" /><line x1="1013.40" y1="1044.20" x2="1013.40" y2="1048.40" stroke="#222" stroke-width="1.3" /><line x1="1020.05" y1="1044.20" x2="1020.05" y2="1052.40" stroke="#222" stroke-width="1.3" /><line x1="1026.70" y1="1044.20" x2="1026.70" y2="1048.40" stroke="#222" stroke-width="1.3" /><line x1="1033.35" y1="1044.20" x2="1033.35" y2="1048.40" stroke="#222" stroke-width="1.3" /><line x1="1040.00" y1="1044.20" x2="1040.00" y2="1048.40" stroke="#222" stroke-width="1.3" /><line x1="1046.65" y1="1044.20" x2="1046.65" y2="1048.40" stroke="#222" stroke-width="1.3" /><line x1="1053.30" y1="1044.20" x2="1053.30" y2="1052.40" stroke="#222" stroke-width="1.3" /><line x1="1059.95" y1="1044.20" x2="1059.95" y2="1048.40" stroke="#222" stroke-width="1.3" /><line x1="1066.60" y1="1044.20" x2="1066.60" y2="1048.40" stroke="#222" stroke-width="1.3" /><line x1="1073.25" y1="1044.20" x2="1073.25" y2="1048.40" stroke="#222" stroke-width="1.3" /><line x1="1079.90" y1="1044.20" x2="1079.90" y2="1048.40" stroke="#222" stroke-width="1.3" /><line x1="1086.55" y1="1044.20" x2="1086.55" y2="1052.40" stroke="#222" stroke-width="1.3" /><line x1="1093.20" y1="1044.20" x2="1093.20" y2="1048.40" stroke="#222" stroke-width="1.3" /><line x1="1099.85" y1="1044.20" x2="1099.85" y2="1048.40" stroke="#222" stroke-width="1.3" /><line x1="1106.50" y1="1044.20" x2="1106.50" y2="1048.40" stroke="#222" stroke-width="1.3" /><line x1="1113.15" y1="1044.20" x2="1113.15" y2="1048.40" stroke="#222" stroke-width="1.3" /><line x1="1119.80" y1="1044.20" x2="1119.80" y2="1052.40" stroke="#222" stroke-width="1.3" /><line x1="1126.45" y1="1044.20" x2="1126.45" y2="1048.40" stroke="#222" stroke-width="1.3" /><line x1="1133.10" y1="1044.20" x2="1133.10" y2="1048.40" stroke="#222" stroke-width="1.3" /><line x1="1139.75" y1="1044.20" x2="1139.75" y2="1048.40" stroke="#222" stroke-width="1.3" /><line x1="1146.40" y1="1044.20" x2="1146.40" y2="1048.40" stroke="#222" stroke-width="1.3" /><line x1="1153.05" y1="1044.20" x2="1153.05" y2="1052.40" stroke="#222" stroke-width="1.3" /><line x1="1159.70" y1="1044.20" x2="1159.70" y2="1048.40" stroke="#222" stroke-width="1.3" /><line x1="1166.35" y1="1044.20" x2="1166.35" y2="1048.40" stroke="#222" stroke-width="1.3" /><line x1="1173.00" y1="1044.20" x2="1173.00" y2="1048.40" stroke="#222" stroke-width="1.3" /><line x1="1179.65" y1="1044.20" x2="1179.65" y2="1048.40" stroke="#222" stroke-width="1.3" /><line x1="1186.30" y1="1044.20" x2="1186.30" y2="1052.40" stroke="#222" stroke-width="1.3" /><line x1="1192.95" y1="1044.20" x2="1192.95" y2="1048.40" stroke="#222" stroke-width="1.3" /><line x1="1199.60" y1="1044.20" x2="1199.60" y2="1048.40" stroke="#222" stroke-width="1.3" /><line x1="1206.25" y1="1044.20" x2="1206.25" y2="1048.40" stroke="#222" stroke-width="1.3" /><line x1="1212.90" y1="1044.20" x2="1212.90" y2="1048.40" stroke="#222" stroke-width="1.3" /><line x1="1219.55" y1="1044.20" x2="1219.55" y2="1052.40" stroke="#222" stroke-width="1.3" /><line x1="1226.20" y1="1044.20" x2="1226.20" y2="1048.40" stroke="#222" stroke-width="1.3" /><line x1="1232.85" y1="1044.20" x2="1232.85" y2="1048.40" stroke="#222" stroke-width="1.3" /><line x1="1239.50" y1="1044.20" x2="1239.50" y2="1048.40" stroke="#222" stroke-width="1.3" /><line x1="1246.15" y1="1044.20" x2="1246.15" y2="1048.40" stroke="#222" stroke-width="1.3" /><line x1="1252.80" y1="1044.20" x2="1252.80" y2="1052.40" stroke="#222" stroke-width="1.3" /><line x1="1259.45" y1="1044.20" x2="1259.45" y2="1048.40" stroke="#222" stroke-width="1.3" /><line x1="1266.10" y1="1044.20" x2="1266.10" y2="1048.40" stroke="#222" stroke-width="1.3" /><line x1="1272.75" y1="1044.20" x2="1272.75" y2="1048.40" stroke="#222" stroke-width="1.3" /><line x1="1279.40" y1="1044.20" x2="1279.40" y2="1048.40" stroke="#222" stroke-width="1.3" /><line x1="1286.05" y1="1044.20" x2="1286.05" y2="1052.40" stroke="#222" stroke-width="1.3" /><line x1="1292.70" y1="1044.20" x2="1292.70" y2="1048.40" stroke="#222" stroke-width="1.3" /><line x1="1299.35" y1="1044.20" x2="1299.35" y2="1048.40" stroke="#222" stroke-width="1.3" /><line x1="1306.00" y1="1044.20" x2="1306.00" y2="1048.40" stroke="#222" stroke-width="1.3" /><line x1="1312.65" y1="1044.20" x2="1312.65" y2="1048.40" stroke="#222" stroke-width="1.3" /><line x1="1319.30" y1="1044.20" x2="1319.30" y2="1052.40" stroke="#222" stroke-width="1.3" /><line x1="1325.95" y1="1044.20" x2="1325.95" y2="1048.40" stroke="#222" stroke-width="1.3" /><line x1="1332.60" y1="1044.20" x2="1332.60" y2="1048.40" stroke="#222" stroke-width="1.3" /><line x1="1339.25" y1="1044.20" x2="1339.25" y2="1048.40" stroke="#222" stroke-width="1.3" /><line x1="1345.90" y1="1044.20" x2="1345.90" y2="1048.40" stroke="#222" stroke-width="1.3" /><line x1="1352.55" y1="1044.20" x2="1352.55" y2="1052.40" stroke="#222" stroke-width="1.3" /><line x1="1359.20" y1="1044.20" x2="1359.20" y2="1048.40" stroke="#222" stroke-width="1.3" /><line x1="1365.85" y1="1044.20" x2="1365.85" y2="1048.40" stroke="#222" stroke-width="1.3" /><line x1="1372.50" y1="1044.20" x2="1372.50" y2="1048.40" stroke="#222" stroke-width="1.3" /><line x1="1379.15" y1="1044.20" x2="1379.15" y2="1048.40" stroke="#222" stroke-width="1.3" /><line x1="1385.80" y1="1044.20" x2="1385.80" y2="1052.40" stroke="#222" stroke-width="1.3" /><line x1="1392.45" y1="1044.20" x2="1392.45" y2="1048.40" stroke="#222" stroke-width="1.3" /><line x1="1399.10" y1="1044.20" x2="1399.10" y2="1048.40" stroke="#222" stroke-width="1.3" /><line x1="1405.75" y1="1044.20" x2="1405.75" y2="1048.40" stroke="#222" stroke-width="1.3" /><line x1="1412.40" y1="1044.20" x2="1412.40" y2="1048.40" stroke="#222" stroke-width="1.3" /><line x1="1419.05" y1="1044.20" x2="1419.05" y2="1052.40" stroke="#222" stroke-width="1.3" /><line x1="1425.70" y1="1044.20" x2="1425.70" y2="1048.40" stroke="#222" stroke-width="1.3" /><line x1="1432.35" y1="1044.20" x2="1432.35" y2="1048.40" stroke="#222" stroke-width="1.3" /><line x1="1439.00" y1="1044.20" x2="1439.00" y2="1048.40" stroke="#222" stroke-width="1.3" /><line x1="1445.65" y1="1044.20" x2="1445.65" y2="1048.40" stroke="#222" stroke-width="1.3" /><line x1="1452.30" y1="1044.20" x2="1452.30" y2="1052.40" stroke="#222" stroke-width="1.3" /><path d="M862.55,438.15 C864.00,434.05 865.94,434.05 867.40,436.10 S870.79,438.15 872.25,434.05" fill="none" stroke="#ff0000" stroke-width="1.5" stroke-linecap="round"/><path d="M984.05,421.25 C985.50,417.15 987.44,417.15 988.90,419.20 S992.29,421.25 993.75,417.15" fill="none" stroke="#ff0000" stroke-width="1.5" stroke-linecap="round"/><path d="M1205.35,244.05 C1206.87,239.75 1208.88,239.75 1210.40,241.90 S1213.93,244.05 1215.45,239.75" fill="none" stroke="#ff0000" stroke-width="1.5" stroke-linecap="round"/><line x1="149.50" y1="634.50" x2="149.50" y2="808.50" stroke="#444" stroke-width="1.1" stroke-dasharray="6.4 4.9"/><rect x="38.1" y="856.8" width="8.4" height="9.7" fill="#ff0000"/><line x1="1406.40" y1="534.30" x2="1350.50" y2="572.00" stroke="#000000" stroke-width="1.6" /><path d="M1341.8,578.1 L1348.6,567.2 L1355.3,576.8 Z" fill="#000"/><line x1="784.40" y1="754.50" x2="784.40" y2="890.00" stroke="#000000" stroke-width="1.6" /><path d="M784.4,900.2 L779.0,886.8 L790.0,886.8 Z" fill="#000"/></g><path d="M84.2,42.6 H131.5 V158.8 H179.6" fill="none" stroke="#35551f" stroke-width="6.1" stroke-linejoin="miter"/><path d="M96.7,33.8 L81.2,42.6 L96.7,51.4" fill="none" stroke="#35551f" stroke-width="6.1" stroke-linecap="round" stroke-linejoin="miter" stroke-miterlimit="10"/><path d="M167.1,150.0 L182.6,158.8 L167.1,167.6" fill="none" stroke="#35551f" stroke-width="6.1" stroke-linecap="round" stroke-linejoin="miter" stroke-miterlimit="10"/><path d="M768.0,40.2 H816.0 V156.5 H864.1" fill="none" stroke="#35551f" stroke-width="6.1" stroke-linejoin="miter"/><path d="M780.5,31.4 L765.0,40.2 L780.5,49.0" fill="none" stroke="#35551f" stroke-width="6.1" stroke-linecap="round" stroke-linejoin="miter" stroke-miterlimit="10"/><path d="M851.6,147.7 L867.1,156.5 L851.6,165.3" fill="none" stroke="#35551f" stroke-width="6.1" stroke-linecap="round" stroke-linejoin="miter" stroke-miterlimit="10"/><g><text x="7.05" y="44.25" font-size="44.71" font-weight="bold" font-style="normal" fill="#000000" textLength="30.09" lengthAdjust="spacingAndGlyphs">A</text><text x="697.83" y="43.80" font-size="43.62" font-weight="bold" font-style="normal" fill="#000000" textLength="29.60" lengthAdjust="spacingAndGlyphs">B</text><text x="55.14" y="89.60" font-size="30.70" font-weight="normal" font-style="normal" fill="#000000" textLength="71.31" lengthAdjust="spacingAndGlyphs">pGlu</text><text x="126.76" y="89.60" font-size="30.70" font-weight="normal" font-style="normal" fill="#000000" textLength="11.99" lengthAdjust="spacingAndGlyphs">-</text><text x="138.01" y="89.60" font-size="30.70" font-weight="normal" font-style="normal" fill="#000000" textLength="62.28" lengthAdjust="spacingAndGlyphs">Leu-</text><text x="200.99" y="89.60" font-size="30.70" font-weight="normal" font-style="normal" fill="#000000" textLength="64.83" lengthAdjust="spacingAndGlyphs">Thr-</text><text x="264.32" y="89.60" font-size="30.70" font-weight="normal" font-style="normal" fill="#000000" textLength="65.49" lengthAdjust="spacingAndGlyphs">Phe-</text><text x="330.31" y="89.60" font-size="30.70" font-weight="normal" font-style="normal" fill="#000000" textLength="63.18" lengthAdjust="spacingAndGlyphs">Thr-</text><text x="392.85" y="89.60" font-size="30.70" font-weight="normal" font-style="normal" fill="#000000" textLength="58.68" lengthAdjust="spacingAndGlyphs">Ser-</text><text x="450.96" y="89.60" font-size="30.70" font-weight="normal" font-style="normal" fill="#000000" textLength="58.26" lengthAdjust="spacingAndGlyphs">Ser-</text><text x="509.53" y="89.60" font-size="30.70" font-weight="normal" font-style="normal" fill="#000000" textLength="48.90" lengthAdjust="spacingAndGlyphs">Trp</text><text x="558.93" y="89.60" font-size="30.70" font-weight="normal" font-style="normal" fill="#000000" textLength="12.26" lengthAdjust="spacingAndGlyphs">-</text><text x="570.76" y="89.60" font-size="30.70" font-weight="normal" font-style="normal" fill="#000000" textLength="60.16" lengthAdjust="spacingAndGlyphs">Gly-</text><text x="629.14" y="89.60" font-size="30.70" font-weight="normal" font-style="normal" fill="#000000" textLength="49.76" lengthAdjust="spacingAndGlyphs">NH</text><text x="677.52" y="97.60" font-size="21.43" font-weight="normal" font-style="normal" fill="#000000" textLength="13.18" lengthAdjust="spacingAndGlyphs">2</text><text x="97.11" y="134.00" font-size="29.80" font-weight="normal" font-style="normal" fill="#000000" textLength="16.58" lengthAdjust="spacingAndGlyphs">1</text><text x="158.66" y="134.00" font-size="29.80" font-weight="normal" font-style="normal" fill="#000000" textLength="16.58" lengthAdjust="spacingAndGlyphs">2</text><text x="227.81" y="134.00" font-size="29.80" font-weight="normal" font-style="normal" fill="#000000" textLength="16.58" lengthAdjust="spacingAndGlyphs">3</text><text x="289.41" y="134.00" font-size="29.80" font-weight="normal" font-style="normal" fill="#000000" textLength="16.58" lengthAdjust="spacingAndGlyphs">4</text><text x="350.81" y="134.00" font-size="29.80" font-weight="normal" font-style="normal" fill="#000000" textLength="16.58" lengthAdjust="spacingAndGlyphs">5</text><text x="411.26" y="134.00" font-size="29.80" font-weight="normal" font-style="normal" fill="#000000" textLength="16.58" lengthAdjust="spacingAndGlyphs">6</text><text x="472.66" y="134.00" font-size="29.80" font-weight="normal" font-style="normal" fill="#000000" textLength="16.58" lengthAdjust="spacingAndGlyphs">7</text><text x="524.80" y="134.00" font-size="29.80" font-weight="normal" font-style="normal" fill="#000000" textLength="16.58" lengthAdjust="spacingAndGlyphs">8</text><text x="586.16" y="134.00" font-size="29.80" font-weight="normal" font-style="normal" fill="#000000" textLength="16.58" lengthAdjust="spacingAndGlyphs">9</text><text x="739.34" y="88.00" font-size="30.70" font-weight="normal" font-style="normal" fill="#000000" textLength="71.09" lengthAdjust="spacingAndGlyphs">pGlu</text><text x="811.69" y="88.00" font-size="30.70" font-weight="normal" font-style="normal" fill="#000000" textLength="10.93" lengthAdjust="spacingAndGlyphs">-</text><text x="821.99" y="88.00" font-size="30.70" font-weight="normal" font-style="normal" fill="#000000" textLength="65.37" lengthAdjust="spacingAndGlyphs">Leu-</text><text x="887.88" y="88.00" font-size="30.70" font-weight="normal" font-style="normal" fill="#000000" textLength="65.66" lengthAdjust="spacingAndGlyphs">Thr-</text><text x="951.98" y="88.00" font-size="30.70" font-weight="normal" font-style="normal" fill="#000000" textLength="63.79" lengthAdjust="spacingAndGlyphs">Phe-</text><text x="1016.34" y="88.00" font-size="30.70" font-weight="normal" font-style="normal" fill="#000000" textLength="60.79" lengthAdjust="spacingAndGlyphs">Thr-</text><text x="1076.63" y="88.00" font-size="30.70" font-weight="normal" font-style="normal" fill="#000000" textLength="59.21" lengthAdjust="spacingAndGlyphs">Ser-</text><text x="1135.26" y="88.00" font-size="30.70" font-weight="normal" font-style="normal" fill="#000000" textLength="58.26" lengthAdjust="spacingAndGlyphs">Ser-</text><text x="1193.81" y="88.00" font-size="30.70" font-weight="normal" font-style="normal" fill="#000000" textLength="62.29" lengthAdjust="spacingAndGlyphs">Trp-</text><text x="1255.36" y="88.00" font-size="30.70" font-weight="normal" font-style="normal" fill="#000000" textLength="60.05" lengthAdjust="spacingAndGlyphs">Gly-</text><text x="1314.79" y="88.00" font-size="30.70" font-weight="normal" font-style="normal" fill="#000000" textLength="48.21" lengthAdjust="spacingAndGlyphs">Gly</text><text x="1363.53" y="88.00" font-size="30.70" font-weight="normal" font-style="normal" fill="#000000" textLength="12.26" lengthAdjust="spacingAndGlyphs">-</text><text x="1375.06" y="88.00" font-size="30.70" font-weight="normal" font-style="normal" fill="#000000" textLength="44.38" lengthAdjust="spacingAndGlyphs">Lys</text><text x="774.01" y="133.00" font-size="29.80" font-weight="normal" font-style="normal" fill="#000000" textLength="16.58" lengthAdjust="spacingAndGlyphs">1</text><text x="836.16" y="133.00" font-size="29.80" font-weight="normal" font-style="normal" fill="#000000" textLength="16.58" lengthAdjust="spacingAndGlyphs">2</text><text x="905.20" y="133.00" font-size="29.80" font-weight="normal" font-style="normal" fill="#000000" textLength="16.58" lengthAdjust="spacingAndGlyphs">3</text><text x="973.80" y="133.00" font-size="29.80" font-weight="normal" font-style="normal" fill="#000000" textLength="16.58" lengthAdjust="spacingAndGlyphs">4</text><text x="1035.81" y="133.00" font-size="29.80" font-weight="normal" font-style="normal" fill="#000000" textLength="16.58" lengthAdjust="spacingAndGlyphs">5</text><text x="1096.06" y="133.00" font-size="29.80" font-weight="normal" font-style="normal" fill="#000000" textLength="16.58" lengthAdjust="spacingAndGlyphs">6</text><text x="1157.26" y="133.00" font-size="29.80" font-weight="normal" font-style="normal" fill="#000000" textLength="16.58" lengthAdjust="spacingAndGlyphs">7</text><text x="1209.81" y="133.00" font-size="29.80" font-weight="normal" font-style="normal" fill="#000000" textLength="16.58" lengthAdjust="spacingAndGlyphs">8</text><text x="1278.36" y="133.00" font-size="29.80" font-weight="normal" font-style="normal" fill="#000000" textLength="16.58" lengthAdjust="spacingAndGlyphs">9</text><text x="1324.46" y="133.00" font-size="29.80" font-weight="normal" font-style="normal" fill="#000000" textLength="33.15" lengthAdjust="spacingAndGlyphs">10</text><text x="1388.36" y="133.00" font-size="29.80" font-weight="normal" font-style="normal" fill="#000000" textLength="30.94" lengthAdjust="spacingAndGlyphs">11</text><text x="138.33" y="46.60" font-size="31.37" font-weight="bold" font-style="normal" fill="#35551f" textLength="18.94" lengthAdjust="spacingAndGlyphs">b</text><text x="157.39" y="53.70" font-size="21.74" font-weight="bold" font-style="normal" fill="#35551f" textLength="12.19" lengthAdjust="spacingAndGlyphs">1</text><text x="67.68" y="165.77" font-size="29.67" font-weight="bold" font-style="normal" fill="#35551f" textLength="32.54" lengthAdjust="spacingAndGlyphs">y&quot;</text><text x="101.23" y="172.79" font-size="21.13" font-weight="bold" font-style="normal" fill="#35551f" textLength="12.35" lengthAdjust="spacingAndGlyphs">8</text><text x="576.63" y="47.40" font-size="33.29" font-weight="bold" font-style="normal" fill="#35551f" textLength="18.08" lengthAdjust="spacingAndGlyphs">b</text><text x="596.05" y="53.60" font-size="20.42" font-weight="bold" font-style="normal" fill="#35551f" textLength="12.01" lengthAdjust="spacingAndGlyphs">8</text><text x="626.19" y="165.98" font-size="32.00" font-weight="bold" font-style="normal" fill="#35551f" textLength="32.21" lengthAdjust="spacingAndGlyphs">y&quot;</text><text x="659.44" y="173.60" font-size="22.17" font-weight="bold" font-style="normal" fill="#35551f" textLength="11.72" lengthAdjust="spacingAndGlyphs">1</text><text x="822.44" y="44.70" font-size="30.82" font-weight="bold" font-style="normal" fill="#35551f" textLength="18.82" lengthAdjust="spacingAndGlyphs">b</text><text x="842.34" y="52.90" font-size="21.01" font-weight="bold" font-style="normal" fill="#35551f" textLength="11.72" lengthAdjust="spacingAndGlyphs">1</text><text x="751.28" y="164.66" font-size="34.00" font-weight="bold" font-style="normal" fill="#35551f" textLength="33.30" lengthAdjust="spacingAndGlyphs">y&quot;</text><text x="785.46" y="173.38" font-size="21.55" font-weight="bold" font-style="normal" fill="#35551f" textLength="24.78" lengthAdjust="spacingAndGlyphs">10</text><text x="1380.94" y="44.70" font-size="30.82" font-weight="bold" font-style="normal" fill="#35551f" textLength="18.82" lengthAdjust="spacingAndGlyphs">b</text><text x="1400.66" y="52.70" font-size="20.42" font-weight="bold" font-style="normal" fill="#35551f" textLength="24.89" lengthAdjust="spacingAndGlyphs">10</text><text x="1428.68" y="164.66" font-size="34.00" font-weight="bold" font-style="normal" fill="#35551f" textLength="33.30" lengthAdjust="spacingAndGlyphs">y&quot;</text><text x="1463.05" y="173.60" font-size="22.17" font-weight="bold" font-style="normal" fill="#35551f" textLength="10.65" lengthAdjust="spacingAndGlyphs">1</text><text x="80.02" y="282.13" font-size="43.24" font-weight="bold" font-style="normal" fill="#000000" textLength="30.75" lengthAdjust="spacingAndGlyphs">A</text><text x="76.68" y="326.39" font-size="30.86" font-weight="normal" font-style="normal" fill="#000000" textLength="176.87" lengthAdjust="spacingAndGlyphs">Manse-AKH</text><text x="1369.03" y="242.20" font-size="29.73" font-weight="normal" font-style="normal" fill="#000000" textLength="113.64" lengthAdjust="spacingAndGlyphs">MS/MS</text><text x="1375.04" y="286.80" font-size="30.50" font-weight="normal" font-style="normal" fill="#000000" textLength="94.58" lengthAdjust="spacingAndGlyphs">[M+H]</text><text x="1471.01" y="275.74" font-size="14.90" font-weight="normal" font-style="normal" fill="#000000" textLength="11.56" lengthAdjust="spacingAndGlyphs">+</text><text x="1296.77" y="331.90" font-size="30.50" font-weight="normal" font-style="italic" fill="#000000" textLength="59.14" lengthAdjust="spacingAndGlyphs">m/z</text><text x="1362.43" y="331.60" font-size="29.72" font-weight="normal" font-style="normal" fill="#000000" textLength="120.56" lengthAdjust="spacingAndGlyphs">1008.48</text><text x="1380.95" y="375.88" font-size="31.69" font-weight="normal" font-style="normal" fill="#000000" textLength="101.00" lengthAdjust="spacingAndGlyphs">2.23e4</text><text x="143.17" y="573.40" font-size="31.64" font-weight="normal" font-style="normal" fill="#ff0000" textLength="7.73" lengthAdjust="spacingAndGlyphs">i</text><text x="152.00" y="581.00" font-size="21.74" font-weight="normal" font-style="normal" fill="#ff0000" textLength="10.72" lengthAdjust="spacingAndGlyphs">F</text><text x="187.74" y="578.00" font-size="31.51" font-weight="normal" font-style="normal" fill="#ff0000" textLength="7.70" lengthAdjust="spacingAndGlyphs">i</text><text x="196.58" y="585.70" font-size="22.17" font-weight="normal" font-style="normal" fill="#ff0000" textLength="21.01" lengthAdjust="spacingAndGlyphs">W</text><text x="539.80" y="546.34" font-size="33.15" font-weight="normal" font-style="normal" fill="#000000" textLength="32.91" lengthAdjust="spacingAndGlyphs">y”</text><text x="573.03" y="555.63" font-size="22.65" font-weight="normal" font-style="normal" fill="#000000" textLength="12.98" lengthAdjust="spacingAndGlyphs">4</text><text x="600.93" y="567.30" font-size="32.60" font-weight="normal" font-style="normal" fill="#ff0000" textLength="21.24" lengthAdjust="spacingAndGlyphs">b</text><text x="621.36" y="575.22" font-size="21.62" font-weight="normal" font-style="normal" fill="#ff0000" textLength="12.22" lengthAdjust="spacingAndGlyphs">4</text><text x="681.40" y="535.67" font-size="33.93" font-weight="normal" font-style="normal" fill="#000000" textLength="32.91" lengthAdjust="spacingAndGlyphs">y”</text><text x="714.10" y="543.99" font-size="21.14" font-weight="normal" font-style="normal" fill="#000000" textLength="12.55" lengthAdjust="spacingAndGlyphs">5</text><text x="742.49" y="409.90" font-size="32.05" font-weight="normal" font-style="normal" fill="#ff0000" textLength="19.97" lengthAdjust="spacingAndGlyphs">b</text><text x="762.72" y="418.07" font-size="22.71" font-weight="normal" font-style="normal" fill="#ff0000" textLength="12.19" lengthAdjust="spacingAndGlyphs">5</text><text x="828.49" y="457.60" font-size="32.05" font-weight="normal" font-style="normal" fill="#ff0000" textLength="19.97" lengthAdjust="spacingAndGlyphs">b</text><text x="848.48" y="465.78" font-size="22.39" font-weight="normal" font-style="normal" fill="#ff0000" textLength="12.46" lengthAdjust="spacingAndGlyphs">6</text><text x="949.87" y="440.70" font-size="31.92" font-weight="normal" font-style="normal" fill="#ff0000" textLength="20.10" lengthAdjust="spacingAndGlyphs">b</text><text x="970.08" y="449.42" font-size="22.06" font-weight="normal" font-style="normal" fill="#ff0000" textLength="11.37" lengthAdjust="spacingAndGlyphs">7</text><text x="1170.69" y="263.40" font-size="32.47" font-weight="normal" font-style="normal" fill="#ff0000" textLength="19.97" lengthAdjust="spacingAndGlyphs">b</text><text x="1190.81" y="271.40" font-size="19.72" font-weight="normal" font-style="normal" fill="#ff0000" textLength="13.73" lengthAdjust="spacingAndGlyphs">8</text><text x="1293.55" y="476.30" font-size="33.29" font-weight="normal" font-style="normal" fill="#ff0000" textLength="18.71" lengthAdjust="spacingAndGlyphs">b</text><text x="1312.85" y="483.88" font-size="21.69" font-weight="normal" font-style="normal" fill="#ff0000" textLength="12.82" lengthAdjust="spacingAndGlyphs">9</text><text x="1371.84" y="528.09" font-size="32.45" font-weight="normal" font-style="normal" fill="#000000" textLength="94.80" lengthAdjust="spacingAndGlyphs">[M+H]</text><text x="1466.69" y="518.07" font-size="20.82" font-weight="normal" font-style="normal" fill="#000000" textLength="13.02" lengthAdjust="spacingAndGlyphs">+</text><text x="75.15" y="711.70" font-size="42.46" font-weight="bold" font-style="normal" fill="#000000" textLength="29.36" lengthAdjust="spacingAndGlyphs">B</text><text x="330.48" y="709.68" font-size="31.71" font-weight="normal" font-style="normal" fill="#000000" textLength="165.71" lengthAdjust="spacingAndGlyphs">Vanca-AKH</text><text x="1374.34" y="699.40" font-size="29.73" font-weight="normal" font-style="normal" fill="#000000" textLength="112.91" lengthAdjust="spacingAndGlyphs">MS/MS</text><text x="1349.08" y="743.80" font-size="30.50" font-weight="normal" font-style="normal" fill="#000000" textLength="112.59" lengthAdjust="spacingAndGlyphs">[M+2H]</text><text x="1462.54" y="732.40" font-size="17.71" font-weight="normal" font-style="normal" fill="#000000" textLength="24.12" lengthAdjust="spacingAndGlyphs">2+</text><text x="1319.89" y="788.90" font-size="30.50" font-weight="normal" font-style="italic" fill="#000000" textLength="57.10" lengthAdjust="spacingAndGlyphs">m/z</text><text x="1385.47" y="788.60" font-size="29.86" font-weight="normal" font-style="normal" fill="#000000" textLength="101.75" lengthAdjust="spacingAndGlyphs">597.79</text><text x="1385.47" y="832.69" font-size="31.13" font-weight="normal" font-style="normal" fill="#000000" textLength="101.75" lengthAdjust="spacingAndGlyphs">5.15e3</text><text x="169.30" y="938.78" font-size="34.38" font-weight="normal" font-style="normal" fill="#ff0000" textLength="32.39" lengthAdjust="spacingAndGlyphs">y”</text><text x="201.84" y="947.70" font-size="22.75" font-weight="normal" font-style="normal" fill="#ff0000" textLength="12.94" lengthAdjust="spacingAndGlyphs">1</text><text x="318.40" y="938.99" font-size="34.83" font-weight="normal" font-style="normal" fill="#ff0000" textLength="32.49" lengthAdjust="spacingAndGlyphs">y”</text><text x="351.82" y="947.77" font-size="22.54" font-weight="normal" font-style="normal" fill="#ff0000" textLength="12.19" lengthAdjust="spacingAndGlyphs">3</text><text x="275.91" y="994.80" font-size="32.60" font-weight="normal" font-style="normal" fill="#000000" textLength="15.04" lengthAdjust="spacingAndGlyphs">b</text><text x="294.47" y="1003.00" font-size="20.14" font-weight="normal" font-style="normal" fill="#000000" textLength="12.58" lengthAdjust="spacingAndGlyphs">2</text><text x="415.17" y="937.60" font-size="32.47" font-weight="normal" font-style="normal" fill="#000000" textLength="19.34" lengthAdjust="spacingAndGlyphs">b</text><text x="434.81" y="945.10" font-size="19.58" font-weight="normal" font-style="normal" fill="#000000" textLength="12.31" lengthAdjust="spacingAndGlyphs">3</text><text x="563.20" y="966.31" font-size="32.81" font-weight="normal" font-style="normal" fill="#ff0000" textLength="32.08" lengthAdjust="spacingAndGlyphs">y”</text><text x="596.76" y="975.83" font-size="23.24" font-weight="normal" font-style="normal" fill="#ff0000" textLength="12.11" lengthAdjust="spacingAndGlyphs">4</text><text x="687.20" y="924.04" font-size="33.15" font-weight="normal" font-style="normal" fill="#ff0000" textLength="30.51" lengthAdjust="spacingAndGlyphs">y”</text><text x="719.60" y="931.29" font-size="20.71" font-weight="normal" font-style="normal" fill="#ff0000" textLength="12.55" lengthAdjust="spacingAndGlyphs">5</text><text x="716.87" y="740.38" font-size="32.02" font-weight="normal" font-style="normal" fill="#000000" textLength="112.69" lengthAdjust="spacingAndGlyphs">[M+2H]</text><text x="830.53" y="730.60" font-size="21.00" font-weight="normal" font-style="normal" fill="#000000" textLength="24.34" lengthAdjust="spacingAndGlyphs">2+</text><text x="798.70" y="783.56" font-size="34.49" font-weight="normal" font-style="normal" fill="#ff0000" textLength="31.97" lengthAdjust="spacingAndGlyphs">y”</text><text x="831.69" y="791.69" font-size="20.70" font-weight="normal" font-style="normal" fill="#ff0000" textLength="12.33" lengthAdjust="spacingAndGlyphs">6</text><text x="925.90" y="724.70" font-size="33.82" font-weight="normal" font-style="normal" fill="#ff0000" textLength="32.70" lengthAdjust="spacingAndGlyphs">y”</text><text x="959.02" y="733.72" font-size="22.21" font-weight="normal" font-style="normal" fill="#ff0000" textLength="13.18" lengthAdjust="spacingAndGlyphs">7</text><text x="1123.40" y="945.31" font-size="34.72" font-weight="normal" font-style="normal" fill="#ff0000" textLength="32.18" lengthAdjust="spacingAndGlyphs">y”</text><text x="1155.87" y="953.20" font-size="20.00" font-weight="normal" font-style="normal" fill="#ff0000" textLength="12.90" lengthAdjust="spacingAndGlyphs">8</text><text x="1261.60" y="1004.96" font-size="34.49" font-weight="normal" font-style="normal" fill="#ff0000" textLength="31.87" lengthAdjust="spacingAndGlyphs">y”</text><text x="1294.33" y="1013.58" font-size="22.25" font-weight="normal" font-style="normal" fill="#ff0000" textLength="13.06" lengthAdjust="spacingAndGlyphs">9</text><text x="108.68" y="634.23" font-size="17.46" font-weight="normal" font-style="normal" fill="#333333" stroke="#333333" stroke-width="0.35" textLength="26.59" lengthAdjust="spacingAndGlyphs">100</text><text x="175.18" y="634.23" font-size="17.46" font-weight="normal" font-style="normal" fill="#333333" stroke="#333333" stroke-width="0.35" textLength="26.59" lengthAdjust="spacingAndGlyphs">150</text><text x="242.17" y="634.23" font-size="17.46" font-weight="normal" font-style="normal" fill="#333333" stroke="#333333" stroke-width="0.35" textLength="26.08" lengthAdjust="spacingAndGlyphs">200</text><text x="308.67" y="634.23" font-size="17.46" font-weight="normal" font-style="normal" fill="#333333" stroke="#333333" stroke-width="0.35" textLength="26.08" lengthAdjust="spacingAndGlyphs">250</text><text x="375.33" y="634.23" font-size="17.46" font-weight="normal" font-style="normal" fill="#333333" stroke="#333333" stroke-width="0.35" textLength="25.92" lengthAdjust="spacingAndGlyphs">300</text><text x="441.83" y="634.23" font-size="17.46" font-weight="normal" font-style="normal" fill="#333333" stroke="#333333" stroke-width="0.35" textLength="25.92" lengthAdjust="spacingAndGlyphs">350</text><text x="508.64" y="634.23" font-size="17.46" font-weight="normal" font-style="normal" fill="#333333" stroke="#333333" stroke-width="0.35" textLength="25.60" lengthAdjust="spacingAndGlyphs">400</text><text x="575.14" y="634.23" font-size="17.46" font-weight="normal" font-style="normal" fill="#333333" stroke="#333333" stroke-width="0.35" textLength="25.60" lengthAdjust="spacingAndGlyphs">450</text><text x="641.33" y="634.23" font-size="17.46" font-weight="normal" font-style="normal" fill="#333333" stroke="#333333" stroke-width="0.35" textLength="25.92" lengthAdjust="spacingAndGlyphs">500</text><text x="707.83" y="634.23" font-size="17.46" font-weight="normal" font-style="normal" fill="#333333" stroke="#333333" stroke-width="0.35" textLength="25.92" lengthAdjust="spacingAndGlyphs">550</text><text x="774.17" y="634.23" font-size="17.46" font-weight="normal" font-style="normal" fill="#333333" stroke="#333333" stroke-width="0.35" textLength="26.08" lengthAdjust="spacingAndGlyphs">600</text><text x="840.67" y="634.23" font-size="17.46" font-weight="normal" font-style="normal" fill="#333333" stroke="#333333" stroke-width="0.35" textLength="26.08" lengthAdjust="spacingAndGlyphs">650</text><text x="907.17" y="634.23" font-size="17.46" font-weight="normal" font-style="normal" fill="#333333" stroke="#333333" stroke-width="0.35" textLength="26.08" lengthAdjust="spacingAndGlyphs">700</text><text x="973.67" y="634.23" font-size="17.46" font-weight="normal" font-style="normal" fill="#333333" stroke="#333333" stroke-width="0.35" textLength="26.08" lengthAdjust="spacingAndGlyphs">750</text><text x="1040.33" y="634.23" font-size="17.46" font-weight="normal" font-style="normal" fill="#333333" stroke="#333333" stroke-width="0.35" textLength="25.92" lengthAdjust="spacingAndGlyphs">800</text><text x="1106.83" y="634.23" font-size="17.46" font-weight="normal" font-style="normal" fill="#333333" stroke="#333333" stroke-width="0.35" textLength="25.92" lengthAdjust="spacingAndGlyphs">850</text><text x="1173.17" y="634.23" font-size="17.46" font-weight="normal" font-style="normal" fill="#333333" stroke="#333333" stroke-width="0.35" textLength="26.08" lengthAdjust="spacingAndGlyphs">900</text><text x="1239.67" y="634.23" font-size="17.46" font-weight="normal" font-style="normal" fill="#333333" stroke="#333333" stroke-width="0.35" textLength="26.08" lengthAdjust="spacingAndGlyphs">950</text><text x="1302.24" y="634.23" font-size="17.46" font-weight="normal" font-style="normal" fill="#333333" stroke="#333333" stroke-width="0.35" textLength="33.58" lengthAdjust="spacingAndGlyphs">1000</text><text x="1368.74" y="634.23" font-size="17.46" font-weight="normal" font-style="normal" fill="#333333" stroke="#333333" stroke-width="0.35" textLength="33.58" lengthAdjust="spacingAndGlyphs">1050</text><text x="1435.20" y="634.23" font-size="17.46" font-weight="normal" font-style="normal" fill="#333333" stroke="#333333" stroke-width="0.35" textLength="33.58" lengthAdjust="spacingAndGlyphs">1100</text><text x="1464.83" y="616.40" font-size="12.88" font-weight="normal" font-style="normal" fill="#333333" stroke="#333333" stroke-width="0.35" textLength="27.03" lengthAdjust="spacingAndGlyphs">m/z</text><text x="108.68" y="1068.03" font-size="17.46" font-weight="normal" font-style="normal" fill="#333333" stroke="#333333" stroke-width="0.35" textLength="26.59" lengthAdjust="spacingAndGlyphs">100</text><text x="175.18" y="1068.03" font-size="17.46" font-weight="normal" font-style="normal" fill="#333333" stroke="#333333" stroke-width="0.35" textLength="26.59" lengthAdjust="spacingAndGlyphs">150</text><text x="242.17" y="1068.03" font-size="17.46" font-weight="normal" font-style="normal" fill="#333333" stroke="#333333" stroke-width="0.35" textLength="26.08" lengthAdjust="spacingAndGlyphs">200</text><text x="308.67" y="1068.03" font-size="17.46" font-weight="normal" font-style="normal" fill="#333333" stroke="#333333" stroke-width="0.35" textLength="26.08" lengthAdjust="spacingAndGlyphs">250</text><text x="375.33" y="1068.03" font-size="17.46" font-weight="normal" font-style="normal" fill="#333333" stroke="#333333" stroke-width="0.35" textLength="25.92" lengthAdjust="spacingAndGlyphs">300</text><text x="441.83" y="1068.03" font-size="17.46" font-weight="normal" font-style="normal" fill="#333333" stroke="#333333" stroke-width="0.35" textLength="25.92" lengthAdjust="spacingAndGlyphs">350</text><text x="508.64" y="1068.03" font-size="17.46" font-weight="normal" font-style="normal" fill="#333333" stroke="#333333" stroke-width="0.35" textLength="25.60" lengthAdjust="spacingAndGlyphs">400</text><text x="575.14" y="1068.03" font-size="17.46" font-weight="normal" font-style="normal" fill="#333333" stroke="#333333" stroke-width="0.35" textLength="25.60" lengthAdjust="spacingAndGlyphs">450</text><text x="641.33" y="1068.03" font-size="17.46" font-weight="normal" font-style="normal" fill="#333333" stroke="#333333" stroke-width="0.35" textLength="25.92" lengthAdjust="spacingAndGlyphs">500</text><text x="707.83" y="1068.03" font-size="17.46" font-weight="normal" font-style="normal" fill="#333333" stroke="#333333" stroke-width="0.35" textLength="25.92" lengthAdjust="spacingAndGlyphs">550</text><text x="774.17" y="1068.03" font-size="17.46" font-weight="normal" font-style="normal" fill="#333333" stroke="#333333" stroke-width="0.35" textLength="26.08" lengthAdjust="spacingAndGlyphs">600</text><text x="840.67" y="1068.03" font-size="17.46" font-weight="normal" font-style="normal" fill="#333333" stroke="#333333" stroke-width="0.35" textLength="26.08" lengthAdjust="spacingAndGlyphs">650</text><text x="907.17" y="1068.03" font-size="17.46" font-weight="normal" font-style="normal" fill="#333333" stroke="#333333" stroke-width="0.35" textLength="26.08" lengthAdjust="spacingAndGlyphs">700</text><text x="973.67" y="1068.03" font-size="17.46" font-weight="normal" font-style="normal" fill="#333333" stroke="#333333" stroke-width="0.35" textLength="26.08" lengthAdjust="spacingAndGlyphs">750</text><text x="1040.33" y="1068.03" font-size="17.46" font-weight="normal" font-style="normal" fill="#333333" stroke="#333333" stroke-width="0.35" textLength="25.92" lengthAdjust="spacingAndGlyphs">800</text><text x="1106.83" y="1068.03" font-size="17.46" font-weight="normal" font-style="normal" fill="#333333" stroke="#333333" stroke-width="0.35" textLength="25.92" lengthAdjust="spacingAndGlyphs">850</text><text x="1173.17" y="1068.03" font-size="17.46" font-weight="normal" font-style="normal" fill="#333333" stroke="#333333" stroke-width="0.35" textLength="26.08" lengthAdjust="spacingAndGlyphs">900</text><text x="1239.67" y="1068.03" font-size="17.46" font-weight="normal" font-style="normal" fill="#333333" stroke="#333333" stroke-width="0.35" textLength="26.08" lengthAdjust="spacingAndGlyphs">950</text><text x="1302.24" y="1068.03" font-size="17.46" font-weight="normal" font-style="normal" fill="#333333" stroke="#333333" stroke-width="0.35" textLength="33.58" lengthAdjust="spacingAndGlyphs">1000</text><text x="1368.74" y="1068.03" font-size="17.46" font-weight="normal" font-style="normal" fill="#333333" stroke="#333333" stroke-width="0.35" textLength="33.58" lengthAdjust="spacingAndGlyphs">1050</text><text x="1435.20" y="1068.03" font-size="17.46" font-weight="normal" font-style="normal" fill="#333333" stroke="#333333" stroke-width="0.35" textLength="33.58" lengthAdjust="spacingAndGlyphs">1100</text><text x="1464.83" y="1050.20" font-size="12.88" font-weight="normal" font-style="normal" fill="#333333" stroke="#333333" stroke-width="0.35" textLength="27.03" lengthAdjust="spacingAndGlyphs">m/z</text><text x="38.12" y="253.53" font-size="17.32" font-weight="normal" font-style="normal" fill="#333333" stroke="#333333" stroke-width="0.35" textLength="26.70" lengthAdjust="spacingAndGlyphs">100</text><text x="55.38" y="615.82" font-size="17.61" font-weight="normal" font-style="normal" fill="#333333" stroke="#333333" stroke-width="0.35" textLength="8.69" lengthAdjust="spacingAndGlyphs">0</text><text x="38.45" y="687.23" font-size="17.46" font-weight="normal" font-style="normal" fill="#333333" stroke="#333333" stroke-width="0.35" textLength="26.16" lengthAdjust="spacingAndGlyphs">100</text><text x="55.38" y="1047.82" font-size="17.61" font-weight="normal" font-style="normal" fill="#333333" stroke="#333333" stroke-width="0.35" textLength="8.69" lengthAdjust="spacingAndGlyphs">0</text><g transform="translate(31.8,0) rotate(-90)" fill="#000"><text x="-762.50" y="0" font-size="32.0" textLength="19.64" lengthAdjust="spacingAndGlyphs">R</text><text x="-745.43" y="0" font-size="32.0" textLength="19.88" lengthAdjust="spacingAndGlyphs">e</text><text x="-726.12" y="0" font-size="32.0" textLength="8.53" lengthAdjust="spacingAndGlyphs">l</text><text x="-717.28" y="0" font-size="32.0" textLength="16.37" lengthAdjust="spacingAndGlyphs">a</text><text x="-696.59" y="0" font-size="32.0" textLength="11.39" lengthAdjust="spacingAndGlyphs">t</text><text x="-683.77" y="0" font-size="32.0" textLength="8.53" lengthAdjust="spacingAndGlyphs">i</text><text x="-675.36" y="0" font-size="32.0" textLength="18.12" lengthAdjust="spacingAndGlyphs">v</text><text x="-656.80" y="0" font-size="32.0" textLength="18.11" lengthAdjust="spacingAndGlyphs">e</text><text x="-634.17" y="0" font-size="32.0" textLength="8.53" lengthAdjust="spacingAndGlyphs">i</text><text x="-628.47" y="0" font-size="32.0" textLength="21.19" lengthAdjust="spacingAndGlyphs">n</text><text x="-606.34" y="0" font-size="32.0" textLength="11.39" lengthAdjust="spacingAndGlyphs">t</text><text x="-592.48" y="0" font-size="32.0" textLength="20.59" lengthAdjust="spacingAndGlyphs">e</text><text x="-574.05" y="0" font-size="32.0" textLength="20.26" lengthAdjust="spacingAndGlyphs">n</text><text x="-554.23" y="0" font-size="32.0" textLength="13.84" lengthAdjust="spacingAndGlyphs">s</text><text x="-541.57" y="0" font-size="32.0" textLength="8.53" lengthAdjust="spacingAndGlyphs">i</text><text x="-532.54" y="0" font-size="32.0" textLength="11.39" lengthAdjust="spacingAndGlyphs">t</text><text x="-517.90" y="0" font-size="32.0" textLength="14.70" lengthAdjust="spacingAndGlyphs">y</text></g><text transform="translate(58.7,428.3) rotate(-90)" x="0" y="0" font-size="17" fill="#333333" text-anchor="middle" dy="6">%</text><text transform="translate(58.7,861.8) rotate(-90)" x="0" y="0" font-size="17" fill="#333333" text-anchor="middle" dy="6">%</text></g><path d="M517.6,42.0 H565.5 V159.2 H612.8" fill="none" stroke="#35551f" stroke-width="6.1" stroke-linejoin="miter"/><path d="M530.1,33.2 L514.6,42.0 L530.1,50.8" fill="none" stroke="#35551f" stroke-width="6.1" stroke-linecap="round" stroke-linejoin="miter" stroke-miterlimit="10"/><path d="M600.3,150.4 L615.8,159.2 L600.3,168.0" fill="none" stroke="#35551f" stroke-width="6.1" stroke-linecap="round" stroke-linejoin="miter" stroke-miterlimit="10"/><path d="M1322.0,41.1 H1369.5 V157.4 H1417.2" fill="none" stroke="#35551f" stroke-width="6.1" stroke-linejoin="miter"/><path d="M1334.5,32.3 L1319.0,41.1 L1334.5,49.9" fill="none" stroke="#35551f" stroke-width="6.1" stroke-linecap="round" stroke-linejoin="miter" stroke-miterlimit="10"/><path d="M1404.7,148.6 L1420.2,157.4 L1404.7,166.2" fill="none" stroke="#35551f" stroke-width="6.1" stroke-linecap="round" stroke-linejoin="miter" stroke-miterlimit="10"/></svg></body></html>
